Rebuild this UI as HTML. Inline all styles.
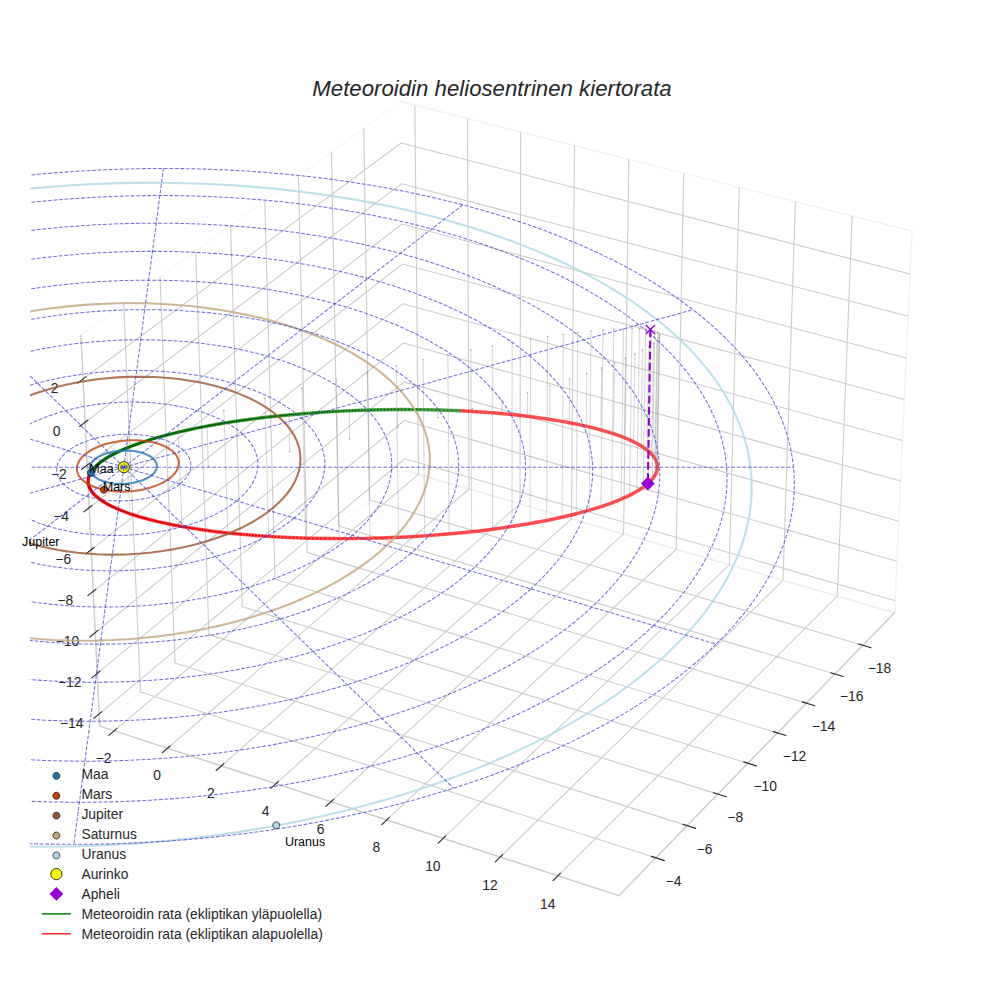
<!DOCTYPE html>
<html><head><meta charset="utf-8"><title>Meteoroidin heliosentrinen kiertorata</title>
<style>html,body{margin:0;padding:0;background:#fff;}body{width:984px;height:984px;overflow:hidden;font-family:"Liberation Sans",sans-serif;}svg{display:block;}</style>
</head><body>
<svg  width="984" height="984" viewBox="0 0 708.48 708.48"  version="1.1">
<defs>
<style type="text/css">*{stroke-linejoin: round; stroke-linecap: butt}</style>
</defs>
<g id="figure_1">
<g id="patch_1">
<path d="M 0 708.48
L 708.48 708.48
L 708.48 0
L 0 0
z
" style="fill: #ffffff"/>
</g>
<g id="patch_2">
<path d="M 21.6 686.88
L 686.88 686.88
L 686.88 21.6
L 21.6 21.6
z
" style="fill: #ffffff"/>
</g>
<g id="pane3d_1">
<g id="patch_3">
<path d="M 291.53 338.69
L 71.83 522.84
L 58.27 241.1
L 288.48 73.1
" style="fill: none; opacity: 0.5; stroke: #f2f2f2; stroke-linejoin: miter"/>
</g>
</g>
<g id="pane3d_2">
<g id="patch_4">
<path d="M 291.53 338.69
L 644.07 441.16
L 656.65 166.43
L 288.48 73.1
" style="fill: none; opacity: 0.5; stroke: #e6e6e6; stroke-linejoin: miter"/>
</g>
</g>
<g id="pane3d_3">
<g id="patch_5">
<path d="M 291.53 338.69
L 644.07 441.16
L 445.54 644.9
L 71.83 522.84
" style="fill: none; opacity: 0.5; stroke: #ececec; stroke-linejoin: miter"/>
</g>
</g>
<g id="grid3d_1">
<g id="Line3DCollection_1">
<path d="M 82.17 526.22
L 301.33 341.54
L 298.69 75.69
" style="fill: none; stroke: #cccccc; stroke-width: 0.8"/>
<path d="M 120.56 538.76
L 337.68 352.1
L 336.58 85.3
" style="fill: none; stroke: #cccccc; stroke-width: 0.8"/>
<path d="M 159.38 551.44
L 374.4 362.77
L 374.88 95.01
" style="fill: none; stroke: #cccccc; stroke-width: 0.8"/>
<path d="M 198.63 564.26
L 411.5 373.56
L 413.59 104.82
" style="fill: none; stroke: #cccccc; stroke-width: 0.8"/>
<path d="M 238.33 577.22
L 448.98 384.45
L 452.72 114.74
" style="fill: none; stroke: #cccccc; stroke-width: 0.8"/>
<path d="M 278.48 590.33
L 486.85 395.46
L 492.27 124.76
" style="fill: none; stroke: #cccccc; stroke-width: 0.8"/>
<path d="M 319.08 603.6
L 525.12 406.58
L 532.25 134.9
" style="fill: none; stroke: #cccccc; stroke-width: 0.8"/>
<path d="M 360.16 617.01
L 563.79 417.83
L 572.68 145.14
" style="fill: none; stroke: #cccccc; stroke-width: 0.8"/>
<path d="M 401.7 630.58
L 602.88 429.18
L 613.55 155.5
" style="fill: none; stroke: #cccccc; stroke-width: 0.8"/>
</g>
</g>
<g id="grid3d_2">
<g id="Line3DCollection_2">
<path d="M 261.95 92.46
L 266.13 359.98
L 621.2 464.62
" style="fill: none; stroke: #cccccc; stroke-width: 0.8"/>
<path d="M 238.64 109.48
L 243.83 378.68
L 601.11 485.24
" style="fill: none; stroke: #cccccc; stroke-width: 0.8"/>
<path d="M 214.88 126.81
L 221.12 397.71
L 580.63 506.26
" style="fill: none; stroke: #cccccc; stroke-width: 0.8"/>
<path d="M 190.68 144.47
L 197.99 417.09
L 559.76 527.68
" style="fill: none; stroke: #cccccc; stroke-width: 0.8"/>
<path d="M 166.01 162.48
L 174.45 436.83
L 538.48 549.51
" style="fill: none; stroke: #cccccc; stroke-width: 0.8"/>
<path d="M 140.86 180.83
L 150.46 456.93
L 516.79 571.77
" style="fill: none; stroke: #cccccc; stroke-width: 0.8"/>
<path d="M 115.22 199.54
L 126.03 477.41
L 494.68 594.47
" style="fill: none; stroke: #cccccc; stroke-width: 0.8"/>
<path d="M 89.07 218.62
L 101.13 498.28
L 472.12 617.62
" style="fill: none; stroke: #cccccc; stroke-width: 0.8"/>
</g>
</g>
<g id="grid3d_3">
<g id="Line3DCollection_3">
<path d="M 644.46 432.5
L 291.43 330.3
L 71.41 513.98
" style="fill: none; stroke: #cccccc; stroke-width: 0.8"/>
<path d="M 645.76 404.06
L 291.12 302.76
L 70 484.85
" style="fill: none; stroke: #cccccc; stroke-width: 0.8"/>
<path d="M 647.08 375.35
L 290.8 274.97
L 68.59 455.44
" style="fill: none; stroke: #cccccc; stroke-width: 0.8"/>
<path d="M 648.41 346.37
L 290.48 246.94
L 67.16 425.75
" style="fill: none; stroke: #cccccc; stroke-width: 0.8"/>
<path d="M 649.75 317.13
L 290.15 218.65
L 65.71 395.77
" style="fill: none; stroke: #cccccc; stroke-width: 0.8"/>
<path d="M 651.1 287.6
L 289.82 190.11
L 64.26 365.49
" style="fill: none; stroke: #cccccc; stroke-width: 0.8"/>
<path d="M 652.46 257.8
L 289.49 161.31
L 62.78 334.91
" style="fill: none; stroke: #cccccc; stroke-width: 0.8"/>
<path d="M 653.84 227.71
L 289.16 132.25
L 61.3 304.03
" style="fill: none; stroke: #cccccc; stroke-width: 0.8"/>
<path d="M 655.23 197.33
L 288.82 102.93
L 59.79 272.85
" style="fill: none; stroke: #cccccc; stroke-width: 0.8"/>
</g>
</g>
<g id="axis3d_1">
<g id="line2d_1">
<path d="M 71.83 522.84
L 445.54 644.9
" style="fill: none; stroke: #cccccc; stroke-linecap: round"/>
</g>
<g id="xtick_1">
<g id="line2d_2">
<path d="M 363.23 345.25
" clip-path="url(#p7f481affdd)" style="fill: none; stroke: #cccccc; stroke-width: 0.8; stroke-linecap: round"/>
</g>
<g id="line2d_3">
<path d="M 84.08 524.61
L 78.35 529.44
" style="fill: none; stroke: #262626; stroke-width: 0.8; stroke-linecap: round"/>
</g>
<g id="text_1">
<text style="font-size: 10px; font-family: 'Liberation Sans', sans-serif; text-anchor: middle; fill: #262626" x="74.66" y="549.11" transform="rotate(-0 74.65708 549.10945)">−2</text>
</g>
</g>
<g id="xtick_2">
<g id="line2d_4">
<path d="M 363.23 345.25
" clip-path="url(#p7f481affdd)" style="fill: none; stroke: #cccccc; stroke-width: 0.8; stroke-linecap: round"/>
</g>
<g id="line2d_5">
<path d="M 122.45 537.13
L 116.77 542.02
" style="fill: none; stroke: #262626; stroke-width: 0.8; stroke-linecap: round"/>
</g>
<g id="text_2">
<text style="font-size: 10px; font-family: 'Liberation Sans', sans-serif; text-anchor: middle; fill: #262626" x="113.06" y="561.75" transform="rotate(-0 113.0607 561.75274)">0</text>
</g>
</g>
<g id="xtick_3">
<g id="line2d_6">
<path d="M 363.23 345.25
" clip-path="url(#p7f481affdd)" style="fill: none; stroke: #cccccc; stroke-width: 0.8; stroke-linecap: round"/>
</g>
<g id="line2d_7">
<path d="M 161.25 549.79
L 155.62 554.73
" style="fill: none; stroke: #262626; stroke-width: 0.8; stroke-linecap: round"/>
</g>
<g id="text_3">
<text style="font-size: 10px; font-family: 'Liberation Sans', sans-serif; text-anchor: middle; fill: #262626" x="151.89" y="574.54" transform="rotate(-0 151.89398 574.53748)">2</text>
</g>
</g>
<g id="xtick_4">
<g id="line2d_8">
<path d="M 363.23 345.25
" clip-path="url(#p7f481affdd)" style="fill: none; stroke: #cccccc; stroke-width: 0.8; stroke-linecap: round"/>
</g>
<g id="line2d_9">
<path d="M 200.49 562.59
L 194.91 567.59
" style="fill: none; stroke: #262626; stroke-width: 0.8; stroke-linecap: round"/>
</g>
<g id="text_4">
<text style="font-size: 10px; font-family: 'Liberation Sans', sans-serif; text-anchor: middle; fill: #262626" x="191.16" y="587.47" transform="rotate(-0 191.16416 587.46607)">4</text>
</g>
</g>
<g id="xtick_5">
<g id="line2d_10">
<path d="M 363.23 345.25
" clip-path="url(#p7f481affdd)" style="fill: none; stroke: #cccccc; stroke-width: 0.8; stroke-linecap: round"/>
</g>
<g id="line2d_11">
<path d="M 240.17 575.54
L 234.65 580.59
" style="fill: none; stroke: #262626; stroke-width: 0.8; stroke-linecap: round"/>
</g>
<g id="text_5">
<text style="font-size: 10px; font-family: 'Liberation Sans', sans-serif; text-anchor: middle; fill: #262626" x="230.88" y="600.54" transform="rotate(-0 230.87866 600.54093)">6</text>
</g>
</g>
<g id="xtick_6">
<g id="line2d_12">
<path d="M 363.23 345.25
" clip-path="url(#p7f481affdd)" style="fill: none; stroke: #cccccc; stroke-width: 0.8; stroke-linecap: round"/>
</g>
<g id="line2d_13">
<path d="M 280.3 588.63
L 274.83 593.74
" style="fill: none; stroke: #262626; stroke-width: 0.8; stroke-linecap: round"/>
</g>
<g id="text_6">
<text style="font-size: 10px; font-family: 'Liberation Sans', sans-serif; text-anchor: middle; fill: #262626" x="271.05" y="613.76" transform="rotate(-0 271.04507 613.76457)">8</text>
</g>
</g>
<g id="xtick_7">
<g id="line2d_14">
<path d="M 363.23 345.25
" clip-path="url(#p7f481affdd)" style="fill: none; stroke: #cccccc; stroke-width: 0.8; stroke-linecap: round"/>
</g>
<g id="line2d_15">
<path d="M 320.88 601.88
L 315.48 607.04
" style="fill: none; stroke: #262626; stroke-width: 0.8; stroke-linecap: round"/>
</g>
<g id="text_7">
<text style="font-size: 10px; font-family: 'Liberation Sans', sans-serif; text-anchor: middle; fill: #262626" x="311.67" y="627.14" transform="rotate(-0 311.67113 627.13954)">10</text>
</g>
</g>
<g id="xtick_8">
<g id="line2d_16">
<path d="M 363.23 345.25
" clip-path="url(#p7f481affdd)" style="fill: none; stroke: #cccccc; stroke-width: 0.8; stroke-linecap: round"/>
</g>
<g id="line2d_17">
<path d="M 361.94 615.27
L 356.59 620.5
" style="fill: none; stroke: #262626; stroke-width: 0.8; stroke-linecap: round"/>
</g>
<g id="text_8">
<text style="font-size: 10px; font-family: 'Liberation Sans', sans-serif; text-anchor: middle; fill: #262626" x="352.76" y="640.67" transform="rotate(-0 352.76479 640.66845)">12</text>
</g>
</g>
<g id="xtick_9">
<g id="line2d_18">
<path d="M 363.23 345.25
" clip-path="url(#p7f481affdd)" style="fill: none; stroke: #cccccc; stroke-width: 0.8; stroke-linecap: round"/>
</g>
<g id="line2d_19">
<path d="M 403.46 628.82
L 398.18 634.11
" style="fill: none; stroke: #262626; stroke-width: 0.8; stroke-linecap: round"/>
</g>
<g id="text_9">
<text style="font-size: 10px; font-family: 'Liberation Sans', sans-serif; text-anchor: middle; fill: #262626" x="394.33" y="654.35" transform="rotate(-0 394.33417 654.35398)">14</text>
</g>
</g>
</g>
<g id="axis3d_2">
<g id="line2d_20">
<path d="M 644.07 441.16
L 445.54 644.9
" style="fill: none; stroke: #cccccc; stroke-linecap: round"/>
</g>
<g id="xtick_10">
<g id="line2d_21">
<path d="M 363.23 345.25
" clip-path="url(#p7f481affdd)" style="fill: none; stroke: #cccccc; stroke-width: 0.8; stroke-linecap: round"/>
</g>
<g id="line2d_22">
<path d="M 618.22 463.74
L 627.17 466.38
" style="fill: none; stroke: #262626; stroke-width: 0.8; stroke-linecap: round"/>
</g>
<g id="text_10">
<text style="font-size: 10px; font-family: 'Liberation Sans', sans-serif; text-anchor: middle; fill: #262626" x="633.21" y="484.3" transform="rotate(-0 633.20981 484.303)">−18</text>
</g>
</g>
<g id="xtick_11">
<g id="line2d_23">
<path d="M 363.23 345.25
" clip-path="url(#p7f481affdd)" style="fill: none; stroke: #cccccc; stroke-width: 0.8; stroke-linecap: round"/>
</g>
<g id="line2d_24">
<path d="M 598.1 484.35
L 607.12 487.04
" style="fill: none; stroke: #262626; stroke-width: 0.8; stroke-linecap: round"/>
</g>
<g id="text_11">
<text style="font-size: 10px; font-family: 'Liberation Sans', sans-serif; text-anchor: middle; fill: #262626" x="613.22" y="505.05" transform="rotate(-0 613.22049 505.04958)">−16</text>
</g>
</g>
<g id="xtick_12">
<g id="line2d_25">
<path d="M 363.23 345.25
" clip-path="url(#p7f481affdd)" style="fill: none; stroke: #cccccc; stroke-width: 0.8; stroke-linecap: round"/>
</g>
<g id="line2d_26">
<path d="M 577.61 505.35
L 586.68 508.09
" style="fill: none; stroke: #262626; stroke-width: 0.8; stroke-linecap: round"/>
</g>
<g id="text_12">
<text style="font-size: 10px; font-family: 'Liberation Sans', sans-serif; text-anchor: middle; fill: #262626" x="592.85" y="526.19" transform="rotate(-0 592.85197 526.18974)">−14</text>
</g>
</g>
<g id="xtick_13">
<g id="line2d_27">
<path d="M 363.23 345.25
" clip-path="url(#p7f481affdd)" style="fill: none; stroke: #cccccc; stroke-width: 0.8; stroke-linecap: round"/>
</g>
<g id="line2d_28">
<path d="M 556.71 526.75
L 565.85 529.54
" style="fill: none; stroke: #262626; stroke-width: 0.8; stroke-linecap: round"/>
</g>
<g id="text_13">
<text style="font-size: 10px; font-family: 'Liberation Sans', sans-serif; text-anchor: middle; fill: #262626" x="572.09" y="547.73" transform="rotate(-0 572.09335 547.73477)">−12</text>
</g>
</g>
<g id="xtick_14">
<g id="line2d_29">
<path d="M 363.23 345.25
" clip-path="url(#p7f481affdd)" style="fill: none; stroke: #cccccc; stroke-width: 0.8; stroke-linecap: round"/>
</g>
<g id="line2d_30">
<path d="M 535.42 548.56
L 544.61 551.41
" style="fill: none; stroke: #262626; stroke-width: 0.8; stroke-linecap: round"/>
</g>
<g id="text_14">
<text style="font-size: 10px; font-family: 'Liberation Sans', sans-serif; text-anchor: middle; fill: #262626" x="550.93" y="569.7" transform="rotate(-0 550.93331 569.69642)">−10</text>
</g>
</g>
<g id="xtick_15">
<g id="line2d_31">
<path d="M 363.23 345.25
" clip-path="url(#p7f481affdd)" style="fill: none; stroke: #cccccc; stroke-width: 0.8; stroke-linecap: round"/>
</g>
<g id="line2d_32">
<path d="M 513.71 570.8
L 522.97 573.71
" style="fill: none; stroke: #262626; stroke-width: 0.8; stroke-linecap: round"/>
</g>
<g id="text_15">
<text style="font-size: 10px; font-family: 'Liberation Sans', sans-serif; text-anchor: middle; fill: #262626" x="529.36" y="592.09" transform="rotate(-0 529.36011 592.0869)">−8</text>
</g>
</g>
<g id="xtick_16">
<g id="line2d_33">
<path d="M 363.23 345.25
" clip-path="url(#p7f481affdd)" style="fill: none; stroke: #cccccc; stroke-width: 0.8; stroke-linecap: round"/>
</g>
<g id="line2d_34">
<path d="M 491.57 593.48
L 500.89 596.44
" style="fill: none; stroke: #262626; stroke-width: 0.8; stroke-linecap: round"/>
</g>
<g id="text_16">
<text style="font-size: 10px; font-family: 'Liberation Sans', sans-serif; text-anchor: middle; fill: #262626" x="507.36" y="614.92" transform="rotate(-0 507.36152 614.91887)">−6</text>
</g>
</g>
<g id="xtick_17">
<g id="line2d_35">
<path d="M 363.23 345.25
" clip-path="url(#p7f481affdd)" style="fill: none; stroke: #cccccc; stroke-width: 0.8; stroke-linecap: round"/>
</g>
<g id="line2d_36">
<path d="M 468.99 616.61
L 478.38 619.63
" style="fill: none; stroke: #262626; stroke-width: 0.8; stroke-linecap: round"/>
</g>
<g id="text_17">
<text style="font-size: 10px; font-family: 'Liberation Sans', sans-serif; text-anchor: middle; fill: #262626" x="484.92" y="638.21" transform="rotate(-0 484.92484 638.20554)">−4</text>
</g>
</g>
</g>
<g id="axis3d_3">
<g id="line2d_37">
<path d="M 71.83 522.84
L 58.27 241.1
" style="fill: none; stroke: #cccccc; stroke-linecap: round"/>
</g>
<g id="xtick_18">
<g id="line2d_38">
<path d="M 363.23 345.25
" style="fill: none; stroke: #cccccc; stroke-width: 0.8; stroke-linecap: round"/>
</g>
<g id="line2d_39">
<path d="M 73.32 512.38
L 67.57 517.19
" style="fill: none; stroke: #262626; stroke-width: 0.8; stroke-linecap: round"/>
</g>
<g id="text_18">
<text style="font-size: 10px; font-family: 'Liberation Sans', sans-serif; text-anchor: middle; fill: #262626" x="51.65" y="524.04" transform="rotate(-0 51.6463 524.03781)">−14</text>
</g>
</g>
<g id="xtick_19">
<g id="line2d_40">
<path d="M 363.23 345.25
" style="fill: none; stroke: #cccccc; stroke-width: 0.8; stroke-linecap: round"/>
</g>
<g id="line2d_41">
<path d="M 71.93 483.27
L 66.14 488.03
" style="fill: none; stroke: #262626; stroke-width: 0.8; stroke-linecap: round"/>
</g>
<g id="text_19">
<text style="font-size: 10px; font-family: 'Liberation Sans', sans-serif; text-anchor: middle; fill: #262626" x="50.15" y="494.89" transform="rotate(-0 50.14675 494.88698)">−12</text>
</g>
</g>
<g id="xtick_20">
<g id="line2d_42">
<path d="M 363.23 345.25
" style="fill: none; stroke: #cccccc; stroke-width: 0.8; stroke-linecap: round"/>
</g>
<g id="line2d_43">
<path d="M 70.52 453.87
L 64.71 458.6
" style="fill: none; stroke: #262626; stroke-width: 0.8; stroke-linecap: round"/>
</g>
<g id="text_20">
<text style="font-size: 10px; font-family: 'Liberation Sans', sans-serif; text-anchor: middle; fill: #262626" x="48.63" y="465.45" transform="rotate(-0 48.6327 465.4542)">−10</text>
</g>
</g>
<g id="xtick_21">
<g id="line2d_44">
<path d="M 363.23 345.25
" style="fill: none; stroke: #cccccc; stroke-width: 0.8; stroke-linecap: round"/>
</g>
<g id="line2d_45">
<path d="M 69.1 424.19
L 63.26 428.87
" style="fill: none; stroke: #262626; stroke-width: 0.8; stroke-linecap: round"/>
</g>
<g id="text_21">
<text style="font-size: 10px; font-family: 'Liberation Sans', sans-serif; text-anchor: middle; fill: #262626" x="47.1" y="435.74" transform="rotate(-0 47.10393 435.73537)">−8</text>
</g>
</g>
<g id="xtick_22">
<g id="line2d_46">
<path d="M 363.23 345.25
" style="fill: none; stroke: #cccccc; stroke-width: 0.8; stroke-linecap: round"/>
</g>
<g id="line2d_47">
<path d="M 67.67 394.22
L 61.79 398.86
" style="fill: none; stroke: #262626; stroke-width: 0.8; stroke-linecap: round"/>
</g>
<g id="text_22">
<text style="font-size: 10px; font-family: 'Liberation Sans', sans-serif; text-anchor: middle; fill: #262626" x="45.56" y="405.73" transform="rotate(-0 45.56023 405.7263)">−6</text>
</g>
</g>
<g id="xtick_23">
<g id="line2d_48">
<path d="M 363.23 345.25
" style="fill: none; stroke: #cccccc; stroke-width: 0.8; stroke-linecap: round"/>
</g>
<g id="line2d_49">
<path d="M 66.22 363.96
L 60.31 368.55
" style="fill: none; stroke: #262626; stroke-width: 0.8; stroke-linecap: round"/>
</g>
<g id="text_23">
<text style="font-size: 10px; font-family: 'Liberation Sans', sans-serif; text-anchor: middle; fill: #262626" x="44" y="375.42" transform="rotate(-0 44.00138 375.42271)">−4</text>
</g>
</g>
<g id="xtick_24">
<g id="line2d_50">
<path d="M 363.23 345.25
" style="fill: none; stroke: #cccccc; stroke-width: 0.8; stroke-linecap: round"/>
</g>
<g id="line2d_51">
<path d="M 64.76 333.4
L 58.82 337.95
" style="fill: none; stroke: #262626; stroke-width: 0.8; stroke-linecap: round"/>
</g>
<g id="text_24">
<text style="font-size: 10px; font-family: 'Liberation Sans', sans-serif; text-anchor: middle; fill: #262626" x="42.43" y="344.82" transform="rotate(-0 42.42715 344.82024)">−2</text>
</g>
</g>
<g id="xtick_25">
<g id="line2d_52">
<path d="M 363.23 345.25
" style="fill: none; stroke: #cccccc; stroke-width: 0.8; stroke-linecap: round"/>
</g>
<g id="line2d_53">
<path d="M 63.29 302.53
L 57.31 307.04
" style="fill: none; stroke: #262626; stroke-width: 0.8; stroke-linecap: round"/>
</g>
<g id="text_25">
<text style="font-size: 10px; font-family: 'Liberation Sans', sans-serif; text-anchor: middle; fill: #262626" x="40.84" y="313.91" transform="rotate(-0 40.83732 313.91445)">0</text>
</g>
</g>
<g id="xtick_26">
<g id="line2d_54">
<path d="M 363.23 345.25
" style="fill: none; stroke: #cccccc; stroke-width: 0.8; stroke-linecap: round"/>
</g>
<g id="line2d_55">
<path d="M 61.79 271.36
L 55.78 275.82
" style="fill: none; stroke: #262626; stroke-width: 0.8; stroke-linecap: round"/>
</g>
<g id="text_26">
<text style="font-size: 10px; font-family: 'Liberation Sans', sans-serif; text-anchor: middle; fill: #262626" x="39.23" y="282.7" transform="rotate(-0 39.23166 282.70082)">2</text>
</g>
</g>
</g>
<g id="axes_1">
<g id="line2d_56">
<defs>
<path id="m7e0662d85e" d="M 0 4
C 1.06 4 2.08 3.58 2.83 2.83
C 3.58 2.08 4 1.06 4 0
C 4 -1.06 3.58 -2.08 2.83 -2.83
C 2.08 -3.58 1.06 -4 0 -4
C -1.06 -4 -2.08 -3.58 -2.83 -2.83
C -3.58 -2.08 -4 -1.06 -4 0
C -4 1.06 -3.58 2.08 -2.83 2.83
C -2.08 3.58 -1.06 4 0 4
z
" style="stroke: #000000; stroke-width: 0.6"/>
</defs>
<g clip-path="url(#p7f481affdd)">
<use href="#m7e0662d85e" x="89.17" y="336.38" style="fill: #ffff00; stroke: #000000; stroke-width: 0.6"/>
</g>
</g>
<g id="line2d_57">
<path d="M 466.45 348.2
L 467.81 346.95
L 469.02 345.7
L 470.08 344.44
L 470.99 343.18
L 471.76 341.92
L 472.37 340.66
L 472.84 339.41
L 473.15 338.16
L 473.32 336.91
L 473.33 335.67
L 473.2 334.44
L 472.93 333.22
L 472.51 332.01
L 471.95 330.8
L 471.25 329.62
L 470.42 328.44
L 469.45 327.28
L 468.35 326.14
L 467.12 325.01
L 465.78 323.9
L 464.3 322.81
L 462.72 321.73
L 461.02 320.68
L 459.21 319.65
L 457.3 318.63
L 455.29 317.64
L 453.18 316.67
L 450.98 315.73
L 448.69 314.8
L 446.32 313.9
L 443.87 313.02
L 441.34 312.17
L 438.75 311.34
L 436.09 310.53
L 433.36 309.75
L 430.58 308.99
L 427.75 308.25
L 424.87 307.54
L 421.94 306.85
L 418.97 306.18
L 415.96 305.54
L 412.92 304.92
L 409.85 304.33
L 406.75 303.75
L 403.62 303.2
L 400.48 302.67
L 397.32 302.16
L 394.14 301.67
L 390.95 301.21
L 387.76 300.76
L 384.56 300.34
L 381.35 299.93
L 378.15 299.54
L 374.94 299.18
L 371.74 298.83
L 368.54 298.5
L 365.36 298.18
L 362.18 297.89
L 359.01 297.61
L 355.85 297.34
L 352.71 297.1
L 349.59 296.87
L 346.48 296.65
L 343.39 296.45
L 340.32 296.26
L 337.27 296.08
L 334.24 295.92
L 331.24 295.78
" clip-path="url(#p7f481affdd)" style="fill: none; stroke: #ff0000; stroke-opacity: 0.7; stroke-width: 2.5"/>
</g>
<g id="line2d_58">
<path d="M 331.24 295.78
L 316.58 295.22
L 302.59 294.92
L 289.32 294.85
L 274.37 295.01
L 260.47 295.38
L 245.55 296.01
L 231.95 296.8
L 217.89 297.84
L 203.79 299.13
L 191.3 300.48
L 179.06 302.02
L 167.31 303.71
L 156.22 305.51
L 145.16 307.54
L 135.14 309.61
L 125.6 311.81
L 117.17 313.98
L 109.37 316.21
L 102.26 318.48
L 95.86 320.76
L 90.33 322.96
L 85.37 325.17
L 81.08 327.31
L 77.36 329.42
L 74.22 331.45
L 71.56 333.42
L 69.38 335.31
L 67.6 337.13
L 66.17 338.9
L 65.22 340.37
L 65.22 340.37
" clip-path="url(#p7f481affdd)" style="fill: none; stroke: #008000; stroke-opacity: 0.7; stroke-width: 2.5"/>
</g>
<g id="line2d_59">
<path d="M 65.22 340.37
L 64.38 342.02
L 63.83 343.58
L 63.51 345.13
L 63.41 346.68
L 63.55 348.22
L 63.92 349.76
L 64.52 351.29
L 65.35 352.81
L 66.49 354.43
L 67.91 356.03
L 69.73 357.75
L 71.87 359.44
L 74.54 361.26
L 77.58 363.04
L 80.96 364.78
L 85.03 366.63
L 89.46 368.4
L 94.73 370.27
L 100.32 372.04
L 106.89 373.87
L 113.69 375.56
L 121.57 377.29
L 130.69 379.04
L 139.86 380.58
L 150.31 382.09
L 160.42 383.34
L 171.71 384.52
L 184.32 385.6
L 195.91 386.38
L 208.56 387.03
L 222.33 387.52
L 237.25 387.78
L 250.04 387.81
L 263.56 387.64
L 277.81 387.24
L 292.73 386.59
L 308.24 385.64
L 320.21 384.72
L 332.39 383.6
L 344.72 382.27
L 357.12 380.73
L 369.49 378.96
L 381.72 376.95
L 393.71 374.72
L 405.31 372.24
L 412.77 370.47
L 419.96 368.59
L 426.85 366.62
L 433.38 364.56
L 439.54 362.42
L 445.27 360.19
L 450.54 357.9
L 455.32 355.55
L 459.58 353.14
L 463.3 350.69
L 466.45 348.2
L 466.45 348.2
" clip-path="url(#p7f481affdd)" style="fill: none; stroke: #ff0000; stroke-opacity: 0.7; stroke-width: 2.5"/>
</g>
<g id="Path3DCollection_1">
<defs>
<path id="C0_0_9b8c488678" d="M 0 0.71
C 0.19 0.71 0.37 0.63 0.5 0.5
C 0.63 0.37 0.71 0.19 0.71 -0
C 0.71 -0.19 0.63 -0.37 0.5 -0.5
C 0.37 -0.63 0.19 -0.71 0 -0.71
C -0.19 -0.71 -0.37 -0.63 -0.5 -0.5
C -0.63 -0.37 -0.71 -0.19 -0.71 0
C -0.71 0.19 -0.63 0.37 -0.5 0.5
C -0.37 0.63 -0.19 0.71 0 0.71
z
"/>
</defs>
<g clip-path="url(#p7f481affdd)">
<use href="#C0_0_9b8c488678" x="352.99" y="381.27" style="fill: #e00000; fill-opacity: 0.034034"/>
</g>
<g clip-path="url(#p7f481affdd)">
<use href="#C0_0_9b8c488678" x="348.85" y="381.78" style="fill: #e00000; fill-opacity: 0.054054"/>
</g>
<g clip-path="url(#p7f481affdd)">
<use href="#C0_0_9b8c488678" x="344.72" y="382.27" style="fill: #e00000; fill-opacity: 0.074074"/>
</g>
<g clip-path="url(#p7f481affdd)">
<use href="#C0_0_9b8c488678" x="340.6" y="382.74" style="fill: #e00000; fill-opacity: 0.094094"/>
</g>
<g clip-path="url(#p7f481affdd)">
<use href="#C0_0_9b8c488678" x="336.49" y="383.18" style="fill: #e00000; fill-opacity: 0.114114"/>
</g>
<g clip-path="url(#p7f481affdd)">
<use href="#C0_0_9b8c488678" x="332.39" y="383.6" style="fill: #e00000; fill-opacity: 0.134134"/>
</g>
<g clip-path="url(#p7f481affdd)">
<use href="#C0_0_9b8c488678" x="328.31" y="383.99" style="fill: #e00000; fill-opacity: 0.154154"/>
</g>
<g clip-path="url(#p7f481affdd)">
<use href="#C0_0_9b8c488678" x="324.25" y="384.37" style="fill: #e00000; fill-opacity: 0.174174"/>
</g>
<g clip-path="url(#p7f481affdd)">
<use href="#C0_0_9b8c488678" x="320.21" y="384.72" style="fill: #e00000; fill-opacity: 0.194194"/>
</g>
<g clip-path="url(#p7f481affdd)">
<use href="#C0_0_9b8c488678" x="316.19" y="385.05" style="fill: #e00000; fill-opacity: 0.214214"/>
</g>
<g clip-path="url(#p7f481affdd)">
<use href="#C0_0_9b8c488678" x="312.21" y="385.35" style="fill: #e00000; fill-opacity: 0.234234"/>
</g>
<g clip-path="url(#p7f481affdd)">
<use href="#C0_0_9b8c488678" x="308.24" y="385.64" style="fill: #e00000; fill-opacity: 0.254254"/>
</g>
<g clip-path="url(#p7f481affdd)">
<use href="#C0_0_9b8c488678" x="304.32" y="385.9" style="fill: #e00000; fill-opacity: 0.274274"/>
</g>
<g clip-path="url(#p7f481affdd)">
<use href="#C0_0_9b8c488678" x="300.42" y="386.15" style="fill: #e00000; fill-opacity: 0.294294"/>
</g>
<g clip-path="url(#p7f481affdd)">
<use href="#C0_0_9b8c488678" x="296.56" y="386.38" style="fill: #e00000; fill-opacity: 0.314314"/>
</g>
<g clip-path="url(#p7f481affdd)">
<use href="#C0_0_9b8c488678" x="292.73" y="386.59" style="fill: #e00000; fill-opacity: 0.334334"/>
</g>
<g clip-path="url(#p7f481affdd)">
<use href="#C0_0_9b8c488678" x="288.94" y="386.78" style="fill: #e00000; fill-opacity: 0.354354"/>
</g>
<g clip-path="url(#p7f481affdd)">
<use href="#C0_0_9b8c488678" x="285.19" y="386.95" style="fill: #e00000; fill-opacity: 0.374374"/>
</g>
<g clip-path="url(#p7f481affdd)">
<use href="#C0_0_9b8c488678" x="281.48" y="387.1" style="fill: #e00000; fill-opacity: 0.394394"/>
</g>
<g clip-path="url(#p7f481affdd)">
<use href="#C0_0_9b8c488678" x="277.81" y="387.24" style="fill: #e00000; fill-opacity: 0.414414"/>
</g>
<g clip-path="url(#p7f481affdd)">
<use href="#C0_0_9b8c488678" x="274.18" y="387.36" style="fill: #e00000; fill-opacity: 0.434434"/>
</g>
<g clip-path="url(#p7f481affdd)">
<use href="#C0_0_9b8c488678" x="270.6" y="387.47" style="fill: #e00000; fill-opacity: 0.454454"/>
</g>
<g clip-path="url(#p7f481affdd)">
<use href="#C0_0_9b8c488678" x="267.06" y="387.56" style="fill: #e00000; fill-opacity: 0.474474"/>
</g>
<g clip-path="url(#p7f481affdd)">
<use href="#C0_0_9b8c488678" x="263.56" y="387.64" style="fill: #e00000; fill-opacity: 0.494494"/>
</g>
<g clip-path="url(#p7f481affdd)">
<use href="#C0_0_9b8c488678" x="260.11" y="387.7" style="fill: #e00000; fill-opacity: 0.514515"/>
</g>
<g clip-path="url(#p7f481affdd)">
<use href="#C0_0_9b8c488678" x="256.71" y="387.75" style="fill: #e00000; fill-opacity: 0.534535"/>
</g>
<g clip-path="url(#p7f481affdd)">
<use href="#C0_0_9b8c488678" x="253.35" y="387.79" style="fill: #e00000; fill-opacity: 0.554555"/>
</g>
<g clip-path="url(#p7f481affdd)">
<use href="#C0_0_9b8c488678" x="250.04" y="387.81" style="fill: #e00000; fill-opacity: 0.574575"/>
</g>
<g clip-path="url(#p7f481affdd)">
<use href="#C0_0_9b8c488678" x="246.77" y="387.82" style="fill: #e00000; fill-opacity: 0.594595"/>
</g>
<g clip-path="url(#p7f481affdd)">
<use href="#C0_0_9b8c488678" x="243.55" y="387.82" style="fill: #e00000; fill-opacity: 0.614615"/>
</g>
<g clip-path="url(#p7f481affdd)">
<use href="#C0_0_9b8c488678" x="240.38" y="387.81" style="fill: #e00000; fill-opacity: 0.634635"/>
</g>
<g clip-path="url(#p7f481affdd)">
<use href="#C0_0_9b8c488678" x="237.25" y="387.78" style="fill: #e00000; fill-opacity: 0.654655"/>
</g>
<g clip-path="url(#p7f481affdd)">
<use href="#C0_0_9b8c488678" x="234.17" y="387.75" style="fill: #e00000; fill-opacity: 0.674675"/>
</g>
<g clip-path="url(#p7f481affdd)">
<use href="#C0_0_9b8c488678" x="231.14" y="387.7" style="fill: #e00000; fill-opacity: 0.694695"/>
</g>
<g clip-path="url(#p7f481affdd)">
<use href="#C0_0_9b8c488678" x="228.16" y="387.65" style="fill: #e00000; fill-opacity: 0.714715"/>
</g>
<g clip-path="url(#p7f481affdd)">
<use href="#C0_0_9b8c488678" x="225.22" y="387.59" style="fill: #e00000; fill-opacity: 0.734735"/>
</g>
<g clip-path="url(#p7f481affdd)">
<use href="#C0_0_9b8c488678" x="222.33" y="387.52" style="fill: #e00000; fill-opacity: 0.754755"/>
</g>
<g clip-path="url(#p7f481affdd)">
<use href="#C0_0_9b8c488678" x="219.48" y="387.43" style="fill: #e00000; fill-opacity: 0.774775"/>
</g>
<g clip-path="url(#p7f481affdd)">
<use href="#C0_0_9b8c488678" x="216.68" y="387.35" style="fill: #e00000; fill-opacity: 0.794795"/>
</g>
<g clip-path="url(#p7f481affdd)">
<use href="#C0_0_9b8c488678" x="213.93" y="387.25" style="fill: #e00000; fill-opacity: 0.814815"/>
</g>
<g clip-path="url(#p7f481affdd)">
<use href="#C0_0_9b8c488678" x="211.22" y="387.15" style="fill: #e00000; fill-opacity: 0.834835"/>
</g>
<g clip-path="url(#p7f481affdd)">
<use href="#C0_0_9b8c488678" x="208.56" y="387.03" style="fill: #e00000; fill-opacity: 0.854855"/>
</g>
<g clip-path="url(#p7f481affdd)">
<use href="#C0_0_9b8c488678" x="205.94" y="386.92" style="fill: #e00000; fill-opacity: 0.874875"/>
</g>
<g clip-path="url(#p7f481affdd)">
<use href="#C0_0_9b8c488678" x="203.37" y="386.79" style="fill: #e00000; fill-opacity: 0.894895"/>
</g>
<g clip-path="url(#p7f481affdd)">
<use href="#C0_0_9b8c488678" x="200.84" y="386.66" style="fill: #e00000; fill-opacity: 0.914915"/>
</g>
<g clip-path="url(#p7f481affdd)">
<use href="#C0_0_9b8c488678" x="198.35" y="386.52" style="fill: #e00000; fill-opacity: 0.934935"/>
</g>
<g clip-path="url(#p7f481affdd)">
<use href="#C0_0_9b8c488678" x="195.91" y="386.38" style="fill: #e00000; fill-opacity: 0.954955"/>
</g>
<g clip-path="url(#p7f481affdd)">
<use href="#C0_0_9b8c488678" x="193.51" y="386.23" style="fill: #e00000; fill-opacity: 0.974975"/>
</g>
<g clip-path="url(#p7f481affdd)">
<use href="#C0_0_9b8c488678" x="191.15" y="386.08" style="fill: #e00000; fill-opacity: 0.994995"/>
</g>
<g clip-path="url(#p7f481affdd)">
<use href="#C0_0_9b8c488678" x="188.83" y="385.92" style="fill: #e00000"/>
</g>
<g clip-path="url(#p7f481affdd)">
<use href="#C0_0_9b8c488678" x="186.55" y="385.76" style="fill: #e00000"/>
</g>
<g clip-path="url(#p7f481affdd)">
<use href="#C0_0_9b8c488678" x="184.32" y="385.6" style="fill: #e00000"/>
</g>
<g clip-path="url(#p7f481affdd)">
<use href="#C0_0_9b8c488678" x="182.12" y="385.42" style="fill: #e00000"/>
</g>
<g clip-path="url(#p7f481affdd)">
<use href="#C0_0_9b8c488678" x="179.96" y="385.25" style="fill: #e00000"/>
</g>
<g clip-path="url(#p7f481affdd)">
<use href="#C0_0_9b8c488678" x="177.84" y="385.07" style="fill: #e00000"/>
</g>
<g clip-path="url(#p7f481affdd)">
<use href="#C0_0_9b8c488678" x="175.76" y="384.89" style="fill: #e00000"/>
</g>
<g clip-path="url(#p7f481affdd)">
<use href="#C0_0_9b8c488678" x="173.72" y="384.71" style="fill: #e00000"/>
</g>
<g clip-path="url(#p7f481affdd)">
<use href="#C0_0_9b8c488678" x="171.71" y="384.52" style="fill: #e00000"/>
</g>
<g clip-path="url(#p7f481affdd)">
<use href="#C0_0_9b8c488678" x="169.74" y="384.33" style="fill: #e00000"/>
</g>
<g clip-path="url(#p7f481affdd)">
<use href="#C0_0_9b8c488678" x="167.81" y="384.13" style="fill: #e00000"/>
</g>
<g clip-path="url(#p7f481affdd)">
<use href="#C0_0_9b8c488678" x="165.91" y="383.94" style="fill: #e00000"/>
</g>
<g clip-path="url(#p7f481affdd)">
<use href="#C0_0_9b8c488678" x="164.05" y="383.74" style="fill: #e00000"/>
</g>
<g clip-path="url(#p7f481affdd)">
<use href="#C0_0_9b8c488678" x="162.22" y="383.54" style="fill: #e00000"/>
</g>
<g clip-path="url(#p7f481affdd)">
<use href="#C0_0_9b8c488678" x="160.42" y="383.34" style="fill: #e00000"/>
</g>
<g clip-path="url(#p7f481affdd)">
<use href="#C0_0_9b8c488678" x="158.66" y="383.13" style="fill: #e00000"/>
</g>
<g clip-path="url(#p7f481affdd)">
<use href="#C0_0_9b8c488678" x="156.93" y="382.93" style="fill: #e00000"/>
</g>
<g clip-path="url(#p7f481affdd)">
<use href="#C0_0_9b8c488678" x="155.23" y="382.72" style="fill: #e00000"/>
</g>
<g clip-path="url(#p7f481affdd)">
<use href="#C0_0_9b8c488678" x="153.56" y="382.51" style="fill: #e00000"/>
</g>
<g clip-path="url(#p7f481affdd)">
<use href="#C0_0_9b8c488678" x="151.92" y="382.3" style="fill: #e00000"/>
</g>
<g clip-path="url(#p7f481affdd)">
<use href="#C0_0_9b8c488678" x="150.31" y="382.09" style="fill: #e00000"/>
</g>
<g clip-path="url(#p7f481affdd)">
<use href="#C0_0_9b8c488678" x="148.74" y="381.87" style="fill: #e00000"/>
</g>
<g clip-path="url(#p7f481affdd)">
<use href="#C0_0_9b8c488678" x="147.19" y="381.66" style="fill: #e00000"/>
</g>
<g clip-path="url(#p7f481affdd)">
<use href="#C0_0_9b8c488678" x="145.67" y="381.44" style="fill: #e00000"/>
</g>
<g clip-path="url(#p7f481affdd)">
<use href="#C0_0_9b8c488678" x="144.18" y="381.23" style="fill: #e00000"/>
</g>
<g clip-path="url(#p7f481affdd)">
<use href="#C0_0_9b8c488678" x="142.71" y="381.01" style="fill: #e00000"/>
</g>
<g clip-path="url(#p7f481affdd)">
<use href="#C0_0_9b8c488678" x="141.27" y="380.79" style="fill: #e00000"/>
</g>
<g clip-path="url(#p7f481affdd)">
<use href="#C0_0_9b8c488678" x="139.86" y="380.58" style="fill: #e00000"/>
</g>
<g clip-path="url(#p7f481affdd)">
<use href="#C0_0_9b8c488678" x="138.48" y="380.36" style="fill: #e00000"/>
</g>
<g clip-path="url(#p7f481affdd)">
<use href="#C0_0_9b8c488678" x="137.12" y="380.14" style="fill: #e00000"/>
</g>
<g clip-path="url(#p7f481affdd)">
<use href="#C0_0_9b8c488678" x="135.79" y="379.92" style="fill: #e00000"/>
</g>
<g clip-path="url(#p7f481affdd)">
<use href="#C0_0_9b8c488678" x="134.48" y="379.7" style="fill: #e00000"/>
</g>
<g clip-path="url(#p7f481affdd)">
<use href="#C0_0_9b8c488678" x="133.19" y="379.48" style="fill: #e00000"/>
</g>
<g clip-path="url(#p7f481affdd)">
<use href="#C0_0_9b8c488678" x="131.93" y="379.26" style="fill: #e00000"/>
</g>
<g clip-path="url(#p7f481affdd)">
<use href="#C0_0_9b8c488678" x="130.69" y="379.04" style="fill: #e00000"/>
</g>
<g clip-path="url(#p7f481affdd)">
<use href="#C0_0_9b8c488678" x="129.47" y="378.82" style="fill: #e00000"/>
</g>
<g clip-path="url(#p7f481affdd)">
<use href="#C0_0_9b8c488678" x="365.36" y="298.18" style="fill: #e00000; fill-opacity: 0.054054"/>
</g>
<g clip-path="url(#p7f481affdd)">
<use href="#C0_0_9b8c488678" x="128.28" y="378.6" style="fill: #e00000"/>
</g>
<g clip-path="url(#p7f481affdd)">
<use href="#C0_0_9b8c488678" x="127.11" y="378.38" style="fill: #e00000"/>
</g>
<g clip-path="url(#p7f481affdd)">
<use href="#C0_0_9b8c488678" x="125.96" y="378.16" style="fill: #e00000"/>
</g>
<g clip-path="url(#p7f481affdd)">
<use href="#C0_0_9b8c488678" x="362.18" y="297.89" style="fill: #e00000; fill-opacity: 0.09009"/>
</g>
<g clip-path="url(#p7f481affdd)">
<use href="#C0_0_9b8c488678" x="124.83" y="377.94" style="fill: #e00000"/>
</g>
<g clip-path="url(#p7f481affdd)">
<use href="#C0_0_9b8c488678" x="123.72" y="377.73" style="fill: #e00000"/>
</g>
<g clip-path="url(#p7f481affdd)">
<use href="#C0_0_9b8c488678" x="359.01" y="297.61" style="fill: #e00000; fill-opacity: 0.126126"/>
</g>
<g clip-path="url(#p7f481affdd)">
<use href="#C0_0_9b8c488678" x="122.64" y="377.51" style="fill: #e00000"/>
</g>
<g clip-path="url(#p7f481affdd)">
<use href="#C0_0_9b8c488678" x="121.57" y="377.29" style="fill: #e00000"/>
</g>
<g clip-path="url(#p7f481affdd)">
<use href="#C0_0_9b8c488678" x="355.85" y="297.34" style="fill: #e00000; fill-opacity: 0.162162"/>
</g>
<g clip-path="url(#p7f481affdd)">
<use href="#C0_0_9b8c488678" x="120.52" y="377.07" style="fill: #e00000"/>
</g>
<g clip-path="url(#p7f481affdd)">
<use href="#C0_0_9b8c488678" x="119.49" y="376.85" style="fill: #e00000"/>
</g>
<g clip-path="url(#p7f481affdd)">
<use href="#C0_0_9b8c488678" x="118.48" y="376.64" style="fill: #e00000"/>
</g>
<g clip-path="url(#p7f481affdd)">
<use href="#C0_0_9b8c488678" x="352.71" y="297.1" style="fill: #e00000; fill-opacity: 0.198198"/>
</g>
<g clip-path="url(#p7f481affdd)">
<use href="#C0_0_9b8c488678" x="117.49" y="376.42" style="fill: #e00000"/>
</g>
<g clip-path="url(#p7f481affdd)">
<use href="#C0_0_9b8c488678" x="116.51" y="376.2" style="fill: #e00000"/>
</g>
<g clip-path="url(#p7f481affdd)">
<use href="#C0_0_9b8c488678" x="349.59" y="296.87" style="fill: #e00000; fill-opacity: 0.234234"/>
</g>
<g clip-path="url(#p7f481affdd)">
<use href="#C0_0_9b8c488678" x="115.56" y="375.99" style="fill: #e00000"/>
</g>
<g clip-path="url(#p7f481affdd)">
<use href="#C0_0_9b8c488678" x="114.62" y="375.77" style="fill: #e00000"/>
</g>
<g clip-path="url(#p7f481affdd)">
<use href="#C0_0_9b8c488678" x="346.48" y="296.65" style="fill: #e00000; fill-opacity: 0.27027"/>
</g>
<g clip-path="url(#p7f481affdd)">
<use href="#C0_0_9b8c488678" x="113.69" y="375.56" style="fill: #e00000"/>
</g>
<g clip-path="url(#p7f481affdd)">
<use href="#C0_0_9b8c488678" x="112.79" y="375.35" style="fill: #e00000"/>
</g>
<g clip-path="url(#p7f481affdd)">
<use href="#C0_0_9b8c488678" x="111.9" y="375.13" style="fill: #e00000"/>
</g>
<g clip-path="url(#p7f481affdd)">
<use href="#C0_0_9b8c488678" x="343.39" y="296.45" style="fill: #e00000; fill-opacity: 0.306306"/>
</g>
<g clip-path="url(#p7f481affdd)">
<use href="#C0_0_9b8c488678" x="111.03" y="374.92" style="fill: #e00000"/>
</g>
<g clip-path="url(#p7f481affdd)">
<use href="#C0_0_9b8c488678" x="110.17" y="374.71" style="fill: #e00000"/>
</g>
<g clip-path="url(#p7f481affdd)">
<use href="#C0_0_9b8c488678" x="340.32" y="296.26" style="fill: #e00000; fill-opacity: 0.342342"/>
</g>
<g clip-path="url(#p7f481affdd)">
<use href="#C0_0_9b8c488678" x="109.33" y="374.5" style="fill: #e00000"/>
</g>
<g clip-path="url(#p7f481affdd)">
<use href="#C0_0_9b8c488678" x="108.5" y="374.29" style="fill: #e00000"/>
</g>
<g clip-path="url(#p7f481affdd)">
<use href="#C0_0_9b8c488678" x="107.69" y="374.08" style="fill: #e00000"/>
</g>
<g clip-path="url(#p7f481affdd)">
<use href="#C0_0_9b8c488678" x="337.27" y="296.08" style="fill: #e00000; fill-opacity: 0.378378"/>
</g>
<g clip-path="url(#p7f481affdd)">
<use href="#C0_0_9b8c488678" x="106.89" y="373.87" style="fill: #e00000"/>
</g>
<g clip-path="url(#p7f481affdd)">
<use href="#C0_0_9b8c488678" x="106.11" y="373.67" style="fill: #e00000"/>
</g>
<g clip-path="url(#p7f481affdd)">
<use href="#C0_0_9b8c488678" x="334.24" y="295.92" style="fill: #e00000; fill-opacity: 0.414414"/>
</g>
<g clip-path="url(#p7f481affdd)">
<use href="#C0_0_9b8c488678" x="105.34" y="373.46" style="fill: #e00000"/>
</g>
<g clip-path="url(#p7f481affdd)">
<use href="#C0_0_9b8c488678" x="104.58" y="373.25" style="fill: #e00000"/>
</g>
<g clip-path="url(#p7f481affdd)">
<use href="#C0_0_9b8c488678" x="103.84" y="373.05" style="fill: #e00000"/>
</g>
<g clip-path="url(#p7f481affdd)">
<use href="#C0_0_9b8c488678" x="331.24" y="295.78" style="fill: #006400; fill-opacity: 0.45045"/>
</g>
<g clip-path="url(#p7f481affdd)">
<use href="#C0_0_9b8c488678" x="103.11" y="372.84" style="fill: #e00000"/>
</g>
<g clip-path="url(#p7f481affdd)">
<use href="#C0_0_9b8c488678" x="102.4" y="372.64" style="fill: #e00000"/>
</g>
<g clip-path="url(#p7f481affdd)">
<use href="#C0_0_9b8c488678" x="328.26" y="295.64" style="fill: #006400; fill-opacity: 0.486486"/>
</g>
<g clip-path="url(#p7f481affdd)">
<use href="#C0_0_9b8c488678" x="101.69" y="372.44" style="fill: #e00000"/>
</g>
<g clip-path="url(#p7f481affdd)">
<use href="#C0_0_9b8c488678" x="101" y="372.24" style="fill: #e00000"/>
</g>
<g clip-path="url(#p7f481affdd)">
<use href="#C0_0_9b8c488678" x="100.32" y="372.04" style="fill: #e00000"/>
</g>
<g clip-path="url(#p7f481affdd)">
<use href="#C0_0_9b8c488678" x="325.3" y="295.52" style="fill: #006400; fill-opacity: 0.522523"/>
</g>
<g clip-path="url(#p7f481affdd)">
<use href="#C0_0_9b8c488678" x="99.66" y="371.84" style="fill: #e00000"/>
</g>
<g clip-path="url(#p7f481affdd)">
<use href="#C0_0_9b8c488678" x="99" y="371.64" style="fill: #e00000"/>
</g>
<g clip-path="url(#p7f481affdd)">
<use href="#C0_0_9b8c488678" x="98.36" y="371.44" style="fill: #e00000"/>
</g>
<g clip-path="url(#p7f481affdd)">
<use href="#C0_0_9b8c488678" x="322.37" y="295.41" style="fill: #006400; fill-opacity: 0.558559"/>
</g>
<g clip-path="url(#p7f481affdd)">
<use href="#C0_0_9b8c488678" x="97.73" y="371.24" style="fill: #e00000"/>
</g>
<g clip-path="url(#p7f481affdd)">
<use href="#C0_0_9b8c488678" x="97.1" y="371.05" style="fill: #e00000"/>
</g>
<g clip-path="url(#p7f481affdd)">
<use href="#C0_0_9b8c488678" x="319.46" y="295.31" style="fill: #006400; fill-opacity: 0.594595"/>
</g>
<g clip-path="url(#p7f481affdd)">
<use href="#C0_0_9b8c488678" x="96.49" y="370.85" style="fill: #e00000"/>
</g>
<g clip-path="url(#p7f481affdd)">
<use href="#C0_0_9b8c488678" x="95.89" y="370.66" style="fill: #e00000"/>
</g>
<g clip-path="url(#p7f481affdd)">
<use href="#C0_0_9b8c488678" x="95.31" y="370.46" style="fill: #e00000"/>
</g>
<g clip-path="url(#p7f481affdd)">
<use href="#C0_0_9b8c488678" x="316.58" y="295.22" style="fill: #006400; fill-opacity: 0.630631"/>
</g>
<g clip-path="url(#p7f481affdd)">
<use href="#C0_0_9b8c488678" x="94.73" y="370.27" style="fill: #e00000"/>
</g>
<g clip-path="url(#p7f481affdd)">
<use href="#C0_0_9b8c488678" x="94.16" y="370.08" style="fill: #e00000"/>
</g>
<g clip-path="url(#p7f481affdd)">
<use href="#C0_0_9b8c488678" x="93.6" y="369.89" style="fill: #e00000"/>
</g>
<g clip-path="url(#p7f481affdd)">
<use href="#C0_0_9b8c488678" x="313.73" y="295.14" style="fill: #006400; fill-opacity: 0.666667"/>
</g>
<g clip-path="url(#p7f481affdd)">
<use href="#C0_0_9b8c488678" x="93.05" y="369.7" style="fill: #e00000"/>
</g>
<g clip-path="url(#p7f481affdd)">
<use href="#C0_0_9b8c488678" x="92.51" y="369.51" style="fill: #e00000"/>
</g>
<g clip-path="url(#p7f481affdd)">
<use href="#C0_0_9b8c488678" x="310.9" y="295.07" style="fill: #006400; fill-opacity: 0.702703"/>
</g>
<g clip-path="url(#p7f481affdd)">
<use href="#C0_0_9b8c488678" x="91.98" y="369.33" style="fill: #e00000"/>
</g>
<g clip-path="url(#p7f481affdd)">
<use href="#C0_0_9b8c488678" x="91.46" y="369.14" style="fill: #e00000"/>
</g>
<g clip-path="url(#p7f481affdd)">
<use href="#C0_0_9b8c488678" x="90.95" y="368.95" style="fill: #e00000"/>
</g>
<g clip-path="url(#p7f481affdd)">
<use href="#C0_0_9b8c488678" x="308.1" y="295.01" style="fill: #006400; fill-opacity: 0.738739"/>
</g>
<g clip-path="url(#p7f481affdd)">
<use href="#C0_0_9b8c488678" x="90.44" y="368.77" style="fill: #e00000"/>
</g>
<g clip-path="url(#p7f481affdd)">
<use href="#C0_0_9b8c488678" x="89.95" y="368.59" style="fill: #e00000"/>
</g>
<g clip-path="url(#p7f481affdd)">
<use href="#C0_0_9b8c488678" x="89.46" y="368.4" style="fill: #e00000"/>
</g>
<g clip-path="url(#p7f481affdd)">
<use href="#C0_0_9b8c488678" x="305.33" y="294.96" style="fill: #006400; fill-opacity: 0.774775"/>
</g>
<g clip-path="url(#p7f481affdd)">
<use href="#C0_0_9b8c488678" x="88.98" y="368.22" style="fill: #e00000"/>
</g>
<g clip-path="url(#p7f481affdd)">
<use href="#C0_0_9b8c488678" x="88.51" y="368.04" style="fill: #e00000"/>
</g>
<g clip-path="url(#p7f481affdd)">
<use href="#C0_0_9b8c488678" x="88.05" y="367.86" style="fill: #e00000"/>
</g>
<g clip-path="url(#p7f481affdd)">
<use href="#C0_0_9b8c488678" x="302.59" y="294.92" style="fill: #006400; fill-opacity: 0.810811"/>
</g>
<g clip-path="url(#p7f481affdd)">
<use href="#C0_0_9b8c488678" x="87.6" y="367.68" style="fill: #e00000"/>
</g>
<g clip-path="url(#p7f481affdd)">
<use href="#C0_0_9b8c488678" x="87.15" y="367.5" style="fill: #e00000"/>
</g>
<g clip-path="url(#p7f481affdd)">
<use href="#C0_0_9b8c488678" x="86.71" y="367.33" style="fill: #e00000"/>
</g>
<g clip-path="url(#p7f481affdd)">
<use href="#C0_0_9b8c488678" x="299.88" y="294.89" style="fill: #006400; fill-opacity: 0.846847"/>
</g>
<g clip-path="url(#p7f481affdd)">
<use href="#C0_0_9b8c488678" x="86.28" y="367.15" style="fill: #e00000"/>
</g>
<g clip-path="url(#p7f481affdd)">
<use href="#C0_0_9b8c488678" x="85.86" y="366.98" style="fill: #e00000"/>
</g>
<g clip-path="url(#p7f481affdd)">
<use href="#C0_0_9b8c488678" x="85.44" y="366.8" style="fill: #e00000"/>
</g>
<g clip-path="url(#p7f481affdd)">
<use href="#C0_0_9b8c488678" x="297.19" y="294.87" style="fill: #006400; fill-opacity: 0.882883"/>
</g>
<g clip-path="url(#p7f481affdd)">
<use href="#C0_0_9b8c488678" x="85.03" y="366.63" style="fill: #e00000"/>
</g>
<g clip-path="url(#p7f481affdd)">
<use href="#C0_0_9b8c488678" x="84.63" y="366.46" style="fill: #e00000"/>
</g>
<g clip-path="url(#p7f481affdd)">
<use href="#C0_0_9b8c488678" x="84.23" y="366.28" style="fill: #e00000"/>
</g>
<g clip-path="url(#p7f481affdd)">
<use href="#C0_0_9b8c488678" x="294.54" y="294.86" style="fill: #006400; fill-opacity: 0.918919"/>
</g>
<g clip-path="url(#p7f481affdd)">
<use href="#C0_0_9b8c488678" x="83.84" y="366.11" style="fill: #e00000"/>
</g>
<g clip-path="url(#p7f481affdd)">
<use href="#C0_0_9b8c488678" x="83.46" y="365.94" style="fill: #e00000"/>
</g>
<g clip-path="url(#p7f481affdd)">
<use href="#C0_0_9b8c488678" x="83.09" y="365.78" style="fill: #e00000"/>
</g>
<g clip-path="url(#p7f481affdd)">
<use href="#C0_0_9b8c488678" x="291.91" y="294.85" style="fill: #006400; fill-opacity: 0.954955"/>
</g>
<g clip-path="url(#p7f481affdd)">
<use href="#C0_0_9b8c488678" x="82.72" y="365.61" style="fill: #e00000"/>
</g>
<g clip-path="url(#p7f481affdd)">
<use href="#C0_0_9b8c488678" x="82.35" y="365.44" style="fill: #e00000"/>
</g>
<g clip-path="url(#p7f481affdd)">
<use href="#C0_0_9b8c488678" x="82" y="365.27" style="fill: #e00000"/>
</g>
<g clip-path="url(#p7f481affdd)">
<use href="#C0_0_9b8c488678" x="289.32" y="294.85" style="fill: #006400; fill-opacity: 0.990991"/>
</g>
<g clip-path="url(#p7f481affdd)">
<use href="#C0_0_9b8c488678" x="81.64" y="365.11" style="fill: #e00000"/>
</g>
<g clip-path="url(#p7f481affdd)">
<use href="#C0_0_9b8c488678" x="81.3" y="364.95" style="fill: #e00000"/>
</g>
<g clip-path="url(#p7f481affdd)">
<use href="#C0_0_9b8c488678" x="80.96" y="364.78" style="fill: #e00000"/>
</g>
<g clip-path="url(#p7f481affdd)">
<use href="#C0_0_9b8c488678" x="286.75" y="294.86" style="fill: #006400"/>
</g>
<g clip-path="url(#p7f481affdd)">
<use href="#C0_0_9b8c488678" x="80.63" y="364.62" style="fill: #e00000"/>
</g>
<g clip-path="url(#p7f481affdd)">
<use href="#C0_0_9b8c488678" x="80.3" y="364.46" style="fill: #e00000"/>
</g>
<g clip-path="url(#p7f481affdd)">
<use href="#C0_0_9b8c488678" x="79.97" y="364.3" style="fill: #e00000"/>
</g>
<g clip-path="url(#p7f481affdd)">
<use href="#C0_0_9b8c488678" x="284.22" y="294.88" style="fill: #006400"/>
</g>
<g clip-path="url(#p7f481affdd)">
<use href="#C0_0_9b8c488678" x="79.66" y="364.14" style="fill: #e00000"/>
</g>
<g clip-path="url(#p7f481affdd)">
<use href="#C0_0_9b8c488678" x="79.34" y="363.98" style="fill: #e00000"/>
</g>
<g clip-path="url(#p7f481affdd)">
<use href="#C0_0_9b8c488678" x="79.04" y="363.82" style="fill: #e00000"/>
</g>
<g clip-path="url(#p7f481affdd)">
<use href="#C0_0_9b8c488678" x="281.71" y="294.9" style="fill: #006400"/>
</g>
<g clip-path="url(#p7f481affdd)">
<use href="#C0_0_9b8c488678" x="78.74" y="363.66" style="fill: #e00000"/>
</g>
<g clip-path="url(#p7f481affdd)">
<use href="#C0_0_9b8c488678" x="78.44" y="363.51" style="fill: #e00000"/>
</g>
<g clip-path="url(#p7f481affdd)">
<use href="#C0_0_9b8c488678" x="78.15" y="363.35" style="fill: #e00000"/>
</g>
<g clip-path="url(#p7f481affdd)">
<use href="#C0_0_9b8c488678" x="279.23" y="294.93" style="fill: #006400"/>
</g>
<g clip-path="url(#p7f481affdd)">
<use href="#C0_0_9b8c488678" x="77.86" y="363.2" style="fill: #e00000"/>
</g>
<g clip-path="url(#p7f481affdd)">
<use href="#C0_0_9b8c488678" x="77.58" y="363.04" style="fill: #e00000"/>
</g>
<g clip-path="url(#p7f481affdd)">
<use href="#C0_0_9b8c488678" x="77.3" y="362.89" style="fill: #e00000"/>
</g>
<g clip-path="url(#p7f481affdd)">
<use href="#C0_0_9b8c488678" x="77.03" y="362.74" style="fill: #e00000"/>
</g>
<g clip-path="url(#p7f481affdd)">
<use href="#C0_0_9b8c488678" x="276.78" y="294.97" style="fill: #006400"/>
</g>
<g clip-path="url(#p7f481affdd)">
<use href="#C0_0_9b8c488678" x="76.76" y="362.58" style="fill: #e00000"/>
</g>
<g clip-path="url(#p7f481affdd)">
<use href="#C0_0_9b8c488678" x="76.5" y="362.43" style="fill: #e00000"/>
</g>
<g clip-path="url(#p7f481affdd)">
<use href="#C0_0_9b8c488678" x="76.24" y="362.28" style="fill: #e00000"/>
</g>
<g clip-path="url(#p7f481affdd)">
<use href="#C0_0_9b8c488678" x="274.37" y="295.01" style="fill: #006400"/>
</g>
<g clip-path="url(#p7f481affdd)">
<use href="#C0_0_9b8c488678" x="75.98" y="362.13" style="fill: #e00000"/>
</g>
<g clip-path="url(#p7f481affdd)">
<use href="#C0_0_9b8c488678" x="75.73" y="361.99" style="fill: #e00000"/>
</g>
<g clip-path="url(#p7f481affdd)">
<use href="#C0_0_9b8c488678" x="75.48" y="361.84" style="fill: #e00000"/>
</g>
<g clip-path="url(#p7f481affdd)">
<use href="#C0_0_9b8c488678" x="271.98" y="295.06" style="fill: #006400"/>
</g>
<g clip-path="url(#p7f481affdd)">
<use href="#C0_0_9b8c488678" x="75.24" y="361.69" style="fill: #e00000"/>
</g>
<g clip-path="url(#p7f481affdd)">
<use href="#C0_0_9b8c488678" x="75" y="361.55" style="fill: #e00000"/>
</g>
<g clip-path="url(#p7f481affdd)">
<use href="#C0_0_9b8c488678" x="74.77" y="361.4" style="fill: #e00000"/>
</g>
<g clip-path="url(#p7f481affdd)">
<use href="#C0_0_9b8c488678" x="269.62" y="295.11" style="fill: #006400"/>
</g>
<g clip-path="url(#p7f481affdd)">
<use href="#C0_0_9b8c488678" x="74.54" y="361.26" style="fill: #e00000"/>
</g>
<g clip-path="url(#p7f481affdd)">
<use href="#C0_0_9b8c488678" x="74.31" y="361.11" style="fill: #e00000"/>
</g>
<g clip-path="url(#p7f481affdd)">
<use href="#C0_0_9b8c488678" x="74.09" y="360.97" style="fill: #e00000"/>
</g>
<g clip-path="url(#p7f481affdd)">
<use href="#C0_0_9b8c488678" x="73.87" y="360.83" style="fill: #e00000"/>
</g>
<g clip-path="url(#p7f481affdd)">
<use href="#C0_0_9b8c488678" x="267.29" y="295.17" style="fill: #006400"/>
</g>
<g clip-path="url(#p7f481affdd)">
<use href="#C0_0_9b8c488678" x="73.65" y="360.69" style="fill: #e00000"/>
</g>
<g clip-path="url(#p7f481affdd)">
<use href="#C0_0_9b8c488678" x="73.44" y="360.54" style="fill: #e00000"/>
</g>
<g clip-path="url(#p7f481affdd)">
<use href="#C0_0_9b8c488678" x="73.23" y="360.4" style="fill: #e00000"/>
</g>
<g clip-path="url(#p7f481affdd)">
<use href="#C0_0_9b8c488678" x="264.98" y="295.23" style="fill: #006400"/>
</g>
<g clip-path="url(#p7f481affdd)">
<use href="#C0_0_9b8c488678" x="73.03" y="360.27" style="fill: #e00000"/>
</g>
<g clip-path="url(#p7f481affdd)">
<use href="#C0_0_9b8c488678" x="72.83" y="360.13" style="fill: #e00000"/>
</g>
<g clip-path="url(#p7f481affdd)">
<use href="#C0_0_9b8c488678" x="72.63" y="359.99" style="fill: #e00000"/>
</g>
<g clip-path="url(#p7f481affdd)">
<use href="#C0_0_9b8c488678" x="72.43" y="359.85" style="fill: #e00000"/>
</g>
<g clip-path="url(#p7f481affdd)">
<use href="#C0_0_9b8c488678" x="262.71" y="295.3" style="fill: #006400"/>
</g>
<g clip-path="url(#p7f481affdd)">
<use href="#C0_0_9b8c488678" x="72.24" y="359.71" style="fill: #e00000"/>
</g>
<g clip-path="url(#p7f481affdd)">
<use href="#C0_0_9b8c488678" x="72.06" y="359.58" style="fill: #e00000"/>
</g>
<g clip-path="url(#p7f481affdd)">
<use href="#C0_0_9b8c488678" x="71.87" y="359.44" style="fill: #e00000"/>
</g>
<g clip-path="url(#p7f481affdd)">
<use href="#C0_0_9b8c488678" x="260.47" y="295.38" style="fill: #006400"/>
</g>
<g clip-path="url(#p7f481affdd)">
<use href="#C0_0_9b8c488678" x="71.69" y="359.31" style="fill: #e00000"/>
</g>
<g clip-path="url(#p7f481affdd)">
<use href="#C0_0_9b8c488678" x="71.51" y="359.18" style="fill: #e00000"/>
</g>
<g clip-path="url(#p7f481affdd)">
<use href="#C0_0_9b8c488678" x="71.33" y="359.04" style="fill: #e00000"/>
</g>
<g clip-path="url(#p7f481affdd)">
<use href="#C0_0_9b8c488678" x="258.25" y="295.45" style="fill: #006400"/>
</g>
<g clip-path="url(#p7f481affdd)">
<use href="#C0_0_9b8c488678" x="71.16" y="358.91" style="fill: #e00000"/>
</g>
<g clip-path="url(#p7f481affdd)">
<use href="#C0_0_9b8c488678" x="70.99" y="358.78" style="fill: #e00000"/>
</g>
<g clip-path="url(#p7f481affdd)">
<use href="#C0_0_9b8c488678" x="70.82" y="358.65" style="fill: #e00000"/>
</g>
<g clip-path="url(#p7f481affdd)">
<use href="#C0_0_9b8c488678" x="70.66" y="358.52" style="fill: #e00000"/>
</g>
<g clip-path="url(#p7f481affdd)">
<use href="#C0_0_9b8c488678" x="256.07" y="295.54" style="fill: #006400"/>
</g>
<g clip-path="url(#p7f481affdd)">
<use href="#C0_0_9b8c488678" x="70.5" y="358.39" style="fill: #e00000"/>
</g>
<g clip-path="url(#p7f481affdd)">
<use href="#C0_0_9b8c488678" x="70.34" y="358.26" style="fill: #e00000"/>
</g>
<g clip-path="url(#p7f481affdd)">
<use href="#C0_0_9b8c488678" x="70.18" y="358.13" style="fill: #e00000"/>
</g>
<g clip-path="url(#p7f481affdd)">
<use href="#C0_0_9b8c488678" x="70.03" y="358" style="fill: #e00000"/>
</g>
<g clip-path="url(#p7f481affdd)">
<use href="#C0_0_9b8c488678" x="253.91" y="295.62" style="fill: #006400"/>
</g>
<g clip-path="url(#p7f481affdd)">
<use href="#C0_0_9b8c488678" x="69.88" y="357.87" style="fill: #e00000"/>
</g>
<g clip-path="url(#p7f481affdd)">
<use href="#C0_0_9b8c488678" x="69.73" y="357.75" style="fill: #e00000"/>
</g>
<g clip-path="url(#p7f481affdd)">
<use href="#C0_0_9b8c488678" x="69.59" y="357.62" style="fill: #e00000"/>
</g>
<g clip-path="url(#p7f481affdd)">
<use href="#C0_0_9b8c488678" x="251.78" y="295.71" style="fill: #006400"/>
</g>
<g clip-path="url(#p7f481affdd)">
<use href="#C0_0_9b8c488678" x="69.44" y="357.49" style="fill: #e00000"/>
</g>
<g clip-path="url(#p7f481affdd)">
<use href="#C0_0_9b8c488678" x="69.3" y="357.37" style="fill: #e00000"/>
</g>
<g clip-path="url(#p7f481affdd)">
<use href="#C0_0_9b8c488678" x="69.16" y="357.25" style="fill: #e00000"/>
</g>
<g clip-path="url(#p7f481affdd)">
<use href="#C0_0_9b8c488678" x="69.03" y="357.12" style="fill: #e00000"/>
</g>
<g clip-path="url(#p7f481affdd)">
<use href="#C0_0_9b8c488678" x="249.67" y="295.81" style="fill: #006400"/>
</g>
<g clip-path="url(#p7f481affdd)">
<use href="#C0_0_9b8c488678" x="68.89" y="357" style="fill: #e00000"/>
</g>
<g clip-path="url(#p7f481affdd)">
<use href="#C0_0_9b8c488678" x="68.76" y="356.88" style="fill: #e00000"/>
</g>
<g clip-path="url(#p7f481affdd)">
<use href="#C0_0_9b8c488678" x="68.63" y="356.75" style="fill: #e00000"/>
</g>
<g clip-path="url(#p7f481affdd)">
<use href="#C0_0_9b8c488678" x="247.6" y="295.91" style="fill: #006400"/>
</g>
<g clip-path="url(#p7f481affdd)">
<use href="#C0_0_9b8c488678" x="68.51" y="356.63" style="fill: #e00000"/>
</g>
<g clip-path="url(#p7f481affdd)">
<use href="#C0_0_9b8c488678" x="68.38" y="356.51" style="fill: #e00000"/>
</g>
<g clip-path="url(#p7f481affdd)">
<use href="#C0_0_9b8c488678" x="68.26" y="356.39" style="fill: #e00000"/>
</g>
<g clip-path="url(#p7f481affdd)">
<use href="#C0_0_9b8c488678" x="68.14" y="356.27" style="fill: #e00000"/>
</g>
<g clip-path="url(#p7f481affdd)">
<use href="#C0_0_9b8c488678" x="245.55" y="296.01" style="fill: #006400"/>
</g>
<g clip-path="url(#p7f481affdd)">
<use href="#C0_0_9b8c488678" x="68.02" y="356.15" style="fill: #e00000"/>
</g>
<g clip-path="url(#p7f481affdd)">
<use href="#C0_0_9b8c488678" x="67.91" y="356.03" style="fill: #e00000"/>
</g>
<g clip-path="url(#p7f481affdd)">
<use href="#C0_0_9b8c488678" x="67.8" y="355.92" style="fill: #e00000"/>
</g>
<g clip-path="url(#p7f481affdd)">
<use href="#C0_0_9b8c488678" x="67.68" y="355.8" style="fill: #e00000"/>
</g>
<g clip-path="url(#p7f481affdd)">
<use href="#C0_0_9b8c488678" x="243.53" y="296.11" style="fill: #006400"/>
</g>
<g clip-path="url(#p7f481affdd)">
<use href="#C0_0_9b8c488678" x="67.57" y="355.68" style="fill: #e00000"/>
</g>
<g clip-path="url(#p7f481affdd)">
<use href="#C0_0_9b8c488678" x="67.47" y="355.56" style="fill: #e00000"/>
</g>
<g clip-path="url(#p7f481affdd)">
<use href="#C0_0_9b8c488678" x="67.36" y="355.45" style="fill: #e00000"/>
</g>
<g clip-path="url(#p7f481affdd)">
<use href="#C0_0_9b8c488678" x="241.53" y="296.22" style="fill: #006400"/>
</g>
<g clip-path="url(#p7f481affdd)">
<use href="#C0_0_9b8c488678" x="67.26" y="355.33" style="fill: #e00000"/>
</g>
<g clip-path="url(#p7f481affdd)">
<use href="#C0_0_9b8c488678" x="67.16" y="355.22" style="fill: #e00000"/>
</g>
<g clip-path="url(#p7f481affdd)">
<use href="#C0_0_9b8c488678" x="67.06" y="355.1" style="fill: #e00000"/>
</g>
<g clip-path="url(#p7f481affdd)">
<use href="#C0_0_9b8c488678" x="66.96" y="354.99" style="fill: #e00000"/>
</g>
<g clip-path="url(#p7f481affdd)">
<use href="#C0_0_9b8c488678" x="239.56" y="296.33" style="fill: #006400"/>
</g>
<g clip-path="url(#p7f481affdd)">
<use href="#C0_0_9b8c488678" x="66.86" y="354.88" style="fill: #e00000"/>
</g>
<g clip-path="url(#p7f481affdd)">
<use href="#C0_0_9b8c488678" x="66.77" y="354.76" style="fill: #e00000"/>
</g>
<g clip-path="url(#p7f481affdd)">
<use href="#C0_0_9b8c488678" x="66.67" y="354.65" style="fill: #e00000"/>
</g>
<g clip-path="url(#p7f481affdd)">
<use href="#C0_0_9b8c488678" x="66.58" y="354.54" style="fill: #e00000"/>
</g>
<g clip-path="url(#p7f481affdd)">
<use href="#C0_0_9b8c488678" x="237.62" y="296.44" style="fill: #006400"/>
</g>
<g clip-path="url(#p7f481affdd)">
<use href="#C0_0_9b8c488678" x="66.49" y="354.43" style="fill: #e00000"/>
</g>
<g clip-path="url(#p7f481affdd)">
<use href="#C0_0_9b8c488678" x="66.41" y="354.32" style="fill: #e00000"/>
</g>
<g clip-path="url(#p7f481affdd)">
<use href="#C0_0_9b8c488678" x="66.32" y="354.21" style="fill: #e00000"/>
</g>
<g clip-path="url(#p7f481affdd)">
<use href="#C0_0_9b8c488678" x="66.24" y="354.1" style="fill: #e00000"/>
</g>
<g clip-path="url(#p7f481affdd)">
<use href="#C0_0_9b8c488678" x="235.7" y="296.56" style="fill: #006400"/>
</g>
<g clip-path="url(#p7f481affdd)">
<use href="#C0_0_9b8c488678" x="66.15" y="353.99" style="fill: #e00000"/>
</g>
<g clip-path="url(#p7f481affdd)">
<use href="#C0_0_9b8c488678" x="66.07" y="353.88" style="fill: #e00000"/>
</g>
<g clip-path="url(#p7f481affdd)">
<use href="#C0_0_9b8c488678" x="65.99" y="353.77" style="fill: #e00000"/>
</g>
<g clip-path="url(#p7f481affdd)">
<use href="#C0_0_9b8c488678" x="65.92" y="353.66" style="fill: #e00000"/>
</g>
<g clip-path="url(#p7f481affdd)">
<use href="#C0_0_9b8c488678" x="233.81" y="296.68" style="fill: #006400"/>
</g>
<g clip-path="url(#p7f481affdd)">
<use href="#C0_0_9b8c488678" x="65.84" y="353.55" style="fill: #e00000"/>
</g>
<g clip-path="url(#p7f481affdd)">
<use href="#C0_0_9b8c488678" x="65.77" y="353.45" style="fill: #e00000"/>
</g>
<g clip-path="url(#p7f481affdd)">
<use href="#C0_0_9b8c488678" x="65.69" y="353.34" style="fill: #e00000"/>
</g>
<g clip-path="url(#p7f481affdd)">
<use href="#C0_0_9b8c488678" x="65.62" y="353.23" style="fill: #e00000"/>
</g>
<g clip-path="url(#p7f481affdd)">
<use href="#C0_0_9b8c488678" x="231.95" y="296.8" style="fill: #006400"/>
</g>
<g clip-path="url(#p7f481affdd)">
<use href="#C0_0_9b8c488678" x="65.55" y="353.13" style="fill: #e00000"/>
</g>
<g clip-path="url(#p7f481affdd)">
<use href="#C0_0_9b8c488678" x="65.48" y="353.02" style="fill: #e00000"/>
</g>
<g clip-path="url(#p7f481affdd)">
<use href="#C0_0_9b8c488678" x="65.42" y="352.92" style="fill: #e00000"/>
</g>
<g clip-path="url(#p7f481affdd)">
<use href="#C0_0_9b8c488678" x="230.11" y="296.92" style="fill: #006400"/>
</g>
<g clip-path="url(#p7f481affdd)">
<use href="#C0_0_9b8c488678" x="65.35" y="352.81" style="fill: #e00000"/>
</g>
<g clip-path="url(#p7f481affdd)">
<use href="#C0_0_9b8c488678" x="65.28" y="352.71" style="fill: #e00000"/>
</g>
<g clip-path="url(#p7f481affdd)">
<use href="#C0_0_9b8c488678" x="65.22" y="352.6" style="fill: #e00000"/>
</g>
<g clip-path="url(#p7f481affdd)">
<use href="#C0_0_9b8c488678" x="65.16" y="352.5" style="fill: #e00000"/>
</g>
<g clip-path="url(#p7f481affdd)">
<use href="#C0_0_9b8c488678" x="228.29" y="297.05" style="fill: #006400"/>
</g>
<g clip-path="url(#p7f481affdd)">
<use href="#C0_0_9b8c488678" x="65.1" y="352.4" style="fill: #e00000"/>
</g>
<g clip-path="url(#p7f481affdd)">
<use href="#C0_0_9b8c488678" x="65.04" y="352.29" style="fill: #e00000"/>
</g>
<g clip-path="url(#p7f481affdd)">
<use href="#C0_0_9b8c488678" x="64.98" y="352.19" style="fill: #e00000"/>
</g>
<g clip-path="url(#p7f481affdd)">
<use href="#C0_0_9b8c488678" x="64.93" y="352.09" style="fill: #e00000"/>
</g>
<g clip-path="url(#p7f481affdd)">
<use href="#C0_0_9b8c488678" x="226.5" y="297.18" style="fill: #006400"/>
</g>
<g clip-path="url(#p7f481affdd)">
<use href="#C0_0_9b8c488678" x="64.87" y="351.99" style="fill: #e00000"/>
</g>
<g clip-path="url(#p7f481affdd)">
<use href="#C0_0_9b8c488678" x="64.82" y="351.89" style="fill: #e00000"/>
</g>
<g clip-path="url(#p7f481affdd)">
<use href="#C0_0_9b8c488678" x="64.76" y="351.79" style="fill: #e00000"/>
</g>
<g clip-path="url(#p7f481affdd)">
<use href="#C0_0_9b8c488678" x="64.71" y="351.69" style="fill: #e00000"/>
</g>
<g clip-path="url(#p7f481affdd)">
<use href="#C0_0_9b8c488678" x="224.73" y="297.31" style="fill: #006400"/>
</g>
<g clip-path="url(#p7f481affdd)">
<use href="#C0_0_9b8c488678" x="64.66" y="351.59" style="fill: #e00000"/>
</g>
<g clip-path="url(#p7f481affdd)">
<use href="#C0_0_9b8c488678" x="64.61" y="351.49" style="fill: #e00000"/>
</g>
<g clip-path="url(#p7f481affdd)">
<use href="#C0_0_9b8c488678" x="64.57" y="351.39" style="fill: #e00000"/>
</g>
<g clip-path="url(#p7f481affdd)">
<use href="#C0_0_9b8c488678" x="64.52" y="351.29" style="fill: #e00000"/>
</g>
<g clip-path="url(#p7f481affdd)">
<use href="#C0_0_9b8c488678" x="222.99" y="297.44" style="fill: #006400"/>
</g>
<g clip-path="url(#p7f481affdd)">
<use href="#C0_0_9b8c488678" x="64.47" y="351.19" style="fill: #e00000"/>
</g>
<g clip-path="url(#p7f481affdd)">
<use href="#C0_0_9b8c488678" x="64.43" y="351.09" style="fill: #e00000"/>
</g>
<g clip-path="url(#p7f481affdd)">
<use href="#C0_0_9b8c488678" x="64.39" y="351" style="fill: #e00000"/>
</g>
<g clip-path="url(#p7f481affdd)">
<use href="#C0_0_9b8c488678" x="64.34" y="350.9" style="fill: #e00000"/>
</g>
<g clip-path="url(#p7f481affdd)">
<use href="#C0_0_9b8c488678" x="221.26" y="297.57" style="fill: #006400"/>
</g>
<g clip-path="url(#p7f481affdd)">
<use href="#C0_0_9b8c488678" x="64.3" y="350.8" style="fill: #e00000"/>
</g>
<g clip-path="url(#p7f481affdd)">
<use href="#C0_0_9b8c488678" x="64.26" y="350.7" style="fill: #e00000"/>
</g>
<g clip-path="url(#p7f481affdd)">
<use href="#C0_0_9b8c488678" x="64.22" y="350.61" style="fill: #e00000"/>
</g>
<g clip-path="url(#p7f481affdd)">
<use href="#C0_0_9b8c488678" x="64.19" y="350.51" style="fill: #e00000"/>
</g>
<g clip-path="url(#p7f481affdd)">
<use href="#C0_0_9b8c488678" x="219.57" y="297.71" style="fill: #006400"/>
</g>
<g clip-path="url(#p7f481affdd)">
<use href="#C0_0_9b8c488678" x="64.15" y="350.42" style="fill: #e00000"/>
</g>
<g clip-path="url(#p7f481affdd)">
<use href="#C0_0_9b8c488678" x="64.11" y="350.32" style="fill: #e00000"/>
</g>
<g clip-path="url(#p7f481affdd)">
<use href="#C0_0_9b8c488678" x="64.08" y="350.23" style="fill: #e00000"/>
</g>
<g clip-path="url(#p7f481affdd)">
<use href="#C0_0_9b8c488678" x="64.04" y="350.13" style="fill: #e00000"/>
</g>
<g clip-path="url(#p7f481affdd)">
<use href="#C0_0_9b8c488678" x="217.89" y="297.84" style="fill: #006400"/>
</g>
<g clip-path="url(#p7f481affdd)">
<use href="#C0_0_9b8c488678" x="64.01" y="350.04" style="fill: #e00000"/>
</g>
<g clip-path="url(#p7f481affdd)">
<use href="#C0_0_9b8c488678" x="63.98" y="349.94" style="fill: #e00000"/>
</g>
<g clip-path="url(#p7f481affdd)">
<use href="#C0_0_9b8c488678" x="63.95" y="349.85" style="fill: #e00000"/>
</g>
<g clip-path="url(#p7f481affdd)">
<use href="#C0_0_9b8c488678" x="63.92" y="349.76" style="fill: #e00000"/>
</g>
<g clip-path="url(#p7f481affdd)">
<use href="#C0_0_9b8c488678" x="63.89" y="349.67" style="fill: #e00000"/>
</g>
<g clip-path="url(#p7f481affdd)">
<use href="#C0_0_9b8c488678" x="216.24" y="297.98" style="fill: #006400"/>
</g>
<g clip-path="url(#p7f481affdd)">
<use href="#C0_0_9b8c488678" x="63.86" y="349.57" style="fill: #e00000"/>
</g>
<g clip-path="url(#p7f481affdd)">
<use href="#C0_0_9b8c488678" x="63.84" y="349.48" style="fill: #e00000"/>
</g>
<g clip-path="url(#p7f481affdd)">
<use href="#C0_0_9b8c488678" x="63.81" y="349.39" style="fill: #e00000"/>
</g>
<g clip-path="url(#p7f481affdd)">
<use href="#C0_0_9b8c488678" x="63.78" y="349.3" style="fill: #e00000"/>
</g>
<g clip-path="url(#p7f481affdd)">
<use href="#C0_0_9b8c488678" x="214.61" y="298.12" style="fill: #006400"/>
</g>
<g clip-path="url(#p7f481affdd)">
<use href="#C0_0_9b8c488678" x="63.76" y="349.21" style="fill: #e00000"/>
</g>
<g clip-path="url(#p7f481affdd)">
<use href="#C0_0_9b8c488678" x="63.74" y="349.11" style="fill: #e00000"/>
</g>
<g clip-path="url(#p7f481affdd)">
<use href="#C0_0_9b8c488678" x="63.71" y="349.02" style="fill: #e00000"/>
</g>
<g clip-path="url(#p7f481affdd)">
<use href="#C0_0_9b8c488678" x="63.69" y="348.93" style="fill: #e00000"/>
</g>
<g clip-path="url(#p7f481affdd)">
<use href="#C0_0_9b8c488678" x="213" y="298.26" style="fill: #006400"/>
</g>
<g clip-path="url(#p7f481affdd)">
<use href="#C0_0_9b8c488678" x="63.67" y="348.84" style="fill: #e00000"/>
</g>
<g clip-path="url(#p7f481affdd)">
<use href="#C0_0_9b8c488678" x="63.65" y="348.75" style="fill: #e00000"/>
</g>
<g clip-path="url(#p7f481affdd)">
<use href="#C0_0_9b8c488678" x="63.63" y="348.66" style="fill: #e00000"/>
</g>
<g clip-path="url(#p7f481affdd)">
<use href="#C0_0_9b8c488678" x="63.62" y="348.57" style="fill: #e00000"/>
</g>
<g clip-path="url(#p7f481affdd)">
<use href="#C0_0_9b8c488678" x="211.41" y="298.4" style="fill: #006400"/>
</g>
<g clip-path="url(#p7f481affdd)">
<use href="#C0_0_9b8c488678" x="63.6" y="348.49" style="fill: #e00000"/>
</g>
<g clip-path="url(#p7f481affdd)">
<use href="#C0_0_9b8c488678" x="63.58" y="348.4" style="fill: #e00000"/>
</g>
<g clip-path="url(#p7f481affdd)">
<use href="#C0_0_9b8c488678" x="63.57" y="348.31" style="fill: #e00000"/>
</g>
<g clip-path="url(#p7f481affdd)">
<use href="#C0_0_9b8c488678" x="63.55" y="348.22" style="fill: #e00000"/>
</g>
<g clip-path="url(#p7f481affdd)">
<use href="#C0_0_9b8c488678" x="209.85" y="298.55" style="fill: #006400"/>
</g>
<g clip-path="url(#p7f481affdd)">
<use href="#C0_0_9b8c488678" x="63.54" y="348.13" style="fill: #e00000"/>
</g>
<g clip-path="url(#p7f481affdd)">
<use href="#C0_0_9b8c488678" x="63.52" y="348.04" style="fill: #e00000"/>
</g>
<g clip-path="url(#p7f481affdd)">
<use href="#C0_0_9b8c488678" x="63.51" y="347.96" style="fill: #e00000"/>
</g>
<g clip-path="url(#p7f481affdd)">
<use href="#C0_0_9b8c488678" x="63.5" y="347.87" style="fill: #e00000"/>
</g>
<g clip-path="url(#p7f481affdd)">
<use href="#C0_0_9b8c488678" x="208.3" y="298.69" style="fill: #006400"/>
</g>
<g clip-path="url(#p7f481affdd)">
<use href="#C0_0_9b8c488678" x="63.49" y="347.78" style="fill: #e00000"/>
</g>
<g clip-path="url(#p7f481affdd)">
<use href="#C0_0_9b8c488678" x="63.48" y="347.7" style="fill: #e00000"/>
</g>
<g clip-path="url(#p7f481affdd)">
<use href="#C0_0_9b8c488678" x="63.47" y="347.61" style="fill: #e00000"/>
</g>
<g clip-path="url(#p7f481affdd)">
<use href="#C0_0_9b8c488678" x="63.46" y="347.52" style="fill: #e00000"/>
</g>
<g clip-path="url(#p7f481affdd)">
<use href="#C0_0_9b8c488678" x="206.78" y="298.84" style="fill: #006400"/>
</g>
<g clip-path="url(#p7f481affdd)">
<use href="#C0_0_9b8c488678" x="63.45" y="347.44" style="fill: #e00000"/>
</g>
<g clip-path="url(#p7f481affdd)">
<use href="#C0_0_9b8c488678" x="63.45" y="347.35" style="fill: #e00000"/>
</g>
<g clip-path="url(#p7f481affdd)">
<use href="#C0_0_9b8c488678" x="63.44" y="347.27" style="fill: #e00000"/>
</g>
<g clip-path="url(#p7f481affdd)">
<use href="#C0_0_9b8c488678" x="63.43" y="347.18" style="fill: #e00000"/>
</g>
<g clip-path="url(#p7f481affdd)">
<use href="#C0_0_9b8c488678" x="205.28" y="298.98" style="fill: #006400"/>
</g>
<g clip-path="url(#p7f481affdd)">
<use href="#C0_0_9b8c488678" x="63.43" y="347.1" style="fill: #e00000"/>
</g>
<g clip-path="url(#p7f481affdd)">
<use href="#C0_0_9b8c488678" x="63.42" y="347.01" style="fill: #e00000"/>
</g>
<g clip-path="url(#p7f481affdd)">
<use href="#C0_0_9b8c488678" x="63.42" y="346.93" style="fill: #e00000"/>
</g>
<g clip-path="url(#p7f481affdd)">
<use href="#C0_0_9b8c488678" x="63.42" y="346.85" style="fill: #e00000"/>
</g>
<g clip-path="url(#p7f481affdd)">
<use href="#C0_0_9b8c488678" x="63.42" y="346.76" style="fill: #e00000"/>
</g>
<g clip-path="url(#p7f481affdd)">
<use href="#C0_0_9b8c488678" x="203.79" y="299.13" style="fill: #006400"/>
</g>
<g clip-path="url(#p7f481affdd)">
<use href="#C0_0_9b8c488678" x="63.41" y="346.68" style="fill: #e00000"/>
</g>
<g clip-path="url(#p7f481affdd)">
<use href="#C0_0_9b8c488678" x="63.41" y="346.59" style="fill: #e00000"/>
</g>
<g clip-path="url(#p7f481affdd)">
<use href="#C0_0_9b8c488678" x="63.41" y="346.51" style="fill: #e00000"/>
</g>
<g clip-path="url(#p7f481affdd)">
<use href="#C0_0_9b8c488678" x="63.41" y="346.43" style="fill: #e00000"/>
</g>
<g clip-path="url(#p7f481affdd)">
<use href="#C0_0_9b8c488678" x="202.33" y="299.28" style="fill: #006400"/>
</g>
<g clip-path="url(#p7f481affdd)">
<use href="#C0_0_9b8c488678" x="63.41" y="346.35" style="fill: #e00000"/>
</g>
<g clip-path="url(#p7f481affdd)">
<use href="#C0_0_9b8c488678" x="63.42" y="346.26" style="fill: #e00000"/>
</g>
<g clip-path="url(#p7f481affdd)">
<use href="#C0_0_9b8c488678" x="63.42" y="346.18" style="fill: #e00000"/>
</g>
<g clip-path="url(#p7f481affdd)">
<use href="#C0_0_9b8c488678" x="63.42" y="346.1" style="fill: #e00000"/>
</g>
<g clip-path="url(#p7f481affdd)">
<use href="#C0_0_9b8c488678" x="200.89" y="299.43" style="fill: #006400"/>
</g>
<g clip-path="url(#p7f481affdd)">
<use href="#C0_0_9b8c488678" x="63.43" y="346.02" style="fill: #e00000"/>
</g>
<g clip-path="url(#p7f481affdd)">
<use href="#C0_0_9b8c488678" x="63.43" y="345.94" style="fill: #e00000"/>
</g>
<g clip-path="url(#p7f481affdd)">
<use href="#C0_0_9b8c488678" x="63.43" y="345.85" style="fill: #e00000"/>
</g>
<g clip-path="url(#p7f481affdd)">
<use href="#C0_0_9b8c488678" x="63.44" y="345.77" style="fill: #e00000"/>
</g>
<g clip-path="url(#p7f481affdd)">
<use href="#C0_0_9b8c488678" x="199.46" y="299.58" style="fill: #006400"/>
</g>
<g clip-path="url(#p7f481affdd)">
<use href="#C0_0_9b8c488678" x="63.45" y="345.69" style="fill: #e00000"/>
</g>
<g clip-path="url(#p7f481affdd)">
<use href="#C0_0_9b8c488678" x="63.45" y="345.61" style="fill: #e00000"/>
</g>
<g clip-path="url(#p7f481affdd)">
<use href="#C0_0_9b8c488678" x="63.46" y="345.53" style="fill: #e00000"/>
</g>
<g clip-path="url(#p7f481affdd)">
<use href="#C0_0_9b8c488678" x="63.47" y="345.45" style="fill: #e00000"/>
</g>
<g clip-path="url(#p7f481affdd)">
<use href="#C0_0_9b8c488678" x="198.05" y="299.73" style="fill: #006400"/>
</g>
<g clip-path="url(#p7f481affdd)">
<use href="#C0_0_9b8c488678" x="63.48" y="345.37" style="fill: #e00000"/>
</g>
<g clip-path="url(#p7f481affdd)">
<use href="#C0_0_9b8c488678" x="63.49" y="345.29" style="fill: #e00000"/>
</g>
<g clip-path="url(#p7f481affdd)">
<use href="#C0_0_9b8c488678" x="63.5" y="345.21" style="fill: #e00000"/>
</g>
<g clip-path="url(#p7f481affdd)">
<use href="#C0_0_9b8c488678" x="63.51" y="345.13" style="fill: #e00000"/>
</g>
<g clip-path="url(#p7f481affdd)">
<use href="#C0_0_9b8c488678" x="63.52" y="345.05" style="fill: #e00000"/>
</g>
<g clip-path="url(#p7f481affdd)">
<use href="#C0_0_9b8c488678" x="196.67" y="299.88" style="fill: #006400"/>
</g>
<g clip-path="url(#p7f481affdd)">
<use href="#C0_0_9b8c488678" x="63.53" y="344.97" style="fill: #e00000"/>
</g>
<g clip-path="url(#p7f481affdd)">
<use href="#C0_0_9b8c488678" x="63.54" y="344.89" style="fill: #e00000"/>
</g>
<g clip-path="url(#p7f481affdd)">
<use href="#C0_0_9b8c488678" x="63.55" y="344.82" style="fill: #e00000"/>
</g>
<g clip-path="url(#p7f481affdd)">
<use href="#C0_0_9b8c488678" x="63.57" y="344.74" style="fill: #e00000"/>
</g>
<g clip-path="url(#p7f481affdd)">
<use href="#C0_0_9b8c488678" x="195.3" y="300.03" style="fill: #006400"/>
</g>
<g clip-path="url(#p7f481affdd)">
<use href="#C0_0_9b8c488678" x="63.58" y="344.66" style="fill: #e00000"/>
</g>
<g clip-path="url(#p7f481affdd)">
<use href="#C0_0_9b8c488678" x="63.59" y="344.58" style="fill: #e00000"/>
</g>
<g clip-path="url(#p7f481affdd)">
<use href="#C0_0_9b8c488678" x="63.61" y="344.5" style="fill: #e00000"/>
</g>
<g clip-path="url(#p7f481affdd)">
<use href="#C0_0_9b8c488678" x="63.62" y="344.42" style="fill: #e00000"/>
</g>
<g clip-path="url(#p7f481affdd)">
<use href="#C0_0_9b8c488678" x="193.95" y="300.18" style="fill: #006400"/>
</g>
<g clip-path="url(#p7f481affdd)">
<use href="#C0_0_9b8c488678" x="63.64" y="344.35" style="fill: #e00000"/>
</g>
<g clip-path="url(#p7f481affdd)">
<use href="#C0_0_9b8c488678" x="63.66" y="344.27" style="fill: #e00000"/>
</g>
<g clip-path="url(#p7f481affdd)">
<use href="#C0_0_9b8c488678" x="63.67" y="344.19" style="fill: #e00000"/>
</g>
<g clip-path="url(#p7f481affdd)">
<use href="#C0_0_9b8c488678" x="63.69" y="344.11" style="fill: #e00000"/>
</g>
<g clip-path="url(#p7f481affdd)">
<use href="#C0_0_9b8c488678" x="192.62" y="300.33" style="fill: #006400"/>
</g>
<g clip-path="url(#p7f481affdd)">
<use href="#C0_0_9b8c488678" x="63.71" y="344.04" style="fill: #e00000"/>
</g>
<g clip-path="url(#p7f481affdd)">
<use href="#C0_0_9b8c488678" x="63.73" y="343.96" style="fill: #e00000"/>
</g>
<g clip-path="url(#p7f481affdd)">
<use href="#C0_0_9b8c488678" x="63.75" y="343.88" style="fill: #e00000"/>
</g>
<g clip-path="url(#p7f481affdd)">
<use href="#C0_0_9b8c488678" x="63.77" y="343.81" style="fill: #e00000"/>
</g>
<g clip-path="url(#p7f481affdd)">
<use href="#C0_0_9b8c488678" x="191.3" y="300.48" style="fill: #006400"/>
</g>
<g clip-path="url(#p7f481affdd)">
<use href="#C0_0_9b8c488678" x="63.79" y="343.73" style="fill: #e00000"/>
</g>
<g clip-path="url(#p7f481affdd)">
<use href="#C0_0_9b8c488678" x="63.81" y="343.66" style="fill: #e00000"/>
</g>
<g clip-path="url(#p7f481affdd)">
<use href="#C0_0_9b8c488678" x="63.83" y="343.58" style="fill: #e00000"/>
</g>
<g clip-path="url(#p7f481affdd)">
<use href="#C0_0_9b8c488678" x="63.85" y="343.5" style="fill: #e00000"/>
</g>
<g clip-path="url(#p7f481affdd)">
<use href="#C0_0_9b8c488678" x="63.87" y="343.43" style="fill: #e00000"/>
</g>
<g clip-path="url(#p7f481affdd)">
<use href="#C0_0_9b8c488678" x="190" y="300.64" style="fill: #006400"/>
</g>
<g clip-path="url(#p7f481affdd)">
<use href="#C0_0_9b8c488678" x="63.89" y="343.35" style="fill: #e00000"/>
</g>
<g clip-path="url(#p7f481affdd)">
<use href="#C0_0_9b8c488678" x="63.92" y="343.28" style="fill: #e00000"/>
</g>
<g clip-path="url(#p7f481affdd)">
<use href="#C0_0_9b8c488678" x="63.94" y="343.2" style="fill: #e00000"/>
</g>
<g clip-path="url(#p7f481affdd)">
<use href="#C0_0_9b8c488678" x="63.96" y="343.13" style="fill: #e00000"/>
</g>
<g clip-path="url(#p7f481affdd)">
<use href="#C0_0_9b8c488678" x="188.72" y="300.79" style="fill: #006400"/>
</g>
<g clip-path="url(#p7f481affdd)">
<use href="#C0_0_9b8c488678" x="63.99" y="343.05" style="fill: #e00000"/>
</g>
<g clip-path="url(#p7f481affdd)">
<use href="#C0_0_9b8c488678" x="64.01" y="342.98" style="fill: #e00000"/>
</g>
<g clip-path="url(#p7f481affdd)">
<use href="#C0_0_9b8c488678" x="64.04" y="342.9" style="fill: #e00000"/>
</g>
<g clip-path="url(#p7f481affdd)">
<use href="#C0_0_9b8c488678" x="64.07" y="342.83" style="fill: #e00000"/>
</g>
<g clip-path="url(#p7f481affdd)">
<use href="#C0_0_9b8c488678" x="187.46" y="300.94" style="fill: #006400"/>
</g>
<g clip-path="url(#p7f481affdd)">
<use href="#C0_0_9b8c488678" x="64.09" y="342.75" style="fill: #e00000"/>
</g>
<g clip-path="url(#p7f481affdd)">
<use href="#C0_0_9b8c488678" x="64.12" y="342.68" style="fill: #e00000"/>
</g>
<g clip-path="url(#p7f481affdd)">
<use href="#C0_0_9b8c488678" x="64.15" y="342.6" style="fill: #e00000"/>
</g>
<g clip-path="url(#p7f481affdd)">
<use href="#C0_0_9b8c488678" x="64.17" y="342.53" style="fill: #e00000"/>
</g>
<g clip-path="url(#p7f481affdd)">
<use href="#C0_0_9b8c488678" x="186.21" y="301.1" style="fill: #006400"/>
</g>
<g clip-path="url(#p7f481affdd)">
<use href="#C0_0_9b8c488678" x="64.2" y="342.46" style="fill: #e00000"/>
</g>
<g clip-path="url(#p7f481affdd)">
<use href="#C0_0_9b8c488678" x="64.23" y="342.38" style="fill: #e00000"/>
</g>
<g clip-path="url(#p7f481affdd)">
<use href="#C0_0_9b8c488678" x="64.26" y="342.31" style="fill: #e00000"/>
</g>
<g clip-path="url(#p7f481affdd)">
<use href="#C0_0_9b8c488678" x="64.29" y="342.24" style="fill: #e00000"/>
</g>
<g clip-path="url(#p7f481affdd)">
<use href="#C0_0_9b8c488678" x="184.98" y="301.25" style="fill: #006400"/>
</g>
<g clip-path="url(#p7f481affdd)">
<use href="#C0_0_9b8c488678" x="64.32" y="342.16" style="fill: #e00000"/>
</g>
<g clip-path="url(#p7f481affdd)">
<use href="#C0_0_9b8c488678" x="64.35" y="342.09" style="fill: #e00000"/>
</g>
<g clip-path="url(#p7f481affdd)">
<use href="#C0_0_9b8c488678" x="64.38" y="342.02" style="fill: #e00000"/>
</g>
<g clip-path="url(#p7f481affdd)">
<use href="#C0_0_9b8c488678" x="64.41" y="341.94" style="fill: #e00000"/>
</g>
<g clip-path="url(#p7f481affdd)">
<use href="#C0_0_9b8c488678" x="183.77" y="301.4" style="fill: #006400"/>
</g>
<g clip-path="url(#p7f481affdd)">
<use href="#C0_0_9b8c488678" x="64.45" y="341.87" style="fill: #e00000"/>
</g>
<g clip-path="url(#p7f481affdd)">
<use href="#C0_0_9b8c488678" x="64.48" y="341.8" style="fill: #e00000"/>
</g>
<g clip-path="url(#p7f481affdd)">
<use href="#C0_0_9b8c488678" x="64.51" y="341.72" style="fill: #e00000"/>
</g>
<g clip-path="url(#p7f481affdd)">
<use href="#C0_0_9b8c488678" x="64.54" y="341.65" style="fill: #e00000"/>
</g>
<g clip-path="url(#p7f481affdd)">
<use href="#C0_0_9b8c488678" x="182.57" y="301.56" style="fill: #006400"/>
</g>
<g clip-path="url(#p7f481affdd)">
<use href="#C0_0_9b8c488678" x="64.58" y="341.58" style="fill: #e00000"/>
</g>
<g clip-path="url(#p7f481affdd)">
<use href="#C0_0_9b8c488678" x="64.61" y="341.51" style="fill: #e00000"/>
</g>
<g clip-path="url(#p7f481affdd)">
<use href="#C0_0_9b8c488678" x="64.65" y="341.44" style="fill: #e00000"/>
</g>
<g clip-path="url(#p7f481affdd)">
<use href="#C0_0_9b8c488678" x="64.68" y="341.36" style="fill: #e00000"/>
</g>
<g clip-path="url(#p7f481affdd)">
<use href="#C0_0_9b8c488678" x="64.72" y="341.29" style="fill: #e00000"/>
</g>
<g clip-path="url(#p7f481affdd)">
<use href="#C0_0_9b8c488678" x="181.38" y="301.71" style="fill: #006400"/>
</g>
<g clip-path="url(#p7f481affdd)">
<use href="#C0_0_9b8c488678" x="64.75" y="341.22" style="fill: #e00000"/>
</g>
<g clip-path="url(#p7f481affdd)">
<use href="#C0_0_9b8c488678" x="64.79" y="341.15" style="fill: #e00000"/>
</g>
<g clip-path="url(#p7f481affdd)">
<use href="#C0_0_9b8c488678" x="64.83" y="341.08" style="fill: #e00000"/>
</g>
<g clip-path="url(#p7f481affdd)">
<use href="#C0_0_9b8c488678" x="64.86" y="341" style="fill: #e00000"/>
</g>
<g clip-path="url(#p7f481affdd)">
<use href="#C0_0_9b8c488678" x="180.22" y="301.86" style="fill: #006400"/>
</g>
<g clip-path="url(#p7f481affdd)">
<use href="#C0_0_9b8c488678" x="64.9" y="340.93" style="fill: #e00000"/>
</g>
<g clip-path="url(#p7f481affdd)">
<use href="#C0_0_9b8c488678" x="64.94" y="340.86" style="fill: #e00000"/>
</g>
<g clip-path="url(#p7f481affdd)">
<use href="#C0_0_9b8c488678" x="64.98" y="340.79" style="fill: #e00000"/>
</g>
<g clip-path="url(#p7f481affdd)">
<use href="#C0_0_9b8c488678" x="65.02" y="340.72" style="fill: #e00000"/>
</g>
<g clip-path="url(#p7f481affdd)">
<use href="#C0_0_9b8c488678" x="179.06" y="302.02" style="fill: #006400"/>
</g>
<g clip-path="url(#p7f481affdd)">
<use href="#C0_0_9b8c488678" x="65.06" y="340.65" style="fill: #e00000"/>
</g>
<g clip-path="url(#p7f481affdd)">
<use href="#C0_0_9b8c488678" x="65.09" y="340.58" style="fill: #e00000"/>
</g>
<g clip-path="url(#p7f481affdd)">
<use href="#C0_0_9b8c488678" x="65.13" y="340.51" style="fill: #e00000"/>
</g>
<g clip-path="url(#p7f481affdd)">
<use href="#C0_0_9b8c488678" x="65.18" y="340.44" style="fill: #e00000"/>
</g>
<g clip-path="url(#p7f481affdd)">
<use href="#C0_0_9b8c488678" x="177.93" y="302.17" style="fill: #006400"/>
</g>
<g clip-path="url(#p7f481affdd)">
<use href="#C0_0_9b8c488678" x="65.22" y="340.37" style="fill: #e00000"/>
</g>
<g clip-path="url(#p7f481affdd)">
<use href="#C0_0_9b8c488678" x="65.26" y="340.3" style="fill: #006400"/>
</g>
<g clip-path="url(#p7f481affdd)">
<use href="#C0_0_9b8c488678" x="65.3" y="340.22" style="fill: #006400"/>
</g>
<g clip-path="url(#p7f481affdd)">
<use href="#C0_0_9b8c488678" x="65.34" y="340.15" style="fill: #006400"/>
</g>
<g clip-path="url(#p7f481affdd)">
<use href="#C0_0_9b8c488678" x="176.8" y="302.33" style="fill: #006400"/>
</g>
<g clip-path="url(#p7f481affdd)">
<use href="#C0_0_9b8c488678" x="65.38" y="340.08" style="fill: #006400"/>
</g>
<g clip-path="url(#p7f481affdd)">
<use href="#C0_0_9b8c488678" x="65.43" y="340.01" style="fill: #006400"/>
</g>
<g clip-path="url(#p7f481affdd)">
<use href="#C0_0_9b8c488678" x="65.47" y="339.94" style="fill: #006400"/>
</g>
<g clip-path="url(#p7f481affdd)">
<use href="#C0_0_9b8c488678" x="65.52" y="339.87" style="fill: #006400"/>
</g>
<g clip-path="url(#p7f481affdd)">
<use href="#C0_0_9b8c488678" x="175.69" y="302.48" style="fill: #006400"/>
</g>
<g clip-path="url(#p7f481affdd)">
<use href="#C0_0_9b8c488678" x="65.56" y="339.8" style="fill: #006400"/>
</g>
<g clip-path="url(#p7f481affdd)">
<use href="#C0_0_9b8c488678" x="65.6" y="339.73" style="fill: #006400"/>
</g>
<g clip-path="url(#p7f481affdd)">
<use href="#C0_0_9b8c488678" x="65.65" y="339.66" style="fill: #006400"/>
</g>
<g clip-path="url(#p7f481affdd)">
<use href="#C0_0_9b8c488678" x="65.69" y="339.59" style="fill: #006400"/>
</g>
<g clip-path="url(#p7f481affdd)">
<use href="#C0_0_9b8c488678" x="174.6" y="302.63" style="fill: #006400"/>
</g>
<g clip-path="url(#p7f481affdd)">
<use href="#C0_0_9b8c488678" x="65.74" y="339.52" style="fill: #006400"/>
</g>
<g clip-path="url(#p7f481affdd)">
<use href="#C0_0_9b8c488678" x="65.79" y="339.46" style="fill: #006400"/>
</g>
<g clip-path="url(#p7f481affdd)">
<use href="#C0_0_9b8c488678" x="65.83" y="339.39" style="fill: #006400"/>
</g>
<g clip-path="url(#p7f481affdd)">
<use href="#C0_0_9b8c488678" x="65.88" y="339.32" style="fill: #006400"/>
</g>
<g clip-path="url(#p7f481affdd)">
<use href="#C0_0_9b8c488678" x="173.52" y="302.79" style="fill: #006400"/>
</g>
<g clip-path="url(#p7f481affdd)">
<use href="#C0_0_9b8c488678" x="65.93" y="339.25" style="fill: #006400"/>
</g>
<g clip-path="url(#p7f481affdd)">
<use href="#C0_0_9b8c488678" x="65.98" y="339.18" style="fill: #006400"/>
</g>
<g clip-path="url(#p7f481affdd)">
<use href="#C0_0_9b8c488678" x="66.02" y="339.11" style="fill: #006400"/>
</g>
<g clip-path="url(#p7f481affdd)">
<use href="#C0_0_9b8c488678" x="66.07" y="339.04" style="fill: #006400"/>
</g>
<g clip-path="url(#p7f481affdd)">
<use href="#C0_0_9b8c488678" x="172.45" y="302.94" style="fill: #006400"/>
</g>
<g clip-path="url(#p7f481affdd)">
<use href="#C0_0_9b8c488678" x="66.12" y="338.97" style="fill: #006400"/>
</g>
<g clip-path="url(#p7f481affdd)">
<use href="#C0_0_9b8c488678" x="66.17" y="338.9" style="fill: #006400"/>
</g>
<g clip-path="url(#p7f481affdd)">
<use href="#C0_0_9b8c488678" x="66.22" y="338.83" style="fill: #006400"/>
</g>
<g clip-path="url(#p7f481affdd)">
<use href="#C0_0_9b8c488678" x="66.27" y="338.76" style="fill: #006400"/>
</g>
<g clip-path="url(#p7f481affdd)">
<use href="#C0_0_9b8c488678" x="171.4" y="303.09" style="fill: #006400"/>
</g>
<g clip-path="url(#p7f481affdd)">
<use href="#C0_0_9b8c488678" x="66.32" y="338.7" style="fill: #006400"/>
</g>
<g clip-path="url(#p7f481affdd)">
<use href="#C0_0_9b8c488678" x="66.37" y="338.63" style="fill: #006400"/>
</g>
<g clip-path="url(#p7f481affdd)">
<use href="#C0_0_9b8c488678" x="66.43" y="338.56" style="fill: #006400"/>
</g>
<g clip-path="url(#p7f481affdd)">
<use href="#C0_0_9b8c488678" x="66.48" y="338.49" style="fill: #006400"/>
</g>
<g clip-path="url(#p7f481affdd)">
<use href="#C0_0_9b8c488678" x="170.36" y="303.25" style="fill: #006400"/>
</g>
<g clip-path="url(#p7f481affdd)">
<use href="#C0_0_9b8c488678" x="66.53" y="338.42" style="fill: #006400"/>
</g>
<g clip-path="url(#p7f481affdd)">
<use href="#C0_0_9b8c488678" x="66.58" y="338.35" style="fill: #006400"/>
</g>
<g clip-path="url(#p7f481affdd)">
<use href="#C0_0_9b8c488678" x="66.64" y="338.28" style="fill: #006400"/>
</g>
<g clip-path="url(#p7f481affdd)">
<use href="#C0_0_9b8c488678" x="169.33" y="303.4" style="fill: #006400"/>
</g>
<g clip-path="url(#p7f481affdd)">
<use href="#C0_0_9b8c488678" x="66.69" y="338.22" style="fill: #006400"/>
</g>
<g clip-path="url(#p7f481affdd)">
<use href="#C0_0_9b8c488678" x="66.74" y="338.15" style="fill: #006400"/>
</g>
<g clip-path="url(#p7f481affdd)">
<use href="#C0_0_9b8c488678" x="66.8" y="338.08" style="fill: #006400"/>
</g>
<g clip-path="url(#p7f481affdd)">
<use href="#C0_0_9b8c488678" x="66.85" y="338.01" style="fill: #006400"/>
</g>
<g clip-path="url(#p7f481affdd)">
<use href="#C0_0_9b8c488678" x="168.32" y="303.55" style="fill: #006400"/>
</g>
<g clip-path="url(#p7f481affdd)">
<use href="#C0_0_9b8c488678" x="66.91" y="337.94" style="fill: #006400"/>
</g>
<g clip-path="url(#p7f481affdd)">
<use href="#C0_0_9b8c488678" x="66.96" y="337.87" style="fill: #006400"/>
</g>
<g clip-path="url(#p7f481affdd)">
<use href="#C0_0_9b8c488678" x="67.02" y="337.81" style="fill: #006400"/>
</g>
<g clip-path="url(#p7f481affdd)">
<use href="#C0_0_9b8c488678" x="67.08" y="337.74" style="fill: #006400"/>
</g>
<g clip-path="url(#p7f481affdd)">
<use href="#C0_0_9b8c488678" x="167.31" y="303.71" style="fill: #006400"/>
</g>
<g clip-path="url(#p7f481affdd)">
<use href="#C0_0_9b8c488678" x="67.13" y="337.67" style="fill: #006400"/>
</g>
<g clip-path="url(#p7f481affdd)">
<use href="#C0_0_9b8c488678" x="67.19" y="337.6" style="fill: #006400"/>
</g>
<g clip-path="url(#p7f481affdd)">
<use href="#C0_0_9b8c488678" x="67.25" y="337.53" style="fill: #006400"/>
</g>
<g clip-path="url(#p7f481affdd)">
<use href="#C0_0_9b8c488678" x="67.31" y="337.47" style="fill: #006400"/>
</g>
<g clip-path="url(#p7f481affdd)">
<use href="#C0_0_9b8c488678" x="166.33" y="303.86" style="fill: #006400"/>
</g>
<g clip-path="url(#p7f481affdd)">
<use href="#C0_0_9b8c488678" x="67.36" y="337.4" style="fill: #006400"/>
</g>
<g clip-path="url(#p7f481affdd)">
<use href="#C0_0_9b8c488678" x="67.42" y="337.33" style="fill: #006400"/>
</g>
<g clip-path="url(#p7f481affdd)">
<use href="#C0_0_9b8c488678" x="67.48" y="337.26" style="fill: #006400"/>
</g>
<g clip-path="url(#p7f481affdd)">
<use href="#C0_0_9b8c488678" x="67.54" y="337.19" style="fill: #006400"/>
</g>
<g clip-path="url(#p7f481affdd)">
<use href="#C0_0_9b8c488678" x="165.35" y="304.01" style="fill: #006400"/>
</g>
<g clip-path="url(#p7f481affdd)">
<use href="#C0_0_9b8c488678" x="67.6" y="337.13" style="fill: #006400"/>
</g>
<g clip-path="url(#p7f481affdd)">
<use href="#C0_0_9b8c488678" x="67.66" y="337.06" style="fill: #006400"/>
</g>
<g clip-path="url(#p7f481affdd)">
<use href="#C0_0_9b8c488678" x="67.72" y="336.99" style="fill: #006400"/>
</g>
<g clip-path="url(#p7f481affdd)">
<use href="#C0_0_9b8c488678" x="164.38" y="304.16" style="fill: #006400"/>
</g>
<g clip-path="url(#p7f481affdd)">
<use href="#C0_0_9b8c488678" x="67.79" y="336.92" style="fill: #006400"/>
</g>
<g clip-path="url(#p7f481affdd)">
<use href="#C0_0_9b8c488678" x="67.85" y="336.86" style="fill: #006400"/>
</g>
<g clip-path="url(#p7f481affdd)">
<use href="#C0_0_9b8c488678" x="67.91" y="336.79" style="fill: #006400"/>
</g>
<g clip-path="url(#p7f481affdd)">
<use href="#C0_0_9b8c488678" x="67.97" y="336.72" style="fill: #006400"/>
</g>
<g clip-path="url(#p7f481affdd)">
<use href="#C0_0_9b8c488678" x="163.43" y="304.31" style="fill: #006400"/>
</g>
<g clip-path="url(#p7f481affdd)">
<use href="#C0_0_9b8c488678" x="68.03" y="336.65" style="fill: #006400"/>
</g>
<g clip-path="url(#p7f481affdd)">
<use href="#C0_0_9b8c488678" x="68.1" y="336.59" style="fill: #006400"/>
</g>
<g clip-path="url(#p7f481affdd)">
<use href="#C0_0_9b8c488678" x="68.16" y="336.52" style="fill: #006400"/>
</g>
<g clip-path="url(#p7f481affdd)">
<use href="#C0_0_9b8c488678" x="68.23" y="336.45" style="fill: #006400"/>
</g>
<g clip-path="url(#p7f481affdd)">
<use href="#C0_0_9b8c488678" x="162.49" y="304.46" style="fill: #006400"/>
</g>
<g clip-path="url(#p7f481affdd)">
<use href="#C0_0_9b8c488678" x="68.29" y="336.38" style="fill: #006400"/>
</g>
<g clip-path="url(#p7f481affdd)">
<use href="#C0_0_9b8c488678" x="68.36" y="336.32" style="fill: #006400"/>
</g>
<g clip-path="url(#p7f481affdd)">
<use href="#C0_0_9b8c488678" x="68.42" y="336.25" style="fill: #006400"/>
</g>
<g clip-path="url(#p7f481affdd)">
<use href="#C0_0_9b8c488678" x="161.56" y="304.61" style="fill: #006400"/>
</g>
<g clip-path="url(#p7f481affdd)">
<use href="#C0_0_9b8c488678" x="68.49" y="336.18" style="fill: #006400"/>
</g>
<g clip-path="url(#p7f481affdd)">
<use href="#C0_0_9b8c488678" x="68.55" y="336.12" style="fill: #006400"/>
</g>
<g clip-path="url(#p7f481affdd)">
<use href="#C0_0_9b8c488678" x="68.62" y="336.05" style="fill: #006400"/>
</g>
<g clip-path="url(#p7f481affdd)">
<use href="#C0_0_9b8c488678" x="68.69" y="335.98" style="fill: #006400"/>
</g>
<g clip-path="url(#p7f481affdd)">
<use href="#C0_0_9b8c488678" x="160.64" y="304.76" style="fill: #006400"/>
</g>
<g clip-path="url(#p7f481affdd)">
<use href="#C0_0_9b8c488678" x="68.75" y="335.91" style="fill: #006400"/>
</g>
<g clip-path="url(#p7f481affdd)">
<use href="#C0_0_9b8c488678" x="68.82" y="335.85" style="fill: #006400"/>
</g>
<g clip-path="url(#p7f481affdd)">
<use href="#C0_0_9b8c488678" x="68.89" y="335.78" style="fill: #006400"/>
</g>
<g clip-path="url(#p7f481affdd)">
<use href="#C0_0_9b8c488678" x="68.96" y="335.71" style="fill: #006400"/>
</g>
<g clip-path="url(#p7f481affdd)">
<use href="#C0_0_9b8c488678" x="159.74" y="304.91" style="fill: #006400"/>
</g>
<g clip-path="url(#p7f481affdd)">
<use href="#C0_0_9b8c488678" x="69.03" y="335.64" style="fill: #006400"/>
</g>
<g clip-path="url(#p7f481affdd)">
<use href="#C0_0_9b8c488678" x="69.1" y="335.58" style="fill: #006400"/>
</g>
<g clip-path="url(#p7f481affdd)">
<use href="#C0_0_9b8c488678" x="69.17" y="335.51" style="fill: #006400"/>
</g>
<g clip-path="url(#p7f481affdd)">
<use href="#C0_0_9b8c488678" x="158.84" y="305.06" style="fill: #006400"/>
</g>
<g clip-path="url(#p7f481affdd)">
<use href="#C0_0_9b8c488678" x="69.24" y="335.44" style="fill: #006400"/>
</g>
<g clip-path="url(#p7f481affdd)">
<use href="#C0_0_9b8c488678" x="69.31" y="335.38" style="fill: #006400"/>
</g>
<g clip-path="url(#p7f481affdd)">
<use href="#C0_0_9b8c488678" x="69.38" y="335.31" style="fill: #006400"/>
</g>
<g clip-path="url(#p7f481affdd)">
<use href="#C0_0_9b8c488678" x="69.45" y="335.24" style="fill: #006400"/>
</g>
<g clip-path="url(#p7f481affdd)">
<use href="#C0_0_9b8c488678" x="157.96" y="305.21" style="fill: #006400"/>
</g>
<g clip-path="url(#p7f481affdd)">
<use href="#C0_0_9b8c488678" x="69.52" y="335.17" style="fill: #006400"/>
</g>
<g clip-path="url(#p7f481affdd)">
<use href="#C0_0_9b8c488678" x="69.6" y="335.11" style="fill: #006400"/>
</g>
<g clip-path="url(#p7f481affdd)">
<use href="#C0_0_9b8c488678" x="69.67" y="335.04" style="fill: #006400"/>
</g>
<g clip-path="url(#p7f481affdd)">
<use href="#C0_0_9b8c488678" x="157.08" y="305.36" style="fill: #006400"/>
</g>
<g clip-path="url(#p7f481affdd)">
<use href="#C0_0_9b8c488678" x="69.74" y="334.97" style="fill: #006400"/>
</g>
<g clip-path="url(#p7f481affdd)">
<use href="#C0_0_9b8c488678" x="69.82" y="334.91" style="fill: #006400"/>
</g>
<g clip-path="url(#p7f481affdd)">
<use href="#C0_0_9b8c488678" x="69.89" y="334.84" style="fill: #006400"/>
</g>
<g clip-path="url(#p7f481affdd)">
<use href="#C0_0_9b8c488678" x="69.97" y="334.77" style="fill: #006400"/>
</g>
<g clip-path="url(#p7f481affdd)">
<use href="#C0_0_9b8c488678" x="156.22" y="305.51" style="fill: #006400"/>
</g>
<g clip-path="url(#p7f481affdd)">
<use href="#C0_0_9b8c488678" x="70.04" y="334.7" style="fill: #006400"/>
</g>
<g clip-path="url(#p7f481affdd)">
<use href="#C0_0_9b8c488678" x="70.12" y="334.64" style="fill: #006400"/>
</g>
<g clip-path="url(#p7f481affdd)">
<use href="#C0_0_9b8c488678" x="70.19" y="334.57" style="fill: #006400"/>
</g>
<g clip-path="url(#p7f481affdd)">
<use href="#C0_0_9b8c488678" x="155.37" y="305.66" style="fill: #006400"/>
</g>
<g clip-path="url(#p7f481affdd)">
<use href="#C0_0_9b8c488678" x="70.27" y="334.5" style="fill: #006400"/>
</g>
<g clip-path="url(#p7f481affdd)">
<use href="#C0_0_9b8c488678" x="70.35" y="334.44" style="fill: #006400"/>
</g>
<g clip-path="url(#p7f481affdd)">
<use href="#C0_0_9b8c488678" x="70.43" y="334.37" style="fill: #006400"/>
</g>
<g clip-path="url(#p7f481affdd)">
<use href="#C0_0_9b8c488678" x="154.53" y="305.81" style="fill: #006400"/>
</g>
<g clip-path="url(#p7f481affdd)">
<use href="#C0_0_9b8c488678" x="70.5" y="334.3" style="fill: #006400"/>
</g>
<g clip-path="url(#p7f481affdd)">
<use href="#C0_0_9b8c488678" x="70.58" y="334.23" style="fill: #006400"/>
</g>
<g clip-path="url(#p7f481affdd)">
<use href="#C0_0_9b8c488678" x="70.66" y="334.17" style="fill: #006400"/>
</g>
<g clip-path="url(#p7f481affdd)">
<use href="#C0_0_9b8c488678" x="70.74" y="334.1" style="fill: #006400"/>
</g>
<g clip-path="url(#p7f481affdd)">
<use href="#C0_0_9b8c488678" x="153.69" y="305.95" style="fill: #006400"/>
</g>
<g clip-path="url(#p7f481affdd)">
<use href="#C0_0_9b8c488678" x="70.82" y="334.03" style="fill: #006400"/>
</g>
<g clip-path="url(#p7f481affdd)">
<use href="#C0_0_9b8c488678" x="70.9" y="333.96" style="fill: #006400"/>
</g>
<g clip-path="url(#p7f481affdd)">
<use href="#C0_0_9b8c488678" x="70.98" y="333.9" style="fill: #006400"/>
</g>
<g clip-path="url(#p7f481affdd)">
<use href="#C0_0_9b8c488678" x="152.87" y="306.1" style="fill: #006400"/>
</g>
<g clip-path="url(#p7f481affdd)">
<use href="#C0_0_9b8c488678" x="71.06" y="333.83" style="fill: #006400"/>
</g>
<g clip-path="url(#p7f481affdd)">
<use href="#C0_0_9b8c488678" x="71.14" y="333.76" style="fill: #006400"/>
</g>
<g clip-path="url(#p7f481affdd)">
<use href="#C0_0_9b8c488678" x="71.23" y="333.69" style="fill: #006400"/>
</g>
<g clip-path="url(#p7f481affdd)">
<use href="#C0_0_9b8c488678" x="152.06" y="306.25" style="fill: #006400"/>
</g>
<g clip-path="url(#p7f481affdd)">
<use href="#C0_0_9b8c488678" x="71.31" y="333.63" style="fill: #006400"/>
</g>
<g clip-path="url(#p7f481affdd)">
<use href="#C0_0_9b8c488678" x="71.39" y="333.56" style="fill: #006400"/>
</g>
<g clip-path="url(#p7f481affdd)">
<use href="#C0_0_9b8c488678" x="71.48" y="333.49" style="fill: #006400"/>
</g>
<g clip-path="url(#p7f481affdd)">
<use href="#C0_0_9b8c488678" x="151.26" y="306.39" style="fill: #006400"/>
</g>
<g clip-path="url(#p7f481affdd)">
<use href="#C0_0_9b8c488678" x="71.56" y="333.42" style="fill: #006400"/>
</g>
<g clip-path="url(#p7f481affdd)">
<use href="#C0_0_9b8c488678" x="71.64" y="333.36" style="fill: #006400"/>
</g>
<g clip-path="url(#p7f481affdd)">
<use href="#C0_0_9b8c488678" x="71.73" y="333.29" style="fill: #006400"/>
</g>
<g clip-path="url(#p7f481affdd)">
<use href="#C0_0_9b8c488678" x="71.82" y="333.22" style="fill: #006400"/>
</g>
<g clip-path="url(#p7f481affdd)">
<use href="#C0_0_9b8c488678" x="150.46" y="306.54" style="fill: #006400"/>
</g>
<g clip-path="url(#p7f481affdd)">
<use href="#C0_0_9b8c488678" x="71.9" y="333.15" style="fill: #006400"/>
</g>
<g clip-path="url(#p7f481affdd)">
<use href="#C0_0_9b8c488678" x="71.99" y="333.09" style="fill: #006400"/>
</g>
<g clip-path="url(#p7f481affdd)">
<use href="#C0_0_9b8c488678" x="72.08" y="333.02" style="fill: #006400"/>
</g>
<g clip-path="url(#p7f481affdd)">
<use href="#C0_0_9b8c488678" x="149.68" y="306.68" style="fill: #006400"/>
</g>
<g clip-path="url(#p7f481affdd)">
<use href="#C0_0_9b8c488678" x="72.16" y="332.95" style="fill: #006400"/>
</g>
<g clip-path="url(#p7f481affdd)">
<use href="#C0_0_9b8c488678" x="72.25" y="332.88" style="fill: #006400"/>
</g>
<g clip-path="url(#p7f481affdd)">
<use href="#C0_0_9b8c488678" x="72.34" y="332.82" style="fill: #006400"/>
</g>
<g clip-path="url(#p7f481affdd)">
<use href="#C0_0_9b8c488678" x="148.9" y="306.83" style="fill: #006400"/>
</g>
<g clip-path="url(#p7f481affdd)">
<use href="#C0_0_9b8c488678" x="72.43" y="332.75" style="fill: #006400"/>
</g>
<g clip-path="url(#p7f481affdd)">
<use href="#C0_0_9b8c488678" x="72.52" y="332.68" style="fill: #006400"/>
</g>
<g clip-path="url(#p7f481affdd)">
<use href="#C0_0_9b8c488678" x="72.61" y="332.61" style="fill: #006400"/>
</g>
<g clip-path="url(#p7f481affdd)">
<use href="#C0_0_9b8c488678" x="148.14" y="306.97" style="fill: #006400"/>
</g>
<g clip-path="url(#p7f481affdd)">
<use href="#C0_0_9b8c488678" x="72.7" y="332.54" style="fill: #006400"/>
</g>
<g clip-path="url(#p7f481affdd)">
<use href="#C0_0_9b8c488678" x="72.79" y="332.48" style="fill: #006400"/>
</g>
<g clip-path="url(#p7f481affdd)">
<use href="#C0_0_9b8c488678" x="72.88" y="332.41" style="fill: #006400"/>
</g>
<g clip-path="url(#p7f481affdd)">
<use href="#C0_0_9b8c488678" x="147.38" y="307.11" style="fill: #006400"/>
</g>
<g clip-path="url(#p7f481affdd)">
<use href="#C0_0_9b8c488678" x="72.97" y="332.34" style="fill: #006400"/>
</g>
<g clip-path="url(#p7f481affdd)">
<use href="#C0_0_9b8c488678" x="73.07" y="332.27" style="fill: #006400"/>
</g>
<g clip-path="url(#p7f481affdd)">
<use href="#C0_0_9b8c488678" x="73.16" y="332.2" style="fill: #006400"/>
</g>
<g clip-path="url(#p7f481affdd)">
<use href="#C0_0_9b8c488678" x="146.63" y="307.26" style="fill: #006400"/>
</g>
<g clip-path="url(#p7f481affdd)">
<use href="#C0_0_9b8c488678" x="73.25" y="332.14" style="fill: #006400"/>
</g>
<g clip-path="url(#p7f481affdd)">
<use href="#C0_0_9b8c488678" x="73.35" y="332.07" style="fill: #006400"/>
</g>
<g clip-path="url(#p7f481affdd)">
<use href="#C0_0_9b8c488678" x="73.44" y="332" style="fill: #006400"/>
</g>
<g clip-path="url(#p7f481affdd)">
<use href="#C0_0_9b8c488678" x="145.89" y="307.4" style="fill: #006400"/>
</g>
<g clip-path="url(#p7f481affdd)">
<use href="#C0_0_9b8c488678" x="73.54" y="331.93" style="fill: #006400"/>
</g>
<g clip-path="url(#p7f481affdd)">
<use href="#C0_0_9b8c488678" x="73.63" y="331.86" style="fill: #006400"/>
</g>
<g clip-path="url(#p7f481affdd)">
<use href="#C0_0_9b8c488678" x="73.73" y="331.79" style="fill: #006400"/>
</g>
<g clip-path="url(#p7f481affdd)">
<use href="#C0_0_9b8c488678" x="145.16" y="307.54" style="fill: #006400"/>
</g>
<g clip-path="url(#p7f481affdd)">
<use href="#C0_0_9b8c488678" x="73.83" y="331.72" style="fill: #006400"/>
</g>
<g clip-path="url(#p7f481affdd)">
<use href="#C0_0_9b8c488678" x="73.92" y="331.66" style="fill: #006400"/>
</g>
<g clip-path="url(#p7f481affdd)">
<use href="#C0_0_9b8c488678" x="74.02" y="331.59" style="fill: #006400"/>
</g>
<g clip-path="url(#p7f481affdd)">
<use href="#C0_0_9b8c488678" x="144.44" y="307.68" style="fill: #006400"/>
</g>
<g clip-path="url(#p7f481affdd)">
<use href="#C0_0_9b8c488678" x="74.12" y="331.52" style="fill: #006400"/>
</g>
<g clip-path="url(#p7f481affdd)">
<use href="#C0_0_9b8c488678" x="74.22" y="331.45" style="fill: #006400"/>
</g>
<g clip-path="url(#p7f481affdd)">
<use href="#C0_0_9b8c488678" x="74.32" y="331.38" style="fill: #006400"/>
</g>
<g clip-path="url(#p7f481affdd)">
<use href="#C0_0_9b8c488678" x="143.73" y="307.82" style="fill: #006400"/>
</g>
<g clip-path="url(#p7f481affdd)">
<use href="#C0_0_9b8c488678" x="74.42" y="331.31" style="fill: #006400"/>
</g>
<g clip-path="url(#p7f481affdd)">
<use href="#C0_0_9b8c488678" x="74.52" y="331.24" style="fill: #006400"/>
</g>
<g clip-path="url(#p7f481affdd)">
<use href="#C0_0_9b8c488678" x="74.62" y="331.17" style="fill: #006400"/>
</g>
<g clip-path="url(#p7f481affdd)">
<use href="#C0_0_9b8c488678" x="143.02" y="307.96" style="fill: #006400"/>
</g>
<g clip-path="url(#p7f481affdd)">
<use href="#C0_0_9b8c488678" x="74.72" y="331.11" style="fill: #006400"/>
</g>
<g clip-path="url(#p7f481affdd)">
<use href="#C0_0_9b8c488678" x="74.83" y="331.04" style="fill: #006400"/>
</g>
<g clip-path="url(#p7f481affdd)">
<use href="#C0_0_9b8c488678" x="74.93" y="330.97" style="fill: #006400"/>
</g>
<g clip-path="url(#p7f481affdd)">
<use href="#C0_0_9b8c488678" x="142.32" y="308.1" style="fill: #006400"/>
</g>
<g clip-path="url(#p7f481affdd)">
<use href="#C0_0_9b8c488678" x="75.03" y="330.9" style="fill: #006400"/>
</g>
<g clip-path="url(#p7f481affdd)">
<use href="#C0_0_9b8c488678" x="75.14" y="330.83" style="fill: #006400"/>
</g>
<g clip-path="url(#p7f481affdd)">
<use href="#C0_0_9b8c488678" x="141.63" y="308.24" style="fill: #006400"/>
</g>
<g clip-path="url(#p7f481affdd)">
<use href="#C0_0_9b8c488678" x="75.24" y="330.76" style="fill: #006400"/>
</g>
<g clip-path="url(#p7f481affdd)">
<use href="#C0_0_9b8c488678" x="75.35" y="330.69" style="fill: #006400"/>
</g>
<g clip-path="url(#p7f481affdd)">
<use href="#C0_0_9b8c488678" x="75.46" y="330.62" style="fill: #006400"/>
</g>
<g clip-path="url(#p7f481affdd)">
<use href="#C0_0_9b8c488678" x="140.95" y="308.38" style="fill: #006400"/>
</g>
<g clip-path="url(#p7f481affdd)">
<use href="#C0_0_9b8c488678" x="75.56" y="330.55" style="fill: #006400"/>
</g>
<g clip-path="url(#p7f481affdd)">
<use href="#C0_0_9b8c488678" x="75.67" y="330.48" style="fill: #006400"/>
</g>
<g clip-path="url(#p7f481affdd)">
<use href="#C0_0_9b8c488678" x="75.78" y="330.41" style="fill: #006400"/>
</g>
<g clip-path="url(#p7f481affdd)">
<use href="#C0_0_9b8c488678" x="140.27" y="308.52" style="fill: #006400"/>
</g>
<g clip-path="url(#p7f481affdd)">
<use href="#C0_0_9b8c488678" x="75.89" y="330.34" style="fill: #006400"/>
</g>
<g clip-path="url(#p7f481affdd)">
<use href="#C0_0_9b8c488678" x="76" y="330.27" style="fill: #006400"/>
</g>
<g clip-path="url(#p7f481affdd)">
<use href="#C0_0_9b8c488678" x="76.11" y="330.2" style="fill: #006400"/>
</g>
<g clip-path="url(#p7f481affdd)">
<use href="#C0_0_9b8c488678" x="139.61" y="308.66" style="fill: #006400"/>
</g>
<g clip-path="url(#p7f481affdd)">
<use href="#C0_0_9b8c488678" x="76.22" y="330.13" style="fill: #006400"/>
</g>
<g clip-path="url(#p7f481affdd)">
<use href="#C0_0_9b8c488678" x="76.33" y="330.06" style="fill: #006400"/>
</g>
<g clip-path="url(#p7f481affdd)">
<use href="#C0_0_9b8c488678" x="138.95" y="308.79" style="fill: #006400"/>
</g>
<g clip-path="url(#p7f481affdd)">
<use href="#C0_0_9b8c488678" x="76.44" y="329.99" style="fill: #006400"/>
</g>
<g clip-path="url(#p7f481affdd)">
<use href="#C0_0_9b8c488678" x="76.55" y="329.92" style="fill: #006400"/>
</g>
<g clip-path="url(#p7f481affdd)">
<use href="#C0_0_9b8c488678" x="76.67" y="329.85" style="fill: #006400"/>
</g>
<g clip-path="url(#p7f481affdd)">
<use href="#C0_0_9b8c488678" x="138.29" y="308.93" style="fill: #006400"/>
</g>
<g clip-path="url(#p7f481affdd)">
<use href="#C0_0_9b8c488678" x="76.78" y="329.78" style="fill: #006400"/>
</g>
<g clip-path="url(#p7f481affdd)">
<use href="#C0_0_9b8c488678" x="76.89" y="329.71" style="fill: #006400"/>
</g>
<g clip-path="url(#p7f481affdd)">
<use href="#C0_0_9b8c488678" x="137.65" y="309.07" style="fill: #006400"/>
</g>
<g clip-path="url(#p7f481affdd)">
<use href="#C0_0_9b8c488678" x="77.01" y="329.64" style="fill: #006400"/>
</g>
<g clip-path="url(#p7f481affdd)">
<use href="#C0_0_9b8c488678" x="77.13" y="329.57" style="fill: #006400"/>
</g>
<g clip-path="url(#p7f481affdd)">
<use href="#C0_0_9b8c488678" x="77.24" y="329.49" style="fill: #006400"/>
</g>
<g clip-path="url(#p7f481affdd)">
<use href="#C0_0_9b8c488678" x="137.01" y="309.2" style="fill: #006400"/>
</g>
<g clip-path="url(#p7f481affdd)">
<use href="#C0_0_9b8c488678" x="77.36" y="329.42" style="fill: #006400"/>
</g>
<g clip-path="url(#p7f481affdd)">
<use href="#C0_0_9b8c488678" x="77.48" y="329.35" style="fill: #006400"/>
</g>
<g clip-path="url(#p7f481affdd)">
<use href="#C0_0_9b8c488678" x="77.6" y="329.28" style="fill: #006400"/>
</g>
<g clip-path="url(#p7f481affdd)">
<use href="#C0_0_9b8c488678" x="136.38" y="309.34" style="fill: #006400"/>
</g>
<g clip-path="url(#p7f481affdd)">
<use href="#C0_0_9b8c488678" x="77.72" y="329.21" style="fill: #006400"/>
</g>
<g clip-path="url(#p7f481affdd)">
<use href="#C0_0_9b8c488678" x="77.84" y="329.14" style="fill: #006400"/>
</g>
<g clip-path="url(#p7f481affdd)">
<use href="#C0_0_9b8c488678" x="135.76" y="309.47" style="fill: #006400"/>
</g>
<g clip-path="url(#p7f481affdd)">
<use href="#C0_0_9b8c488678" x="77.96" y="329.07" style="fill: #006400"/>
</g>
<g clip-path="url(#p7f481affdd)">
<use href="#C0_0_9b8c488678" x="78.08" y="328.99" style="fill: #006400"/>
</g>
<g clip-path="url(#p7f481affdd)">
<use href="#C0_0_9b8c488678" x="78.2" y="328.92" style="fill: #006400"/>
</g>
<g clip-path="url(#p7f481affdd)">
<use href="#C0_0_9b8c488678" x="135.14" y="309.61" style="fill: #006400"/>
</g>
<g clip-path="url(#p7f481affdd)">
<use href="#C0_0_9b8c488678" x="78.32" y="328.85" style="fill: #006400"/>
</g>
<g clip-path="url(#p7f481affdd)">
<use href="#C0_0_9b8c488678" x="78.45" y="328.78" style="fill: #006400"/>
</g>
<g clip-path="url(#p7f481affdd)">
<use href="#C0_0_9b8c488678" x="134.53" y="309.74" style="fill: #006400"/>
</g>
<g clip-path="url(#p7f481affdd)">
<use href="#C0_0_9b8c488678" x="78.57" y="328.71" style="fill: #006400"/>
</g>
<g clip-path="url(#p7f481affdd)">
<use href="#C0_0_9b8c488678" x="78.7" y="328.63" style="fill: #006400"/>
</g>
<g clip-path="url(#p7f481affdd)">
<use href="#C0_0_9b8c488678" x="133.93" y="309.87" style="fill: #006400"/>
</g>
<g clip-path="url(#p7f481affdd)">
<use href="#C0_0_9b8c488678" x="78.82" y="328.56" style="fill: #006400"/>
</g>
<g clip-path="url(#p7f481affdd)">
<use href="#C0_0_9b8c488678" x="78.95" y="328.49" style="fill: #006400"/>
</g>
<g clip-path="url(#p7f481affdd)">
<use href="#C0_0_9b8c488678" x="79.08" y="328.42" style="fill: #006400"/>
</g>
<g clip-path="url(#p7f481affdd)">
<use href="#C0_0_9b8c488678" x="133.33" y="310.01" style="fill: #006400"/>
</g>
<g clip-path="url(#p7f481affdd)">
<use href="#C0_0_9b8c488678" x="79.2" y="328.34" style="fill: #006400"/>
</g>
<g clip-path="url(#p7f481affdd)">
<use href="#C0_0_9b8c488678" x="79.33" y="328.27" style="fill: #006400"/>
</g>
<g clip-path="url(#p7f481affdd)">
<use href="#C0_0_9b8c488678" x="132.74" y="310.14" style="fill: #006400"/>
</g>
<g clip-path="url(#p7f481affdd)">
<use href="#C0_0_9b8c488678" x="79.46" y="328.2" style="fill: #006400"/>
</g>
<g clip-path="url(#p7f481affdd)">
<use href="#C0_0_9b8c488678" x="79.59" y="328.13" style="fill: #006400"/>
</g>
<g clip-path="url(#p7f481affdd)">
<use href="#C0_0_9b8c488678" x="132.15" y="310.27" style="fill: #006400"/>
</g>
<g clip-path="url(#p7f481affdd)">
<use href="#C0_0_9b8c488678" x="79.73" y="328.05" style="fill: #006400"/>
</g>
<g clip-path="url(#p7f481affdd)">
<use href="#C0_0_9b8c488678" x="79.86" y="327.98" style="fill: #006400"/>
</g>
<g clip-path="url(#p7f481affdd)">
<use href="#C0_0_9b8c488678" x="79.99" y="327.91" style="fill: #006400"/>
</g>
<g clip-path="url(#p7f481affdd)">
<use href="#C0_0_9b8c488678" x="131.57" y="310.4" style="fill: #006400"/>
</g>
<g clip-path="url(#p7f481affdd)">
<use href="#C0_0_9b8c488678" x="80.12" y="327.83" style="fill: #006400"/>
</g>
<g clip-path="url(#p7f481affdd)">
<use href="#C0_0_9b8c488678" x="80.26" y="327.76" style="fill: #006400"/>
</g>
<g clip-path="url(#p7f481affdd)">
<use href="#C0_0_9b8c488678" x="131" y="310.53" style="fill: #006400"/>
</g>
<g clip-path="url(#p7f481affdd)">
<use href="#C0_0_9b8c488678" x="80.39" y="327.69" style="fill: #006400"/>
</g>
<g clip-path="url(#p7f481affdd)">
<use href="#C0_0_9b8c488678" x="80.53" y="327.61" style="fill: #006400"/>
</g>
<g clip-path="url(#p7f481affdd)">
<use href="#C0_0_9b8c488678" x="130.44" y="310.66" style="fill: #006400"/>
</g>
<g clip-path="url(#p7f481affdd)">
<use href="#C0_0_9b8c488678" x="80.67" y="327.54" style="fill: #006400"/>
</g>
<g clip-path="url(#p7f481affdd)">
<use href="#C0_0_9b8c488678" x="80.81" y="327.46" style="fill: #006400"/>
</g>
<g clip-path="url(#p7f481affdd)">
<use href="#C0_0_9b8c488678" x="129.88" y="310.79" style="fill: #006400"/>
</g>
<g clip-path="url(#p7f481affdd)">
<use href="#C0_0_9b8c488678" x="80.94" y="327.39" style="fill: #006400"/>
</g>
<g clip-path="url(#p7f481affdd)">
<use href="#C0_0_9b8c488678" x="81.08" y="327.31" style="fill: #006400"/>
</g>
<g clip-path="url(#p7f481affdd)">
<use href="#C0_0_9b8c488678" x="81.22" y="327.24" style="fill: #006400"/>
</g>
<g clip-path="url(#p7f481affdd)">
<use href="#C0_0_9b8c488678" x="129.32" y="310.92" style="fill: #006400"/>
</g>
<g clip-path="url(#p7f481affdd)">
<use href="#C0_0_9b8c488678" x="81.37" y="327.17" style="fill: #006400"/>
</g>
<g clip-path="url(#p7f481affdd)">
<use href="#C0_0_9b8c488678" x="81.51" y="327.09" style="fill: #006400"/>
</g>
<g clip-path="url(#p7f481affdd)">
<use href="#C0_0_9b8c488678" x="128.77" y="311.05" style="fill: #006400"/>
</g>
<g clip-path="url(#p7f481affdd)">
<use href="#C0_0_9b8c488678" x="81.65" y="327.02" style="fill: #006400"/>
</g>
<g clip-path="url(#p7f481affdd)">
<use href="#C0_0_9b8c488678" x="81.79" y="326.94" style="fill: #006400"/>
</g>
<g clip-path="url(#p7f481affdd)">
<use href="#C0_0_9b8c488678" x="128.23" y="311.18" style="fill: #006400"/>
</g>
<g clip-path="url(#p7f481affdd)">
<use href="#C0_0_9b8c488678" x="81.94" y="326.86" style="fill: #006400"/>
</g>
<g clip-path="url(#p7f481affdd)">
<use href="#C0_0_9b8c488678" x="82.09" y="326.79" style="fill: #006400"/>
</g>
<g clip-path="url(#p7f481affdd)">
<use href="#C0_0_9b8c488678" x="127.7" y="311.3" style="fill: #006400"/>
</g>
<g clip-path="url(#p7f481affdd)">
<use href="#C0_0_9b8c488678" x="82.23" y="326.71" style="fill: #006400"/>
</g>
<g clip-path="url(#p7f481affdd)">
<use href="#C0_0_9b8c488678" x="82.38" y="326.64" style="fill: #006400"/>
</g>
<g clip-path="url(#p7f481affdd)">
<use href="#C0_0_9b8c488678" x="127.16" y="311.43" style="fill: #006400"/>
</g>
<g clip-path="url(#p7f481affdd)">
<use href="#C0_0_9b8c488678" x="82.53" y="326.56" style="fill: #006400"/>
</g>
<g clip-path="url(#p7f481affdd)">
<use href="#C0_0_9b8c488678" x="82.68" y="326.49" style="fill: #006400"/>
</g>
<g clip-path="url(#p7f481affdd)">
<use href="#C0_0_9b8c488678" x="126.64" y="311.56" style="fill: #006400"/>
</g>
<g clip-path="url(#p7f481affdd)">
<use href="#C0_0_9b8c488678" x="82.83" y="326.41" style="fill: #006400"/>
</g>
<g clip-path="url(#p7f481affdd)">
<use href="#C0_0_9b8c488678" x="82.98" y="326.33" style="fill: #006400"/>
</g>
<g clip-path="url(#p7f481affdd)">
<use href="#C0_0_9b8c488678" x="126.12" y="311.68" style="fill: #006400"/>
</g>
<g clip-path="url(#p7f481affdd)">
<use href="#C0_0_9b8c488678" x="83.13" y="326.26" style="fill: #006400"/>
</g>
<g clip-path="url(#p7f481affdd)">
<use href="#C0_0_9b8c488678" x="83.29" y="326.18" style="fill: #006400"/>
</g>
<g clip-path="url(#p7f481affdd)">
<use href="#C0_0_9b8c488678" x="125.6" y="311.81" style="fill: #006400"/>
</g>
<g clip-path="url(#p7f481affdd)">
<use href="#C0_0_9b8c488678" x="83.44" y="326.1" style="fill: #006400"/>
</g>
<g clip-path="url(#p7f481affdd)">
<use href="#C0_0_9b8c488678" x="83.59" y="326.03" style="fill: #006400"/>
</g>
<g clip-path="url(#p7f481affdd)">
<use href="#C0_0_9b8c488678" x="125.09" y="311.93" style="fill: #006400"/>
</g>
<g clip-path="url(#p7f481affdd)">
<use href="#C0_0_9b8c488678" x="83.75" y="325.95" style="fill: #006400"/>
</g>
<g clip-path="url(#p7f481affdd)">
<use href="#C0_0_9b8c488678" x="83.91" y="325.87" style="fill: #006400"/>
</g>
<g clip-path="url(#p7f481affdd)">
<use href="#C0_0_9b8c488678" x="124.59" y="312.06" style="fill: #006400"/>
</g>
<g clip-path="url(#p7f481affdd)">
<use href="#C0_0_9b8c488678" x="84.07" y="325.79" style="fill: #006400"/>
</g>
<g clip-path="url(#p7f481affdd)">
<use href="#C0_0_9b8c488678" x="84.23" y="325.72" style="fill: #006400"/>
</g>
<g clip-path="url(#p7f481affdd)">
<use href="#C0_0_9b8c488678" x="124.09" y="312.18" style="fill: #006400"/>
</g>
<g clip-path="url(#p7f481affdd)">
<use href="#C0_0_9b8c488678" x="84.39" y="325.64" style="fill: #006400"/>
</g>
<g clip-path="url(#p7f481affdd)">
<use href="#C0_0_9b8c488678" x="84.55" y="325.56" style="fill: #006400"/>
</g>
<g clip-path="url(#p7f481affdd)">
<use href="#C0_0_9b8c488678" x="123.6" y="312.3" style="fill: #006400"/>
</g>
<g clip-path="url(#p7f481affdd)">
<use href="#C0_0_9b8c488678" x="84.71" y="325.48" style="fill: #006400"/>
</g>
<g clip-path="url(#p7f481affdd)">
<use href="#C0_0_9b8c488678" x="84.87" y="325.4" style="fill: #006400"/>
</g>
<g clip-path="url(#p7f481affdd)">
<use href="#C0_0_9b8c488678" x="123.11" y="312.43" style="fill: #006400"/>
</g>
<g clip-path="url(#p7f481affdd)">
<use href="#C0_0_9b8c488678" x="85.04" y="325.32" style="fill: #006400"/>
</g>
<g clip-path="url(#p7f481affdd)">
<use href="#C0_0_9b8c488678" x="85.2" y="325.25" style="fill: #006400"/>
</g>
<g clip-path="url(#p7f481affdd)">
<use href="#C0_0_9b8c488678" x="122.62" y="312.55" style="fill: #006400"/>
</g>
<g clip-path="url(#p7f481affdd)">
<use href="#C0_0_9b8c488678" x="85.37" y="325.17" style="fill: #006400"/>
</g>
<g clip-path="url(#p7f481affdd)">
<use href="#C0_0_9b8c488678" x="85.54" y="325.09" style="fill: #006400"/>
</g>
<g clip-path="url(#p7f481affdd)">
<use href="#C0_0_9b8c488678" x="122.14" y="312.67" style="fill: #006400"/>
</g>
<g clip-path="url(#p7f481affdd)">
<use href="#C0_0_9b8c488678" x="85.71" y="325.01" style="fill: #006400"/>
</g>
<g clip-path="url(#p7f481affdd)">
<use href="#C0_0_9b8c488678" x="121.67" y="312.79" style="fill: #006400"/>
</g>
<g clip-path="url(#p7f481affdd)">
<use href="#C0_0_9b8c488678" x="85.88" y="324.93" style="fill: #006400"/>
</g>
<g clip-path="url(#p7f481affdd)">
<use href="#C0_0_9b8c488678" x="86.05" y="324.85" style="fill: #006400"/>
</g>
<g clip-path="url(#p7f481affdd)">
<use href="#C0_0_9b8c488678" x="121.2" y="312.91" style="fill: #006400"/>
</g>
<g clip-path="url(#p7f481affdd)">
<use href="#C0_0_9b8c488678" x="86.22" y="324.77" style="fill: #006400"/>
</g>
<g clip-path="url(#p7f481affdd)">
<use href="#C0_0_9b8c488678" x="86.4" y="324.69" style="fill: #006400"/>
</g>
<g clip-path="url(#p7f481affdd)">
<use href="#C0_0_9b8c488678" x="120.73" y="313.03" style="fill: #006400"/>
</g>
<g clip-path="url(#p7f481affdd)">
<use href="#C0_0_9b8c488678" x="86.57" y="324.61" style="fill: #006400"/>
</g>
<g clip-path="url(#p7f481affdd)">
<use href="#C0_0_9b8c488678" x="86.75" y="324.53" style="fill: #006400"/>
</g>
<g clip-path="url(#p7f481affdd)">
<use href="#C0_0_9b8c488678" x="120.27" y="313.15" style="fill: #006400"/>
</g>
<g clip-path="url(#p7f481affdd)">
<use href="#C0_0_9b8c488678" x="86.92" y="324.45" style="fill: #006400"/>
</g>
<g clip-path="url(#p7f481affdd)">
<use href="#C0_0_9b8c488678" x="119.82" y="313.27" style="fill: #006400"/>
</g>
<g clip-path="url(#p7f481affdd)">
<use href="#C0_0_9b8c488678" x="87.1" y="324.37" style="fill: #006400"/>
</g>
<g clip-path="url(#p7f481affdd)">
<use href="#C0_0_9b8c488678" x="87.28" y="324.29" style="fill: #006400"/>
</g>
<g clip-path="url(#p7f481affdd)">
<use href="#C0_0_9b8c488678" x="119.36" y="313.39" style="fill: #006400"/>
</g>
<g clip-path="url(#p7f481affdd)">
<use href="#C0_0_9b8c488678" x="87.46" y="324.2" style="fill: #006400"/>
</g>
<g clip-path="url(#p7f481affdd)">
<use href="#C0_0_9b8c488678" x="87.65" y="324.12" style="fill: #006400"/>
</g>
<g clip-path="url(#p7f481affdd)">
<use href="#C0_0_9b8c488678" x="118.92" y="313.51" style="fill: #006400"/>
</g>
<g clip-path="url(#p7f481affdd)">
<use href="#C0_0_9b8c488678" x="87.83" y="324.04" style="fill: #006400"/>
</g>
<g clip-path="url(#p7f481affdd)">
<use href="#C0_0_9b8c488678" x="118.47" y="313.63" style="fill: #006400"/>
</g>
<g clip-path="url(#p7f481affdd)">
<use href="#C0_0_9b8c488678" x="88.01" y="323.96" style="fill: #006400"/>
</g>
<g clip-path="url(#p7f481affdd)">
<use href="#C0_0_9b8c488678" x="88.2" y="323.88" style="fill: #006400"/>
</g>
<g clip-path="url(#p7f481affdd)">
<use href="#C0_0_9b8c488678" x="118.04" y="313.74" style="fill: #006400"/>
</g>
<g clip-path="url(#p7f481affdd)">
<use href="#C0_0_9b8c488678" x="88.39" y="323.8" style="fill: #006400"/>
</g>
<g clip-path="url(#p7f481affdd)">
<use href="#C0_0_9b8c488678" x="88.57" y="323.71" style="fill: #006400"/>
</g>
<g clip-path="url(#p7f481affdd)">
<use href="#C0_0_9b8c488678" x="117.6" y="313.86" style="fill: #006400"/>
</g>
<g clip-path="url(#p7f481affdd)">
<use href="#C0_0_9b8c488678" x="88.76" y="323.63" style="fill: #006400"/>
</g>
<g clip-path="url(#p7f481affdd)">
<use href="#C0_0_9b8c488678" x="117.17" y="313.98" style="fill: #006400"/>
</g>
<g clip-path="url(#p7f481affdd)">
<use href="#C0_0_9b8c488678" x="88.96" y="323.55" style="fill: #006400"/>
</g>
<g clip-path="url(#p7f481affdd)">
<use href="#C0_0_9b8c488678" x="89.15" y="323.46" style="fill: #006400"/>
</g>
<g clip-path="url(#p7f481affdd)">
<use href="#C0_0_9b8c488678" x="116.75" y="314.09" style="fill: #006400"/>
</g>
<g clip-path="url(#p7f481affdd)">
<use href="#C0_0_9b8c488678" x="89.34" y="323.38" style="fill: #006400"/>
</g>
<g clip-path="url(#p7f481affdd)">
<use href="#C0_0_9b8c488678" x="89.54" y="323.3" style="fill: #006400"/>
</g>
<g clip-path="url(#p7f481affdd)">
<use href="#C0_0_9b8c488678" x="116.32" y="314.21" style="fill: #006400"/>
</g>
<g clip-path="url(#p7f481affdd)">
<use href="#C0_0_9b8c488678" x="89.73" y="323.21" style="fill: #006400"/>
</g>
<g clip-path="url(#p7f481affdd)">
<use href="#C0_0_9b8c488678" x="115.91" y="314.32" style="fill: #006400"/>
</g>
<g clip-path="url(#p7f481affdd)">
<use href="#C0_0_9b8c488678" x="89.93" y="323.13" style="fill: #006400"/>
</g>
<g clip-path="url(#p7f481affdd)">
<use href="#C0_0_9b8c488678" x="90.13" y="323.04" style="fill: #006400"/>
</g>
<g clip-path="url(#p7f481affdd)">
<use href="#C0_0_9b8c488678" x="115.49" y="314.44" style="fill: #006400"/>
</g>
<g clip-path="url(#p7f481affdd)">
<use href="#C0_0_9b8c488678" x="90.33" y="322.96" style="fill: #006400"/>
</g>
<g clip-path="url(#p7f481affdd)">
<use href="#C0_0_9b8c488678" x="115.08" y="314.55" style="fill: #006400"/>
</g>
<g clip-path="url(#p7f481affdd)">
<use href="#C0_0_9b8c488678" x="90.53" y="322.87" style="fill: #006400"/>
</g>
<g clip-path="url(#p7f481affdd)">
<use href="#C0_0_9b8c488678" x="90.74" y="322.79" style="fill: #006400"/>
</g>
<g clip-path="url(#p7f481affdd)">
<use href="#C0_0_9b8c488678" x="114.68" y="314.67" style="fill: #006400"/>
</g>
<g clip-path="url(#p7f481affdd)">
<use href="#C0_0_9b8c488678" x="90.94" y="322.7" style="fill: #006400"/>
</g>
<g clip-path="url(#p7f481affdd)">
<use href="#C0_0_9b8c488678" x="114.27" y="314.78" style="fill: #006400"/>
</g>
<g clip-path="url(#p7f481affdd)">
<use href="#C0_0_9b8c488678" x="91.15" y="322.62" style="fill: #006400"/>
</g>
<g clip-path="url(#p7f481affdd)">
<use href="#C0_0_9b8c488678" x="91.36" y="322.53" style="fill: #006400"/>
</g>
<g clip-path="url(#p7f481affdd)">
<use href="#C0_0_9b8c488678" x="113.87" y="314.89" style="fill: #006400"/>
</g>
<g clip-path="url(#p7f481affdd)">
<use href="#C0_0_9b8c488678" x="91.57" y="322.45" style="fill: #006400"/>
</g>
<g clip-path="url(#p7f481affdd)">
<use href="#C0_0_9b8c488678" x="113.48" y="315.01" style="fill: #006400"/>
</g>
<g clip-path="url(#p7f481affdd)">
<use href="#C0_0_9b8c488678" x="91.78" y="322.36" style="fill: #006400"/>
</g>
<g clip-path="url(#p7f481affdd)">
<use href="#C0_0_9b8c488678" x="113.09" y="315.12" style="fill: #006400"/>
</g>
<g clip-path="url(#p7f481affdd)">
<use href="#C0_0_9b8c488678" x="91.99" y="322.27" style="fill: #006400"/>
</g>
<g clip-path="url(#p7f481affdd)">
<use href="#C0_0_9b8c488678" x="92.2" y="322.19" style="fill: #006400"/>
</g>
<g clip-path="url(#p7f481affdd)">
<use href="#C0_0_9b8c488678" x="112.7" y="315.23" style="fill: #006400"/>
</g>
<g clip-path="url(#p7f481affdd)">
<use href="#C0_0_9b8c488678" x="92.42" y="322.1" style="fill: #006400"/>
</g>
<g clip-path="url(#p7f481affdd)">
<use href="#C0_0_9b8c488678" x="112.32" y="315.34" style="fill: #006400"/>
</g>
<g clip-path="url(#p7f481affdd)">
<use href="#C0_0_9b8c488678" x="92.64" y="322.01" style="fill: #006400"/>
</g>
<g clip-path="url(#p7f481affdd)">
<use href="#C0_0_9b8c488678" x="92.86" y="321.93" style="fill: #006400"/>
</g>
<g clip-path="url(#p7f481affdd)">
<use href="#C0_0_9b8c488678" x="111.94" y="315.45" style="fill: #006400"/>
</g>
<g clip-path="url(#p7f481affdd)">
<use href="#C0_0_9b8c488678" x="93.08" y="321.84" style="fill: #006400"/>
</g>
<g clip-path="url(#p7f481affdd)">
<use href="#C0_0_9b8c488678" x="111.56" y="315.56" style="fill: #006400"/>
</g>
<g clip-path="url(#p7f481affdd)">
<use href="#C0_0_9b8c488678" x="93.3" y="321.75" style="fill: #006400"/>
</g>
<g clip-path="url(#p7f481affdd)">
<use href="#C0_0_9b8c488678" x="111.19" y="315.67" style="fill: #006400"/>
</g>
<g clip-path="url(#p7f481affdd)">
<use href="#C0_0_9b8c488678" x="93.52" y="321.66" style="fill: #006400"/>
</g>
<g clip-path="url(#p7f481affdd)">
<use href="#C0_0_9b8c488678" x="93.75" y="321.57" style="fill: #006400"/>
</g>
<g clip-path="url(#p7f481affdd)">
<use href="#C0_0_9b8c488678" x="110.82" y="315.78" style="fill: #006400"/>
</g>
<g clip-path="url(#p7f481affdd)">
<use href="#C0_0_9b8c488678" x="93.98" y="321.48" style="fill: #006400"/>
</g>
<g clip-path="url(#p7f481affdd)">
<use href="#C0_0_9b8c488678" x="110.45" y="315.89" style="fill: #006400"/>
</g>
<g clip-path="url(#p7f481affdd)">
<use href="#C0_0_9b8c488678" x="94.2" y="321.39" style="fill: #006400"/>
</g>
<g clip-path="url(#p7f481affdd)">
<use href="#C0_0_9b8c488678" x="110.09" y="316" style="fill: #006400"/>
</g>
<g clip-path="url(#p7f481affdd)">
<use href="#C0_0_9b8c488678" x="94.43" y="321.31" style="fill: #006400"/>
</g>
<g clip-path="url(#p7f481affdd)">
<use href="#C0_0_9b8c488678" x="94.67" y="321.22" style="fill: #006400"/>
</g>
<g clip-path="url(#p7f481affdd)">
<use href="#C0_0_9b8c488678" x="109.73" y="316.11" style="fill: #006400"/>
</g>
<g clip-path="url(#p7f481affdd)">
<use href="#C0_0_9b8c488678" x="94.9" y="321.13" style="fill: #006400"/>
</g>
<g clip-path="url(#p7f481affdd)">
<use href="#C0_0_9b8c488678" x="109.37" y="316.21" style="fill: #006400"/>
</g>
<g clip-path="url(#p7f481affdd)">
<use href="#C0_0_9b8c488678" x="95.14" y="321.04" style="fill: #006400"/>
</g>
<g clip-path="url(#p7f481affdd)">
<use href="#C0_0_9b8c488678" x="109.02" y="316.32" style="fill: #006400"/>
</g>
<g clip-path="url(#p7f481affdd)">
<use href="#C0_0_9b8c488678" x="95.38" y="320.94" style="fill: #006400"/>
</g>
<g clip-path="url(#p7f481affdd)">
<use href="#C0_0_9b8c488678" x="108.67" y="316.43" style="fill: #006400"/>
</g>
<g clip-path="url(#p7f481affdd)">
<use href="#C0_0_9b8c488678" x="95.61" y="320.85" style="fill: #006400"/>
</g>
<g clip-path="url(#p7f481affdd)">
<use href="#C0_0_9b8c488678" x="95.86" y="320.76" style="fill: #006400"/>
</g>
<g clip-path="url(#p7f481affdd)">
<use href="#C0_0_9b8c488678" x="108.32" y="316.53" style="fill: #006400"/>
</g>
<g clip-path="url(#p7f481affdd)">
<use href="#C0_0_9b8c488678" x="96.1" y="320.67" style="fill: #006400"/>
</g>
<g clip-path="url(#p7f481affdd)">
<use href="#C0_0_9b8c488678" x="107.97" y="316.64" style="fill: #006400"/>
</g>
<g clip-path="url(#p7f481affdd)">
<use href="#C0_0_9b8c488678" x="96.34" y="320.58" style="fill: #006400"/>
</g>
<g clip-path="url(#p7f481affdd)">
<use href="#C0_0_9b8c488678" x="107.63" y="316.75" style="fill: #006400"/>
</g>
<g clip-path="url(#p7f481affdd)">
<use href="#C0_0_9b8c488678" x="96.59" y="320.49" style="fill: #006400"/>
</g>
<g clip-path="url(#p7f481affdd)">
<use href="#C0_0_9b8c488678" x="107.29" y="316.85" style="fill: #006400"/>
</g>
<g clip-path="url(#p7f481affdd)">
<use href="#C0_0_9b8c488678" x="96.84" y="320.4" style="fill: #006400"/>
</g>
<g clip-path="url(#p7f481affdd)">
<use href="#C0_0_9b8c488678" x="106.96" y="316.96" style="fill: #006400"/>
</g>
<g clip-path="url(#p7f481affdd)">
<use href="#C0_0_9b8c488678" x="97.09" y="320.3" style="fill: #006400"/>
</g>
<g clip-path="url(#p7f481affdd)">
<use href="#C0_0_9b8c488678" x="97.34" y="320.21" style="fill: #006400"/>
</g>
<g clip-path="url(#p7f481affdd)">
<use href="#C0_0_9b8c488678" x="106.63" y="317.06" style="fill: #006400"/>
</g>
<g clip-path="url(#p7f481affdd)">
<use href="#C0_0_9b8c488678" x="97.6" y="320.12" style="fill: #006400"/>
</g>
<g clip-path="url(#p7f481affdd)">
<use href="#C0_0_9b8c488678" x="106.3" y="317.16" style="fill: #006400"/>
</g>
<g clip-path="url(#p7f481affdd)">
<use href="#C0_0_9b8c488678" x="97.86" y="320.02" style="fill: #006400"/>
</g>
<g clip-path="url(#p7f481affdd)">
<use href="#C0_0_9b8c488678" x="105.97" y="317.27" style="fill: #006400"/>
</g>
<g clip-path="url(#p7f481affdd)">
<use href="#C0_0_9b8c488678" x="98.12" y="319.93" style="fill: #006400"/>
</g>
<g clip-path="url(#p7f481affdd)">
<use href="#C0_0_9b8c488678" x="105.65" y="317.37" style="fill: #006400"/>
</g>
<g clip-path="url(#p7f481affdd)">
<use href="#C0_0_9b8c488678" x="98.38" y="319.83" style="fill: #006400"/>
</g>
<g clip-path="url(#p7f481affdd)">
<use href="#C0_0_9b8c488678" x="105.33" y="317.47" style="fill: #006400"/>
</g>
<g clip-path="url(#p7f481affdd)">
<use href="#C0_0_9b8c488678" x="98.64" y="319.74" style="fill: #006400"/>
</g>
<g clip-path="url(#p7f481affdd)">
<use href="#C0_0_9b8c488678" x="105.01" y="317.58" style="fill: #006400"/>
</g>
<g clip-path="url(#p7f481affdd)">
<use href="#C0_0_9b8c488678" x="98.9" y="319.65" style="fill: #006400"/>
</g>
<g clip-path="url(#p7f481affdd)">
<use href="#C0_0_9b8c488678" x="104.69" y="317.68" style="fill: #006400"/>
</g>
<g clip-path="url(#p7f481affdd)">
<use href="#C0_0_9b8c488678" x="99.17" y="319.55" style="fill: #006400"/>
</g>
<g clip-path="url(#p7f481affdd)">
<use href="#C0_0_9b8c488678" x="99.44" y="319.45" style="fill: #006400"/>
</g>
<g clip-path="url(#p7f481affdd)">
<use href="#C0_0_9b8c488678" x="104.38" y="317.78" style="fill: #006400"/>
</g>
<g clip-path="url(#p7f481affdd)">
<use href="#C0_0_9b8c488678" x="99.71" y="319.36" style="fill: #006400"/>
</g>
<g clip-path="url(#p7f481affdd)">
<use href="#C0_0_9b8c488678" x="104.07" y="317.88" style="fill: #006400"/>
</g>
<g clip-path="url(#p7f481affdd)">
<use href="#C0_0_9b8c488678" x="99.99" y="319.26" style="fill: #006400"/>
</g>
<g clip-path="url(#p7f481affdd)">
<use href="#C0_0_9b8c488678" x="103.76" y="317.98" style="fill: #006400"/>
</g>
<g clip-path="url(#p7f481affdd)">
<use href="#C0_0_9b8c488678" x="100.26" y="319.17" style="fill: #006400"/>
</g>
<g clip-path="url(#p7f481affdd)">
<use href="#C0_0_9b8c488678" x="103.46" y="318.08" style="fill: #006400"/>
</g>
<g clip-path="url(#p7f481affdd)">
<use href="#C0_0_9b8c488678" x="100.54" y="319.07" style="fill: #006400"/>
</g>
<g clip-path="url(#p7f481affdd)">
<use href="#C0_0_9b8c488678" x="103.15" y="318.18" style="fill: #006400"/>
</g>
<g clip-path="url(#p7f481affdd)">
<use href="#C0_0_9b8c488678" x="100.82" y="318.97" style="fill: #006400"/>
</g>
<g clip-path="url(#p7f481affdd)">
<use href="#C0_0_9b8c488678" x="102.85" y="318.28" style="fill: #006400"/>
</g>
<g clip-path="url(#p7f481affdd)">
<use href="#C0_0_9b8c488678" x="101.11" y="318.88" style="fill: #006400"/>
</g>
<g clip-path="url(#p7f481affdd)">
<use href="#C0_0_9b8c488678" x="102.56" y="318.38" style="fill: #006400"/>
</g>
<g clip-path="url(#p7f481affdd)">
<use href="#C0_0_9b8c488678" x="101.39" y="318.78" style="fill: #006400"/>
</g>
<g clip-path="url(#p7f481affdd)">
<use href="#C0_0_9b8c488678" x="102.26" y="318.48" style="fill: #006400"/>
</g>
<g clip-path="url(#p7f481affdd)">
<use href="#C0_0_9b8c488678" x="101.68" y="318.68" style="fill: #006400"/>
</g>
<g clip-path="url(#p7f481affdd)">
<use href="#C0_0_9b8c488678" x="101.97" y="318.58" style="fill: #006400"/>
</g>
</g>
<g id="line2d_60">
<path d="M 64.64 340.02
L 64.7 341.32
" clip-path="url(#p7f481affdd)" style="fill: none; stroke: #808080; stroke-opacity: 0.3; stroke-width: 0.8; stroke-linecap: round"/>
</g>
<g id="line2d_61">
<path d="M 91.31 319.51
L 93.5 369.86
" clip-path="url(#p7f481affdd)" style="fill: none; stroke: #808080; stroke-opacity: 0.3; stroke-width: 0.8; stroke-linecap: round"/>
</g>
<g id="line2d_62">
<path d="M 128.24 305.85
L 130.99 379.09
" clip-path="url(#p7f481affdd)" style="fill: none; stroke: #808080; stroke-opacity: 0.3; stroke-width: 0.8; stroke-linecap: round"/>
</g>
<g id="line2d_63">
<path d="M 161.2 295.41
L 164.04 383.74
" clip-path="url(#p7f481affdd)" style="fill: none; stroke: #808080; stroke-opacity: 0.3; stroke-width: 0.8; stroke-linecap: round"/>
</g>
<g id="line2d_64">
<path d="M 190.75 286.87
L 193.48 386.23
" clip-path="url(#p7f481affdd)" style="fill: none; stroke: #808080; stroke-opacity: 0.3; stroke-width: 0.8; stroke-linecap: round"/>
</g>
<g id="line2d_65">
<path d="M 217.54 279.65
L 220.04 387.45
" clip-path="url(#p7f481affdd)" style="fill: none; stroke: #808080; stroke-opacity: 0.3; stroke-width: 0.8; stroke-linecap: round"/>
</g>
<g id="line2d_66">
<path d="M 242.03 273.42
L 244.23 387.82
" clip-path="url(#p7f481affdd)" style="fill: none; stroke: #808080; stroke-opacity: 0.3; stroke-width: 0.8; stroke-linecap: round"/>
</g>
<g id="line2d_67">
<path d="M 264.55 267.98
L 266.42 387.58
" clip-path="url(#p7f481affdd)" style="fill: none; stroke: #808080; stroke-opacity: 0.3; stroke-width: 0.8; stroke-linecap: round"/>
</g>
<g id="line2d_68">
<path d="M 285.34 263.2
L 286.87 386.87
" clip-path="url(#p7f481affdd)" style="fill: none; stroke: #808080; stroke-opacity: 0.3; stroke-width: 0.8; stroke-linecap: round"/>
</g>
<g id="line2d_69">
<path d="M 304.6 258.98
L 305.78 385.81
" clip-path="url(#p7f481affdd)" style="fill: none; stroke: #808080; stroke-opacity: 0.3; stroke-width: 0.8; stroke-linecap: round"/>
</g>
<g id="line2d_70">
<path d="M 322.46 255.24
L 323.3 384.45
" clip-path="url(#p7f481affdd)" style="fill: none; stroke: #808080; stroke-opacity: 0.3; stroke-width: 0.8; stroke-linecap: round"/>
</g>
<g id="line2d_71">
<path d="M 339.05 251.95
L 339.55 382.85
" clip-path="url(#p7f481affdd)" style="fill: none; stroke: #808080; stroke-opacity: 0.3; stroke-width: 0.8; stroke-linecap: round"/>
</g>
<g id="line2d_72">
<path d="M 354.45 249.04
L 354.64 381.06
" clip-path="url(#p7f481affdd)" style="fill: none; stroke: #808080; stroke-opacity: 0.3; stroke-width: 0.8; stroke-linecap: round"/>
</g>
<g id="line2d_73">
<path d="M 368.75 246.5
L 368.64 379.09
" clip-path="url(#p7f481affdd)" style="fill: none; stroke: #808080; stroke-opacity: 0.3; stroke-width: 0.8; stroke-linecap: round"/>
</g>
<g id="line2d_74">
<path d="M 382.01 244.29
L 381.61 376.97
" clip-path="url(#p7f481affdd)" style="fill: none; stroke: #808080; stroke-opacity: 0.3; stroke-width: 0.8; stroke-linecap: round"/>
</g>
<g id="line2d_75">
<path d="M 394.27 242.38
L 393.62 374.73
" clip-path="url(#p7f481affdd)" style="fill: none; stroke: #808080; stroke-opacity: 0.3; stroke-width: 0.8; stroke-linecap: round"/>
</g>
<g id="line2d_76">
<path d="M 405.58 240.76
L 404.7 372.38
" clip-path="url(#p7f481affdd)" style="fill: none; stroke: #808080; stroke-opacity: 0.3; stroke-width: 0.8; stroke-linecap: round"/>
</g>
<g id="line2d_77">
<path d="M 415.98 239.42
L 414.89 369.93
" clip-path="url(#p7f481affdd)" style="fill: none; stroke: #808080; stroke-opacity: 0.3; stroke-width: 0.8; stroke-linecap: round"/>
</g>
<g id="line2d_78">
<path d="M 425.49 238.34
L 424.22 367.4
" clip-path="url(#p7f481affdd)" style="fill: none; stroke: #808080; stroke-opacity: 0.3; stroke-width: 0.8; stroke-linecap: round"/>
</g>
<g id="line2d_79">
<path d="M 434.13 237.51
L 432.71 364.78
" clip-path="url(#p7f481affdd)" style="fill: none; stroke: #808080; stroke-opacity: 0.3; stroke-width: 0.8; stroke-linecap: round"/>
</g>
<g id="line2d_80">
<path d="M 441.93 236.92
L 440.38 362.11
" clip-path="url(#p7f481affdd)" style="fill: none; stroke: #808080; stroke-opacity: 0.3; stroke-width: 0.8; stroke-linecap: round"/>
</g>
<g id="line2d_81">
<path d="M 448.9 236.56
L 447.24 359.37
" clip-path="url(#p7f481affdd)" style="fill: none; stroke: #808080; stroke-opacity: 0.3; stroke-width: 0.8; stroke-linecap: round"/>
</g>
<g id="line2d_82">
<path d="M 455.05 236.43
L 453.31 356.57
" clip-path="url(#p7f481affdd)" style="fill: none; stroke: #808080; stroke-opacity: 0.3; stroke-width: 0.8; stroke-linecap: round"/>
</g>
<g id="line2d_83">
<path d="M 460.38 236.52
L 458.58 353.74
" clip-path="url(#p7f481affdd)" style="fill: none; stroke: #808080; stroke-opacity: 0.3; stroke-width: 0.8; stroke-linecap: round"/>
</g>
<g id="line2d_84">
<path d="M 464.89 236.84
L 463.06 350.86
" clip-path="url(#p7f481affdd)" style="fill: none; stroke: #808080; stroke-opacity: 0.3; stroke-width: 0.8; stroke-linecap: round"/>
</g>
<g id="line2d_85">
<path d="M 468.58 237.37
L 466.75 347.94
" clip-path="url(#p7f481affdd)" style="fill: none; stroke: #808080; stroke-opacity: 0.3; stroke-width: 0.8; stroke-linecap: round"/>
</g>
<g id="line2d_86">
<path d="M 471.46 238.12
L 469.63 345
" clip-path="url(#p7f481affdd)" style="fill: none; stroke: #808080; stroke-opacity: 0.3; stroke-width: 0.8; stroke-linecap: round"/>
</g>
<g id="line2d_87">
<path d="M 473.49 239.08
L 471.7 342.03
" clip-path="url(#p7f481affdd)" style="fill: none; stroke: #808080; stroke-opacity: 0.3; stroke-width: 0.8; stroke-linecap: round"/>
</g>
<g id="line2d_88">
<path d="M 474.68 240.26
L 472.95 339.04
" clip-path="url(#p7f481affdd)" style="fill: none; stroke: #808080; stroke-opacity: 0.3; stroke-width: 0.8; stroke-linecap: round"/>
</g>
<g id="line2d_89">
<path d="M 475.01 241.66
L 473.34 336.03
" clip-path="url(#p7f481affdd)" style="fill: none; stroke: #808080; stroke-opacity: 0.3; stroke-width: 0.8; stroke-linecap: round"/>
</g>
<g id="line2d_90">
<path d="M 474.45 243.27
L 472.87 333.02
" clip-path="url(#p7f481affdd)" style="fill: none; stroke: #808080; stroke-opacity: 0.3; stroke-width: 0.8; stroke-linecap: round"/>
</g>
<g id="line2d_91">
<path d="M 472.97 245.11
L 471.5 330.01
" clip-path="url(#p7f481affdd)" style="fill: none; stroke: #808080; stroke-opacity: 0.3; stroke-width: 0.8; stroke-linecap: round"/>
</g>
<g id="line2d_92">
<path d="M 470.55 247.18
L 469.19 327
" clip-path="url(#p7f481affdd)" style="fill: none; stroke: #808080; stroke-opacity: 0.3; stroke-width: 0.8; stroke-linecap: round"/>
</g>
<g id="line2d_93">
<path d="M 467.13 249.49
L 465.91 324.01
" clip-path="url(#p7f481affdd)" style="fill: none; stroke: #808080; stroke-opacity: 0.3; stroke-width: 0.8; stroke-linecap: round"/>
</g>
<g id="line2d_94">
<path d="M 462.68 252.03
L 461.6 321.03
" clip-path="url(#p7f481affdd)" style="fill: none; stroke: #808080; stroke-opacity: 0.3; stroke-width: 0.8; stroke-linecap: round"/>
</g>
<g id="line2d_95">
<path d="M 457.14 254.83
L 456.2 318.09
" clip-path="url(#p7f481affdd)" style="fill: none; stroke: #808080; stroke-opacity: 0.3; stroke-width: 0.8; stroke-linecap: round"/>
</g>
<g id="line2d_96">
<path d="M 450.44 257.89
L 449.65 315.18
" clip-path="url(#p7f481affdd)" style="fill: none; stroke: #808080; stroke-opacity: 0.3; stroke-width: 0.8; stroke-linecap: round"/>
</g>
<g id="line2d_97">
<path d="M 442.49 261.22
L 441.85 312.34
" clip-path="url(#p7f481affdd)" style="fill: none; stroke: #808080; stroke-opacity: 0.3; stroke-width: 0.8; stroke-linecap: round"/>
</g>
<g id="line2d_98">
<path d="M 433.2 264.84
L 432.71 309.57
" clip-path="url(#p7f481affdd)" style="fill: none; stroke: #808080; stroke-opacity: 0.3; stroke-width: 0.8; stroke-linecap: round"/>
</g>
<g id="line2d_99">
<path d="M 422.46 268.78
L 422.1 306.89
" clip-path="url(#p7f481affdd)" style="fill: none; stroke: #808080; stroke-opacity: 0.3; stroke-width: 0.8; stroke-linecap: round"/>
</g>
<g id="line2d_100">
<path d="M 410.1 273.04
L 409.87 304.33
" clip-path="url(#p7f481affdd)" style="fill: none; stroke: #808080; stroke-opacity: 0.3; stroke-width: 0.8; stroke-linecap: round"/>
</g>
<g id="line2d_101">
<path d="M 395.95 277.67
L 395.83 301.93
" clip-path="url(#p7f481affdd)" style="fill: none; stroke: #808080; stroke-opacity: 0.3; stroke-width: 0.8; stroke-linecap: round"/>
</g>
<g id="line2d_102">
<path d="M 379.78 282.7
L 379.73 299.73
" clip-path="url(#p7f481affdd)" style="fill: none; stroke: #808080; stroke-opacity: 0.3; stroke-width: 0.8; stroke-linecap: round"/>
</g>
<g id="line2d_103">
<path d="M 361.26 288.17
L 361.26 297.8
" clip-path="url(#p7f481affdd)" style="fill: none; stroke: #808080; stroke-opacity: 0.3; stroke-width: 0.8; stroke-linecap: round"/>
</g>
<g id="line2d_104">
<path d="M 339.98 294.14
L 339.99 296.24
" clip-path="url(#p7f481affdd)" style="fill: none; stroke: #808080; stroke-opacity: 0.3; stroke-width: 0.8; stroke-linecap: round"/>
</g>
<g id="line2d_105">
<path d="M 315.35 300.68
L 315.3 295.18
" clip-path="url(#p7f481affdd)" style="fill: none; stroke: #808080; stroke-opacity: 0.3; stroke-width: 0.8; stroke-linecap: round"/>
</g>
<g id="line2d_106">
<path d="M 286.45 307.92
L 286.29 294.86
" clip-path="url(#p7f481affdd)" style="fill: none; stroke: #808080; stroke-opacity: 0.3; stroke-width: 0.8; stroke-linecap: round"/>
</g>
<g id="line2d_107">
<path d="M 251.81 316
L 251.45 295.73
" clip-path="url(#p7f481affdd)" style="fill: none; stroke: #808080; stroke-opacity: 0.3; stroke-width: 0.8; stroke-linecap: round"/>
</g>
<g id="line2d_108">
<path d="M 208.62 325.16
L 207.97 298.72
" clip-path="url(#p7f481affdd)" style="fill: none; stroke: #808080; stroke-opacity: 0.3; stroke-width: 0.8; stroke-linecap: round"/>
</g>
<g id="line2d_109">
<path d="M 150.02 335.67
L 149.04 306.8
" clip-path="url(#p7f481affdd)" style="fill: none; stroke: #808080; stroke-opacity: 0.3; stroke-width: 0.8; stroke-linecap: round"/>
</g>
<g id="Path3DCollection_2">
<defs>
<path id="m0f2822a84a" d="M 0 0.61
C 0.16 0.61 0.32 0.55 0.43 0.43
C 0.55 0.32 0.61 0.16 0.61 0
C 0.61 -0.16 0.55 -0.32 0.43 -0.43
C 0.32 -0.55 0.16 -0.61 0 -0.61
C -0.16 -0.61 -0.32 -0.55 -0.43 -0.43
C -0.55 -0.32 -0.61 -0.16 -0.61 0
C -0.61 0.16 -0.55 0.32 -0.43 0.43
C -0.32 0.55 -0.16 0.61 0 0.61
z
"/>
</defs>
<g clip-path="url(#p7f481affdd)">
<use href="#m0f2822a84a" x="455.05" y="236.43" style="fill: #808080; fill-opacity: 0.5"/>
<use href="#m0f2822a84a" x="460.38" y="236.52" style="fill: #808080; fill-opacity: 0.5"/>
<use href="#m0f2822a84a" x="448.9" y="236.56" style="fill: #808080; fill-opacity: 0.5"/>
<use href="#m0f2822a84a" x="464.89" y="236.84" style="fill: #808080; fill-opacity: 0.5"/>
<use href="#m0f2822a84a" x="441.93" y="236.92" style="fill: #808080; fill-opacity: 0.5"/>
<use href="#m0f2822a84a" x="468.58" y="237.37" style="fill: #808080; fill-opacity: 0.5"/>
<use href="#m0f2822a84a" x="434.13" y="237.51" style="fill: #808080; fill-opacity: 0.5"/>
<use href="#m0f2822a84a" x="471.46" y="238.12" style="fill: #808080; fill-opacity: 0.5"/>
<use href="#m0f2822a84a" x="425.49" y="238.34" style="fill: #808080; fill-opacity: 0.5"/>
<use href="#m0f2822a84a" x="473.49" y="239.08" style="fill: #808080; fill-opacity: 0.5"/>
<use href="#m0f2822a84a" x="415.98" y="239.42" style="fill: #808080; fill-opacity: 0.5"/>
<use href="#m0f2822a84a" x="474.68" y="240.26" style="fill: #808080; fill-opacity: 0.5"/>
<use href="#m0f2822a84a" x="405.58" y="240.76" style="fill: #808080; fill-opacity: 0.5"/>
<use href="#m0f2822a84a" x="475.01" y="241.66" style="fill: #808080; fill-opacity: 0.5"/>
<use href="#m0f2822a84a" x="394.27" y="242.38" style="fill: #808080; fill-opacity: 0.5"/>
<use href="#m0f2822a84a" x="474.45" y="243.27" style="fill: #808080; fill-opacity: 0.5"/>
<use href="#m0f2822a84a" x="382.01" y="244.29" style="fill: #808080; fill-opacity: 0.5"/>
<use href="#m0f2822a84a" x="472.97" y="245.11" style="fill: #808080; fill-opacity: 0.5"/>
<use href="#m0f2822a84a" x="368.75" y="246.5" style="fill: #808080; fill-opacity: 0.5"/>
<use href="#m0f2822a84a" x="470.55" y="247.18" style="fill: #808080; fill-opacity: 0.5"/>
<use href="#m0f2822a84a" x="354.45" y="249.04" style="fill: #808080; fill-opacity: 0.5"/>
<use href="#m0f2822a84a" x="467.13" y="249.49" style="fill: #808080; fill-opacity: 0.5"/>
<use href="#m0f2822a84a" x="339.05" y="251.95" style="fill: #808080; fill-opacity: 0.5"/>
<use href="#m0f2822a84a" x="462.68" y="252.03" style="fill: #808080; fill-opacity: 0.5"/>
<use href="#m0f2822a84a" x="457.14" y="254.83" style="fill: #808080; fill-opacity: 0.5"/>
<use href="#m0f2822a84a" x="322.46" y="255.24" style="fill: #808080; fill-opacity: 0.5"/>
<use href="#m0f2822a84a" x="450.44" y="257.89" style="fill: #808080; fill-opacity: 0.5"/>
<use href="#m0f2822a84a" x="304.6" y="258.98" style="fill: #808080; fill-opacity: 0.5"/>
<use href="#m0f2822a84a" x="442.49" y="261.22" style="fill: #808080; fill-opacity: 0.5"/>
<use href="#m0f2822a84a" x="285.34" y="263.2" style="fill: #808080; fill-opacity: 0.5"/>
<use href="#m0f2822a84a" x="433.2" y="264.84" style="fill: #808080; fill-opacity: 0.5"/>
<use href="#m0f2822a84a" x="264.55" y="267.98" style="fill: #808080; fill-opacity: 0.5"/>
<use href="#m0f2822a84a" x="422.46" y="268.78" style="fill: #808080; fill-opacity: 0.5"/>
<use href="#m0f2822a84a" x="410.1" y="273.04" style="fill: #808080; fill-opacity: 0.5"/>
<use href="#m0f2822a84a" x="242.03" y="273.42" style="fill: #808080; fill-opacity: 0.5"/>
<use href="#m0f2822a84a" x="395.95" y="277.67" style="fill: #808080; fill-opacity: 0.5"/>
<use href="#m0f2822a84a" x="217.54" y="279.65" style="fill: #808080; fill-opacity: 0.5"/>
<use href="#m0f2822a84a" x="379.78" y="282.7" style="fill: #808080; fill-opacity: 0.5"/>
<use href="#m0f2822a84a" x="190.75" y="286.87" style="fill: #808080; fill-opacity: 0.5"/>
<use href="#m0f2822a84a" x="361.26" y="288.17" style="fill: #808080; fill-opacity: 0.5"/>
<use href="#m0f2822a84a" x="339.98" y="294.14" style="fill: #808080; fill-opacity: 0.5"/>
<use href="#m0f2822a84a" x="161.2" y="295.41" style="fill: #808080; fill-opacity: 0.5"/>
<use href="#m0f2822a84a" x="315.35" y="300.68" style="fill: #808080; fill-opacity: 0.5"/>
<use href="#m0f2822a84a" x="128.24" y="305.85" style="fill: #808080; fill-opacity: 0.5"/>
<use href="#m0f2822a84a" x="286.45" y="307.92" style="fill: #808080; fill-opacity: 0.5"/>
<use href="#m0f2822a84a" x="251.81" y="316" style="fill: #808080; fill-opacity: 0.5"/>
<use href="#m0f2822a84a" x="91.31" y="319.51" style="fill: #808080; fill-opacity: 0.5"/>
<use href="#m0f2822a84a" x="208.62" y="325.16" style="fill: #808080; fill-opacity: 0.5"/>
<use href="#m0f2822a84a" x="150.02" y="335.67" style="fill: #808080; fill-opacity: 0.5"/>
<use href="#m0f2822a84a" x="64.64" y="340.02" style="fill: #808080; fill-opacity: 0.5"/>
</g>
</g>
<g id="line2d_110">
<path d="M 111.42 339.83
L 112.18 338.61
L 112.68 337.37
L 112.91 336.22
L 112.92 335.07
L 112.7 333.93
L 112.27 332.82
L 111.62 331.74
L 110.67 330.61
L 109.49 329.55
L 107.95 328.48
L 106.17 327.51
L 104.01 326.6
L 101.62 325.83
L 98.86 325.18
L 95.92 324.72
L 92.87 324.45
L 89.53 324.4
L 86.18 324.57
L 82.88 324.97
L 79.7 325.59
L 76.87 326.36
L 74.24 327.3
L 71.85 328.4
L 69.88 329.55
L 68.2 330.8
L 66.9 332.03
L 65.95 333.22
L 65.25 334.45
L 64.83 335.59
L 64.64 336.74
L 64.66 337.89
L 64.91 339.03
L 65.38 340.14
L 66.07 341.21
L 67.06 342.34
L 68.28 343.4
L 69.87 344.46
L 71.7 345.42
L 73.92 346.32
L 76.37 347.07
L 79.19 347.7
L 82.19 348.13
L 85.3 348.35
L 88.47 348.38
L 91.85 348.17
L 95.17 347.73
L 98.18 347.12
L 101.01 346.32
L 103.64 345.35
L 105.86 344.3
L 107.82 343.14
L 109.39 341.97
L 110.69 340.73
L 111.42 339.83
L 111.42 339.83
" clip-path="url(#p7f481affdd)" style="fill: none; stroke: #1f77b4; stroke-opacity: 0.8; stroke-width: 1.5; stroke-linecap: round"/>
</g>
<g id="line2d_111">
<path d="M 60.9 346.88
L 62.72 348.11
L 64.98 349.35
L 67.5 350.46
L 70.25 351.44
L 73.48 352.33
L 76.92 353.04
L 80.52 353.55
L 84.26 353.85
L 88.09 353.96
L 91.96 353.86
L 96.15 353.51
L 100.28 352.93
L 104.01 352.2
L 107.6 351.27
L 111.01 350.18
L 114.21 348.92
L 117.17 347.51
L 119.63 346.1
L 121.83 344.59
L 123.76 343
L 125.25 341.49
L 126.49 339.94
L 127.47 338.36
L 128.11 336.91
L 128.54 335.46
L 128.73 334.01
L 128.7 332.57
L 128.45 331.15
L 127.97 329.75
L 127.27 328.39
L 126.36 327.08
L 125.1 325.68
L 123.59 324.35
L 121.84 323.11
L 119.67 321.86
L 117.24 320.73
L 114.59 319.73
L 111.46 318.81
L 108.12 318.07
L 104.62 317.51
L 100.97 317.15
L 96.92 316.98
L 92.81 317.04
L 88.69 317.34
L 84.61 317.87
L 80.62 318.62
L 76.77 319.58
L 73.4 320.65
L 70.22 321.87
L 67.27 323.25
L 64.59 324.76
L 62.39 326.25
L 60.47 327.82
L 58.96 329.31
L 57.71 330.85
L 56.71 332.42
L 56.04 333.86
L 55.6 335.31
L 55.37 336.76
L 55.38 338.2
L 55.61 339.63
L 56.07 341.04
L 56.74 342.4
L 57.64 343.73
L 58.89 345.15
L 60.4 346.49
L 60.9 346.88
L 60.9 346.88
" clip-path="url(#p7f481affdd)" style="fill: none; stroke: #c1440e; stroke-opacity: 0.8; stroke-width: 1.5; stroke-linecap: round"/>
</g>
<g id="line2d_112">
<path d="M 49.22 397.14
L 55.65 397.95
L 62.19 398.58
L 69.92 399.08
L 77.74 399.33
L 85.61 399.32
L 93.5 399.06
L 101.38 398.55
L 109.22 397.79
L 116.98 396.78
L 124.63 395.53
L 132.15 394.05
L 138.46 392.59
L 144.63 390.96
L 150.64 389.18
L 156.47 387.24
L 162.11 385.16
L 167.53 382.93
L 172.74 380.57
L 177.7 378.09
L 182.41 375.48
L 186.85 372.76
L 191.02 369.94
L 194.89 367.03
L 198.47 364.03
L 201.74 360.95
L 204.22 358.33
L 206.48 355.68
L 208.52 352.98
L 210.32 350.26
L 211.89 347.5
L 213.22 344.73
L 214.32 341.95
L 215.18 339.15
L 215.8 336.35
L 216.18 333.56
L 216.32 330.77
L 216.23 327.99
L 215.89 325.23
L 215.33 322.49
L 214.52 319.78
L 213.49 317.1
L 212.23 314.46
L 210.74 311.87
L 209.04 309.32
L 207.11 306.82
L 204.97 304.37
L 202.62 301.99
L 200.07 299.67
L 196.75 296.98
L 193.15 294.39
L 189.29 291.91
L 185.17 289.55
L 180.81 287.31
L 176.21 285.2
L 171.4 283.23
L 166.38 281.39
L 161.17 279.69
L 155.79 278.14
L 149.29 276.52
L 142.6 275.11
L 135.72 273.92
L 128.7 272.94
L 121.54 272.18
L 114.28 271.64
L 106.93 271.32
L 99.53 271.24
L 92.1 271.37
L 84.67 271.73
L 77.26 272.32
L 69.89 273.12
L 62.59 274.15
L 55.39 275.39
L 48.31 276.84
L 41.38 278.5
L 34.61 280.37
L 28.04 282.43
L 21.69 284.68
L 15.57 287.11
L 10.54 289.33
L 5.71 291.68
L 1.1 294.14
L -1 295.35
M -1 382.28
L 2.9 384.17
L 7.81 386.32
L 12.97 388.33
L 18.35 390.18
L 23.95 391.87
L 29.75 393.41
L 35.73 394.77
L 41.87 395.97
L 48.16 396.99
L 49.22 397.14
L 49.22 397.14
" clip-path="url(#p7f481affdd)" style="fill: none; stroke: #a0522d; stroke-opacity: 0.8; stroke-width: 1.5; stroke-linecap: round"/>
</g>
<g id="line2d_113">
<path d="M 281.32 389.97
L 285.15 385.99
L 288.7 381.95
L 291.98 377.87
L 294.98 373.74
L 297.7 369.58
L 300.14 365.39
L 302.3 361.18
L 304.17 356.95
L 305.76 352.7
L 307.07 348.45
L 308.08 344.19
L 308.82 339.94
L 309.27 335.69
L 309.44 331.46
L 309.32 327.24
L 308.93 323.05
L 308.25 318.89
L 307.31 314.76
L 306.08 310.66
L 304.59 306.61
L 302.84 302.61
L 300.82 298.66
L 298.54 294.76
L 296 290.92
L 293.22 287.15
L 290.19 283.44
L 286.91 279.81
L 283.4 276.25
L 279.66 272.77
L 275.69 269.37
L 271.5 266.06
L 267.1 262.84
L 262.48 259.71
L 257.66 256.68
L 252.65 253.74
L 247.44 250.91
L 240.67 247.51
L 233.63 244.28
L 226.33 241.23
L 218.77 238.34
L 210.98 235.64
L 202.97 233.13
L 194.75 230.8
L 186.34 228.66
L 177.75 226.71
L 168.99 224.96
L 160.08 223.41
L 151.04 222.06
L 141.87 220.92
L 132.61 219.97
L 123.25 219.24
L 113.81 218.7
L 104.32 218.38
L 94.78 218.26
L 85.21 218.35
L 75.63 218.65
L 66.05 219.15
L 56.49 219.86
L 46.95 220.78
L 37.47 221.9
L 28.05 223.22
L 18.71 224.74
L 9.46 226.47
L 0.32 228.38
L -1 228.68
M -1 456.81
L 7.6 458
L 17.85 459.18
L 28.23 460.1
L 38.72 460.76
L 49.29 461.17
L 59.93 461.32
L 70.6 461.22
L 81.29 460.85
L 91.96 460.23
L 102.6 459.35
L 113.19 458.22
L 123.69 456.84
L 134.09 455.22
L 144.36 453.35
L 154.48 451.24
L 164.44 448.9
L 174.19 446.34
L 183.74 443.55
L 193.05 440.55
L 202.11 437.34
L 209.16 434.64
L 216.03 431.81
L 222.7 428.86
L 229.18 425.79
L 235.44 422.62
L 241.5 419.34
L 247.32 415.97
L 252.92 412.5
L 258.28 408.94
L 263.4 405.29
L 268.26 401.57
L 272.88 397.77
L 277.23 393.9
L 281.32 389.97
L 281.32 389.97
" clip-path="url(#p7f481affdd)" style="fill: none; stroke: #c2a57a; stroke-opacity: 0.8; stroke-width: 1.5; stroke-linecap: round"/>
</g>
<g id="line2d_114">
<path d="M 367.31 173.2
L 355.52 169.01
L 343.46 165.02
L 331.15 161.26
L 318.61 157.71
L 305.84 154.38
L 292.86 151.27
L 279.67 148.38
L 266.3 145.72
L 252.76 143.29
L 239.05 141.08
L 225.19 139.1
L 211.2 137.35
L 197.08 135.83
L 182.85 134.54
L 168.52 133.48
L 154.1 132.66
L 139.61 132.06
L 125.05 131.7
L 110.44 131.57
L 95.8 131.68
L 81.13 132.01
L 66.45 132.58
L 51.77 133.38
L 37.1 134.42
L 22.45 135.68
L 7.84 137.17
L -1 138.19
M -1 609.07
L 10.45 609.42
L 24.15 609.63
L 37.88 609.64
L 51.65 609.44
L 65.43 609.04
L 79.21 608.44
L 92.98 607.63
L 106.72 606.62
L 120.43 605.4
L 134.09 603.99
L 147.69 602.38
L 161.21 600.57
L 174.65 598.57
L 187.99 596.37
L 201.21 593.99
L 214.31 591.41
L 227.27 588.66
L 240.09 585.72
L 252.75 582.61
L 265.24 579.32
L 277.55 575.86
L 289.67 572.24
L 301.58 568.45
L 313.29 564.51
L 324.78 560.41
L 336.03 556.16
L 347.05 551.77
L 357.82 547.24
L 368.34 542.57
L 378.59 537.78
L 388.58 532.85
L 398.28 527.81
L 407.71 522.66
L 416.84 517.39
L 425.68 512.02
L 434.22 506.55
L 442.44 500.98
L 450.36 495.33
L 457.97 489.6
L 465.25 483.78
L 472.21 477.9
L 478.85 471.94
L 485.15 465.93
L 491.13 459.86
L 496.77 453.74
L 502.07 447.57
L 507.04 441.37
L 511.67 435.12
L 515.97 428.85
L 519.92 422.55
L 523.54 416.24
L 526.81 409.91
L 529.75 403.56
L 532.35 397.22
L 534.61 390.87
L 536.54 384.53
L 538.13 378.19
L 539.39 371.87
L 540.32 365.57
L 540.92 359.29
L 541.2 353.03
L 541.15 346.81
L 540.79 340.62
L 540.11 334.46
L 539.11 328.35
L 537.81 322.29
L 536.19 316.28
L 534.28 310.32
L 532.06 304.41
L 529.55 298.57
L 526.75 292.79
L 523.66 287.07
L 520.3 281.43
L 516.65 275.86
L 512.73 270.36
L 508.54 264.94
L 504.08 259.6
L 499.37 254.35
L 494.4 249.18
L 489.19 244.1
L 483.72 239.11
L 478.02 234.21
L 472.09 229.41
L 465.92 224.71
L 459.54 220.1
L 452.93 215.6
L 446.11 211.2
L 439.08 206.9
L 431.85 202.71
L 424.42 198.63
L 416.79 194.66
L 408.98 190.8
L 400.99 187.05
L 392.82 183.41
L 384.48 179.89
L 375.98 176.49
L 367.31 173.2
L 367.31 173.2
" clip-path="url(#p7f481affdd)" style="fill: none; stroke: #add8e6; stroke-opacity: 0.8; stroke-width: 1.5; stroke-linecap: round"/>
</g>
<g id="line2d_115">
<path d="M 129.57 348.45
L 127.09 350.24
L 124.32 351.93
L 121.28 353.49
L 117.98 354.93
L 114.46 356.23
L 110.74 357.38
L 106.85 358.37
L 102.82 359.19
L 98.68 359.83
L 94.47 360.29
L 90.21 360.57
L 85.95 360.67
L 81.71 360.57
L 77.53 360.29
L 73.44 359.83
L 69.47 359.19
L 65.66 358.37
L 62.03 357.38
L 58.62 356.23
L 55.44 354.93
L 52.52 353.49
L 49.89 351.93
L 47.57 350.24
L 45.94 348.82
L 44.53 347.34
L 43.33 345.8
L 42.37 344.22
L 41.63 342.61
L 41.12 340.97
L 40.85 339.31
L 40.82 337.64
L 41.02 335.96
L 41.46 334.29
L 42.13 332.63
L 43.02 330.99
L 44.14 329.39
L 45.48 327.81
L 47.02 326.28
L 49.23 324.45
L 51.75 322.7
L 54.54 321.06
L 57.58 319.54
L 60.86 318.15
L 64.36 316.9
L 68.03 315.8
L 71.86 314.85
L 75.81 314.07
L 80.69 313.35
L 85.65 312.88
L 90.65 312.66
L 95.63 312.71
L 100.55 313.01
L 105.34 313.56
L 109.2 314.21
L 112.92 315.03
L 116.46 316.01
L 119.8 317.14
L 122.91 318.42
L 125.77 319.84
L 128.36 321.38
L 130.65 323.04
L 132.64 324.81
L 133.99 326.28
L 135.13 327.81
L 136.05 329.39
L 136.74 330.99
L 137.2 332.63
L 137.43 334.29
L 137.42 335.96
L 137.18 337.64
L 136.71 339.31
L 136 340.97
L 135.06 342.61
L 133.89 344.22
L 132.51 345.8
L 130.91 347.34
L 129.57 348.45
L 129.57 348.45
" clip-path="url(#p7f481affdd)" style="fill: none; stroke-dasharray: 2.775,1.2; stroke-dashoffset: 0; stroke: #4040d0; stroke-opacity: 0.75; stroke-width: 0.75"/>
</g>
<g id="line2d_116">
<path d="M 170.44 360.67
L 167.57 362.86
L 164.47 364.99
L 161.16 367.04
L 157.64 369.01
L 153.92 370.9
L 148.67 373.26
L 143.12 375.45
L 137.29 377.45
L 131.21 379.24
L 124.91 380.83
L 118.42 382.2
L 111.78 383.34
L 105.02 384.24
L 98.17 384.91
L 91.28 385.34
L 84.38 385.52
L 77.49 385.46
L 70.67 385.16
L 63.95 384.61
L 57.35 383.82
L 50.91 382.79
L 44.68 381.54
L 38.67 380.06
L 32.93 378.37
L 27.47 376.47
L 22.33 374.38
L 18.7 372.69
L 15.27 370.9
L 12.05 369.01
L 9.05 367.04
L 6.28 364.99
L 3.75 362.86
L 1.45 360.67
L -0.59 358.41
L -1 357.91
M -1 322.98
L 0.73 320.87
L 2.89 318.55
L 5.28 316.29
L 7.9 314.08
L 10.72 311.94
L 13.76 309.88
L 16.99 307.88
L 21.59 305.35
L 26.51 302.98
L 31.71 300.77
L 37.18 298.73
L 42.89 296.88
L 48.8 295.22
L 54.9 293.76
L 61.16 292.51
L 67.54 291.46
L 74.02 290.63
L 80.57 290.02
L 87.15 289.63
L 93.74 289.47
L 100.31 289.52
L 106.83 289.8
L 113.27 290.3
L 119.59 291.02
L 125.78 291.96
L 131.8 293.11
L 137.62 294.47
L 143.22 296.03
L 148.56 297.79
L 153.64 299.73
L 158.42 301.85
L 162.87 304.15
L 165.99 305.97
L 168.9 307.88
L 171.6 309.88
L 174.09 311.94
L 176.35 314.08
L 178.38 316.29
L 180.17 318.55
L 181.72 320.87
L 183.02 323.23
L 184.07 325.64
L 184.86 328.08
L 185.39 330.55
L 185.66 333.04
L 185.66 335.54
L 185.4 338.06
L 184.87 340.57
L 184.09 343.08
L 183.03 345.58
L 181.72 348.06
L 180.15 350.51
L 178.32 352.93
L 176.24 355.31
L 173.92 357.64
L 171.35 359.92
L 170.44 360.67
L 170.44 360.67
" clip-path="url(#p7f481affdd)" style="fill: none; stroke-dasharray: 2.775,1.2; stroke-dashoffset: 0; stroke: #4040d0; stroke-opacity: 0.75; stroke-width: 0.75"/>
</g>
<g id="line2d_117">
<path d="M 211.8 373.03
L 207.53 376.36
L 202.91 379.59
L 197.96 382.72
L 192.69 385.72
L 187.11 388.59
L 181.25 391.32
L 175.11 393.9
L 168.71 396.33
L 162.07 398.6
L 155.22 400.69
L 148.16 402.6
L 140.93 404.33
L 133.54 405.87
L 126.01 407.22
L 118.37 408.36
L 110.64 409.31
L 102.84 410.04
L 95 410.57
L 87.13 410.89
L 79.28 411
L 71.45 410.89
L 63.67 410.57
L 55.97 410.04
L 48.37 409.31
L 40.88 408.36
L 33.55 407.22
L 26.38 405.87
L 19.39 404.33
L 12.62 402.6
L 6.07 400.69
L -0.23 398.6
L -1 398.32
M -1 285.35
L 3.72 283.42
L 9.81 281.15
L 16.11 279.02
L 22.58 277.06
L 29.22 275.26
L 36 273.62
L 42.92 272.15
L 49.95 270.85
L 57.08 269.73
L 64.28 268.79
L 71.54 268.02
L 78.85 267.44
L 86.18 267.04
L 93.51 266.83
L 100.83 266.8
L 108.12 266.95
L 115.37 267.29
L 122.54 267.81
L 129.64 268.51
L 136.63 269.4
L 143.5 270.46
L 150.24 271.7
L 156.82 273.11
L 163.23 274.69
L 169.46 276.44
L 175.48 278.35
L 181.28 280.42
L 186.86 282.65
L 192.18 285.02
L 197.24 287.53
L 202.02 290.19
L 206.52 292.97
L 210.71 295.88
L 214.58 298.91
L 218.13 302.05
L 221.35 305.28
L 224.21 308.62
L 225.93 310.89
L 227.48 313.2
L 228.87 315.54
L 230.09 317.91
L 231.15 320.31
L 232.03 322.73
L 232.75 325.17
L 233.29 327.64
L 233.66 330.12
L 233.86 332.62
L 233.88 335.12
L 233.72 337.64
L 233.38 340.16
L 232.87 342.68
L 232.19 345.19
L 231.32 347.71
L 230.28 350.21
L 229.06 352.71
L 227.67 355.19
L 226.1 357.65
L 224.36 360.1
L 222.45 362.51
L 219.27 366.09
L 215.72 369.6
L 211.8 373.03
L 211.8 373.03
" clip-path="url(#p7f481affdd)" style="fill: none; stroke-dasharray: 2.775,1.2; stroke-dashoffset: 0; stroke: #4040d0; stroke-opacity: 0.75; stroke-width: 0.75"/>
</g>
<g id="line2d_118">
<path d="M 253.65 385.53
L 249.94 388.55
L 246.02 391.51
L 241.89 394.4
L 237.56 397.24
L 233.03 400
L 228.3 402.69
L 223.39 405.31
L 218.3 407.84
L 213.04 410.29
L 207.6 412.65
L 199.15 416.02
L 190.36 419.17
L 181.26 422.1
L 171.87 424.79
L 162.22 427.23
L 152.34 429.42
L 142.26 431.34
L 132.01 433
L 121.62 434.38
L 111.13 435.48
L 100.56 436.29
L 89.96 436.82
L 79.35 437.06
L 68.77 437.01
L 58.25 436.68
L 47.82 436.05
L 37.52 435.14
L 27.37 433.95
L 17.42 432.47
L 7.69 430.73
L -1 428.89
M -1 258.68
L 7.06 256.44
L 15.98 254.22
L 25.07 252.23
L 34.31 250.46
L 43.68 248.92
L 53.16 247.61
L 62.72 246.54
L 72.34 245.7
L 82 245.1
L 91.67 244.74
L 101.33 244.62
L 110.96 244.74
L 120.54 245.1
L 130.04 245.7
L 139.44 246.54
L 148.71 247.61
L 157.84 248.92
L 166.8 250.46
L 175.58 252.23
L 184.14 254.22
L 192.47 256.44
L 200.55 258.87
L 208.35 261.51
L 215.86 264.36
L 223.06 267.4
L 229.92 270.64
L 236.44 274.07
L 240.58 276.45
L 244.54 278.91
L 248.34 281.44
L 251.95 284.04
L 255.38 286.72
L 258.63 289.46
L 261.68 292.26
L 264.53 295.13
L 267.18 298.05
L 269.62 301.02
L 271.86 304.05
L 273.88 307.13
L 275.69 310.25
L 277.27 313.41
L 278.64 316.61
L 279.78 319.84
L 280.69 323.1
L 281.38 326.39
L 281.83 329.7
L 282.05 333.03
L 282.04 336.38
L 281.79 339.74
L 281.3 343.1
L 280.58 346.47
L 279.62 349.83
L 278.42 353.19
L 276.99 356.54
L 275.32 359.87
L 273.42 363.19
L 271.28 366.48
L 268.91 369.75
L 266.31 372.99
L 263.48 376.19
L 260.42 379.35
L 257.15 382.46
L 253.65 385.53
L 253.65 385.53
" clip-path="url(#p7f481affdd)" style="fill: none; stroke-dasharray: 2.775,1.2; stroke-dashoffset: 0; stroke: #4040d0; stroke-opacity: 0.75; stroke-width: 0.75"/>
</g>
<g id="line2d_119">
<path d="M 296 398.19
L 291.41 402
L 286.55 405.75
L 281.42 409.42
L 276.03 413.02
L 270.39 416.52
L 264.49 419.94
L 258.36 423.26
L 251.99 426.48
L 245.4 429.6
L 238.59 432.61
L 231.57 435.5
L 224.35 438.27
L 216.94 440.92
L 209.35 443.44
L 201.58 445.83
L 193.66 448.08
L 185.58 450.2
L 177.37 452.17
L 169.03 454
L 160.57 455.68
L 152 457.2
L 143.35 458.58
L 134.61 459.79
L 125.81 460.85
L 116.95 461.75
L 108.05 462.49
L 99.12 463.06
L 90.17 463.48
L 81.22 463.72
L 72.28 463.81
L 63.36 463.72
L 54.47 463.48
L 45.63 463.06
L 36.85 462.49
L 28.15 461.75
L 19.53 460.85
L 11 459.79
L 2.59 458.58
L -1 458
M -1 234.6
L 9.85 232.25
L 21.3 230.09
L 32.91 228.2
L 44.64 226.6
L 56.47 225.28
L 68.36 224.26
L 80.3 223.53
L 92.26 223.09
L 104.21 222.94
L 116.11 223.09
L 127.95 223.53
L 139.7 224.26
L 151.33 225.28
L 162.81 226.6
L 174.11 228.2
L 185.21 230.09
L 196.09 232.25
L 206.72 234.69
L 217.06 237.41
L 223.79 239.37
L 230.38 241.44
L 236.81 243.63
L 243.09 245.93
L 249.21 248.35
L 255.15 250.87
L 260.91 253.5
L 266.49 256.23
L 271.88 259.07
L 277.07 262
L 282.05 265.03
L 286.82 268.16
L 291.37 271.37
L 295.7 274.67
L 299.8 278.06
L 303.66 281.53
L 307.28 285.07
L 310.65 288.69
L 313.77 292.37
L 316.64 296.13
L 319.24 299.94
L 321.58 303.82
L 323.65 307.74
L 325.44 311.72
L 326.96 315.75
L 328.19 319.81
L 329.14 323.91
L 329.8 328.04
L 330.17 332.2
L 330.25 336.38
L 330.04 340.58
L 329.53 344.79
L 328.72 349
L 327.62 353.22
L 326.22 357.43
L 324.52 361.64
L 322.52 365.83
L 320.23 370
L 317.64 374.15
L 314.75 378.26
L 311.58 382.34
L 308.11 386.38
L 304.36 390.37
L 300.32 394.31
L 296 398.19
L 296 398.19
" clip-path="url(#p7f481affdd)" style="fill: none; stroke-dasharray: 2.775,1.2; stroke-dashoffset: 0; stroke: #4040d0; stroke-opacity: 0.75; stroke-width: 0.75"/>
</g>
<g id="line2d_120">
<path d="M 338.86 411
L 333.41 415.63
L 327.62 420.19
L 321.51 424.66
L 315.08 429.03
L 308.33 433.3
L 301.27 437.47
L 293.92 441.52
L 286.28 445.45
L 278.35 449.26
L 270.16 452.94
L 261.71 456.47
L 253 459.87
L 244.06 463.11
L 234.89 466.2
L 225.51 469.13
L 215.93 471.89
L 206.15 474.48
L 196.21 476.9
L 186.1 479.15
L 175.85 481.21
L 165.46 483.08
L 154.96 484.77
L 144.36 486.27
L 133.67 487.57
L 122.92 488.67
L 112.11 489.58
L 101.26 490.29
L 90.39 490.79
L 79.51 491.1
L 68.64 491.2
L 57.81 491.1
L 47.01 490.79
L 36.27 490.29
L 25.61 489.58
L 15.04 488.67
L 4.58 487.57
L -1 486.89
M -1 211.88
L 4 210.94
L 13.14 209.35
L 22.36 207.91
L 31.63 206.62
L 40.97 205.47
L 50.34 204.48
L 59.75 203.64
L 69.19 202.95
L 78.65 202.42
L 88.11 202.03
L 97.57 201.8
L 107.02 201.73
L 116.45 201.8
L 125.85 202.03
L 135.21 202.42
L 144.52 202.95
L 153.78 203.64
L 162.97 204.48
L 172.08 205.47
L 181.11 206.62
L 190.04 207.91
L 198.88 209.35
L 207.6 210.94
L 216.2 212.67
L 224.67 214.55
L 233 216.58
L 241.18 218.74
L 249.21 221.05
L 257.08 223.49
L 264.77 226.07
L 272.27 228.79
L 279.59 231.63
L 286.71 234.61
L 293.62 237.72
L 300.32 240.94
L 306.79 244.3
L 313.03 247.77
L 319.04 251.35
L 324.79 255.05
L 330.29 258.86
L 335.53 262.77
L 340.5 266.79
L 345.2 270.9
L 349.61 275.11
L 353.73 279.41
L 357.55 283.8
L 361.07 288.26
L 364.29 292.81
L 367.19 297.43
L 369.77 302.11
L 372.02 306.86
L 373.95 311.67
L 375.54 316.53
L 376.79 321.43
L 377.7 326.38
L 378.26 331.37
L 378.47 336.38
L 378.33 341.42
L 377.84 346.48
L 376.99 351.55
L 375.78 356.62
L 374.21 361.7
L 372.28 366.77
L 369.99 371.82
L 367.34 376.86
L 364.33 381.87
L 360.97 386.84
L 357.25 391.78
L 353.17 396.67
L 348.75 401.51
L 343.98 406.29
L 338.86 411
L 338.86 411
" clip-path="url(#p7f481affdd)" style="fill: none; stroke-dasharray: 2.775,1.2; stroke-dashoffset: 0; stroke: #4040d0; stroke-opacity: 0.75; stroke-width: 0.75"/>
</g>
<g id="line2d_121">
<path d="M 382.24 423.96
L 375.95 429.43
L 369.26 434.82
L 362.18 440.11
L 354.71 445.28
L 346.87 450.35
L 338.66 455.29
L 330.09 460.09
L 321.17 464.76
L 311.91 469.28
L 302.33 473.65
L 292.43 477.86
L 282.23 481.89
L 271.74 485.76
L 260.98 489.43
L 249.95 492.92
L 238.69 496.22
L 227.19 499.32
L 215.48 502.2
L 203.57 504.88
L 191.49 507.34
L 179.24 509.58
L 166.86 511.6
L 154.35 513.39
L 141.73 514.94
L 129.03 516.26
L 116.26 517.35
L 103.45 518.2
L 90.61 518.8
L 77.76 519.16
L 64.92 519.29
L 52.12 519.16
L 39.36 518.8
L 26.68 518.2
L 14.09 517.35
L 1.61 516.26
L -1 516
M -1 190.08
L 6.69 188.84
L 17.37 187.27
L 28.12 185.88
L 38.93 184.66
L 49.78 183.62
L 60.66 182.74
L 71.57 182.05
L 82.48 181.52
L 93.41 181.17
L 104.32 181
L 115.22 181
L 126.08 181.17
L 136.91 181.52
L 147.69 182.05
L 158.41 182.74
L 169.06 183.62
L 179.63 184.66
L 190.12 185.88
L 200.5 187.27
L 210.77 188.84
L 220.92 190.57
L 230.95 192.47
L 240.83 194.53
L 250.56 196.77
L 260.13 199.16
L 269.53 201.72
L 278.75 204.44
L 287.78 207.32
L 296.62 210.36
L 305.24 213.55
L 313.64 216.89
L 321.82 220.38
L 329.75 224.02
L 337.44 227.8
L 344.88 231.72
L 352.04 235.78
L 358.93 239.97
L 365.54 244.29
L 371.85 248.74
L 377.87 253.31
L 383.57 258
L 388.95 262.81
L 394.01 267.72
L 398.73 272.74
L 403.11 277.86
L 407.14 283.08
L 410.81 288.39
L 414.12 293.78
L 417.05 299.26
L 419.61 304.81
L 421.79 310.42
L 423.57 316.1
L 424.97 321.84
L 425.96 327.62
L 426.55 333.45
L 426.73 339.32
L 426.49 345.21
L 425.85 351.13
L 424.78 357.06
L 423.3 363.01
L 421.39 368.95
L 419.06 374.88
L 416.3 380.81
L 413.13 386.71
L 409.52 392.57
L 405.5 398.41
L 401.06 404.19
L 396.2 409.92
L 390.92 415.59
L 385.24 421.19
L 382.24 423.96
L 382.24 423.96
" clip-path="url(#p7f481affdd)" style="fill: none; stroke-dasharray: 2.775,1.2; stroke-dashoffset: 0; stroke: #4040d0; stroke-opacity: 0.75; stroke-width: 0.75"/>
</g>
<g id="line2d_122">
<path d="M 426.15 437.08
L 419.04 443.42
L 411.46 449.65
L 403.43 455.78
L 394.95 461.79
L 386.02 467.66
L 376.66 473.4
L 366.88 478.99
L 356.69 484.42
L 346.09 489.68
L 335.11 494.76
L 323.76 499.67
L 312.05 504.37
L 300 508.88
L 287.62 513.17
L 274.93 517.25
L 261.95 521.09
L 248.7 524.71
L 235.2 528.09
L 221.46 531.22
L 207.5 534.1
L 193.36 536.72
L 179.04 539.08
L 164.58 541.18
L 149.99 543
L 135.3 544.55
L 120.53 545.82
L 105.7 546.81
L 90.83 547.52
L 75.96 547.95
L 61.1 548.09
L 46.28 547.95
L 31.52 547.52
L 16.85 546.81
L 2.28 545.82
L -1 545.55
M -1 168.99
L 7.95 167.71
L 20.12 166.15
L 32.35 164.79
L 44.62 163.62
L 56.93 162.64
L 69.26 161.86
L 81.61 161.27
L 93.96 160.88
L 106.3 160.68
L 118.62 160.68
L 130.91 160.88
L 143.15 161.27
L 155.35 161.86
L 167.47 162.64
L 179.52 163.62
L 191.49 164.79
L 203.35 166.15
L 215.11 167.71
L 226.74 169.46
L 238.24 171.4
L 249.6 173.53
L 260.81 175.84
L 271.85 178.35
L 282.72 181.04
L 293.4 183.91
L 303.88 186.96
L 314.15 190.19
L 324.21 193.6
L 334.03 197.18
L 343.61 200.94
L 352.94 204.86
L 362.01 208.95
L 370.8 213.21
L 379.31 217.63
L 387.52 222.2
L 395.43 226.92
L 403.02 231.8
L 410.29 236.82
L 417.23 241.99
L 423.81 247.29
L 430.04 252.72
L 435.91 258.28
L 441.4 263.97
L 446.51 269.77
L 451.23 275.69
L 455.54 281.72
L 459.45 287.84
L 462.93 294.06
L 466 300.37
L 468.62 306.77
L 470.81 313.24
L 471.74 316.5
L 472.55 319.78
L 473.25 323.07
L 473.84 326.38
L 474.31 329.7
L 474.67 333.03
L 474.9 336.38
L 475.03 339.74
L 475.03 343.1
L 474.92 346.48
L 474.69 349.86
L 474.34 353.25
L 473.87 356.65
L 473.28 360.05
L 472.56 363.46
L 471.73 366.87
L 470.78 370.27
L 469.7 373.68
L 468.51 377.09
L 467.19 380.5
L 465.75 383.91
L 464.19 387.31
L 462.5 390.71
L 460.7 394.1
L 456.72 400.85
L 452.25 407.57
L 447.29 414.24
L 441.85 420.86
L 435.93 427.4
L 429.53 433.88
L 426.15 437.08
L 426.15 437.08
" clip-path="url(#p7f481affdd)" style="fill: none; stroke-dasharray: 2.775,1.2; stroke-dashoffset: 0; stroke: #4040d0; stroke-opacity: 0.75; stroke-width: 0.75"/>
</g>
<g id="line2d_123">
<path d="M 470.59 450.36
L 462.69 457.58
L 454.25 464.69
L 445.28 471.68
L 435.8 478.54
L 425.8 485.25
L 415.3 491.81
L 404.31 498.21
L 392.84 504.43
L 380.91 510.46
L 368.53 516.29
L 355.72 521.91
L 342.49 527.31
L 328.85 532.48
L 314.84 537.42
L 300.46 542.1
L 285.75 546.53
L 270.71 550.69
L 255.38 554.58
L 239.77 558.19
L 223.91 561.51
L 207.82 564.53
L 191.53 567.25
L 175.07 569.67
L 158.46 571.77
L 141.73 573.56
L 124.9 575.02
L 108 576.17
L 91.07 576.99
L 74.12 577.48
L 57.19 577.64
L 40.3 577.48
L 23.48 576.99
L 6.76 576.17
L -1 575.67
M -1 148.51
L 12.28 146.83
L 25.9 145.32
L 39.57 144.03
L 53.28 142.96
L 67.01 142.09
L 80.76 141.45
L 94.5 141.02
L 108.24 140.8
L 121.95 140.8
L 135.63 141.02
L 149.27 141.45
L 162.84 142.09
L 176.34 142.96
L 189.77 144.03
L 203.09 145.32
L 216.31 146.83
L 229.42 148.54
L 242.39 150.47
L 255.22 152.61
L 267.9 154.96
L 280.41 157.51
L 292.74 160.28
L 304.89 163.24
L 316.83 166.41
L 328.56 169.79
L 340.06 173.36
L 351.32 177.13
L 362.34 181.09
L 373.09 185.25
L 383.57 189.59
L 393.76 194.12
L 403.66 198.84
L 413.25 203.73
L 422.51 208.81
L 431.45 214.05
L 440.04 219.47
L 448.27 225.05
L 456.14 230.79
L 463.63 236.69
L 470.72 242.74
L 477.42 248.94
L 483.7 255.27
L 489.57 261.75
L 495 268.36
L 499.98 275.09
L 504.51 281.93
L 506.61 285.4
L 508.58 288.9
L 510.44 292.42
L 512.18 295.96
L 513.8 299.53
L 515.29 303.13
L 516.67 306.74
L 517.92 310.38
L 519.04 314.04
L 520.04 317.72
L 520.91 321.42
L 521.66 325.13
L 522.28 328.87
L 522.76 332.62
L 523.12 336.38
L 523.35 340.16
L 523.44 343.95
L 523.4 347.75
L 523.23 351.56
L 522.92 355.38
L 522.48 359.21
L 521.91 363.05
L 521.2 366.89
L 520.35 370.74
L 519.36 374.59
L 518.24 378.44
L 516.98 382.3
L 515.58 386.15
L 514.04 390
L 512.37 393.85
L 510.55 397.7
L 508.6 401.54
L 506.51 405.37
L 504.28 409.2
L 501.91 413.01
L 499.4 416.82
L 496.75 420.61
L 493.96 424.39
L 491.04 428.16
L 487.97 431.91
L 484.77 435.64
L 481.43 439.35
L 477.95 443.04
L 474.34 446.71
L 470.59 450.36
L 470.59 450.36
" clip-path="url(#p7f481affdd)" style="fill: none; stroke-dasharray: 2.775,1.2; stroke-dashoffset: 0; stroke: #4040d0; stroke-opacity: 0.75; stroke-width: 0.75"/>
</g>
<g id="line2d_124">
<path d="M 515.59 463.81
L 511.33 467.88
L 506.91 471.93
L 502.35 475.95
L 497.63 479.94
L 492.77 483.89
L 487.75 487.82
L 482.59 491.7
L 477.28 495.55
L 471.82 499.36
L 466.22 503.13
L 460.47 506.86
L 454.59 510.54
L 448.56 514.18
L 436.1 521.31
L 423.09 528.24
L 409.56 534.95
L 395.52 541.44
L 380.99 547.69
L 365.99 553.69
L 350.54 559.43
L 334.66 564.89
L 318.37 570.07
L 301.7 574.95
L 284.68 579.53
L 267.32 583.8
L 249.65 587.74
L 231.71 591.35
L 213.52 594.62
L 195.11 597.55
L 176.51 600.12
L 157.75 602.34
L 138.86 604.19
L 119.88 605.68
L 100.84 606.8
L 81.77 607.55
L 62.69 607.92
L 43.65 607.92
L 24.68 607.55
L 5.8 606.8
L -1 606.43
M -1 128.57
L 12.08 127.04
L 27.1 125.52
L 42.16 124.23
L 57.25 123.18
L 72.36 122.36
L 87.48 121.77
L 102.59 121.42
L 117.68 121.3
L 132.74 121.42
L 147.76 121.77
L 162.72 122.36
L 177.62 123.18
L 192.43 124.23
L 207.15 125.52
L 221.76 127.04
L 236.25 128.79
L 250.6 130.78
L 264.82 132.99
L 278.87 135.44
L 292.76 138.11
L 306.46 141.01
L 319.97 144.13
L 333.27 147.48
L 346.34 151.05
L 359.18 154.84
L 371.78 158.85
L 384.11 163.07
L 396.17 167.51
L 407.94 172.16
L 419.42 177.01
L 430.58 182.07
L 441.42 187.33
L 451.91 192.79
L 462.06 198.45
L 471.84 204.29
L 481.24 210.33
L 490.26 216.54
L 498.87 222.94
L 507.06 229.51
L 514.82 236.24
L 522.15 243.14
L 529.02 250.2
L 532.28 253.79
L 535.42 257.41
L 538.45 261.07
L 541.35 264.77
L 544.13 268.5
L 546.79 272.26
L 549.32 276.06
L 551.72 279.89
L 554 283.75
L 556.14 287.65
L 558.16 291.57
L 560.04 295.52
L 561.8 299.5
L 563.41 303.5
L 564.89 307.53
L 566.23 311.59
L 567.44 315.67
L 568.5 319.77
L 569.42 323.89
L 570.21 328.04
L 570.84 332.2
L 571.34 336.38
L 571.69 340.58
L 571.89 344.79
L 571.95 349.02
L 571.85 353.26
L 571.61 357.52
L 571.22 361.78
L 570.68 366.06
L 569.99 370.34
L 569.14 374.63
L 568.14 378.92
L 566.99 383.22
L 565.69 387.52
L 564.23 391.83
L 562.62 396.13
L 560.85 400.44
L 558.92 404.74
L 556.84 409.03
L 554.61 413.32
L 552.21 417.6
L 549.66 421.88
L 546.96 426.14
L 544.1 430.4
L 541.08 434.63
L 537.9 438.86
L 534.57 443.07
L 531.08 447.26
L 527.44 451.43
L 523.64 455.58
L 519.69 459.7
L 515.59 463.81
L 515.59 463.81
" clip-path="url(#p7f481affdd)" style="fill: none; stroke-dasharray: 2.775,1.2; stroke-dashoffset: 0; stroke: #4040d0; stroke-opacity: 0.75; stroke-width: 0.75"/>
</g>
<g id="line2d_125">
<path d="M 89.17 336.38
L 515.59 463.81
" clip-path="url(#p7f481affdd)" style="fill: none; stroke-dasharray: 2.775,1.2; stroke-dashoffset: 0; stroke: #4040d0; stroke-opacity: 0.75; stroke-width: 0.75"/>
</g>
<g id="line2d_126">
<path d="M 89.17 336.38
L 326.57 567.52
" clip-path="url(#p7f481affdd)" style="fill: none; stroke-dasharray: 2.775,1.2; stroke-dashoffset: 0; stroke: #4040d0; stroke-opacity: 0.75; stroke-width: 0.75"/>
</g>
<g id="line2d_127">
<path d="M 89.17 336.38
L 53.16 607.97
" clip-path="url(#p7f481affdd)" style="fill: none; stroke-dasharray: 2.775,1.2; stroke-dashoffset: 0; stroke: #4040d0; stroke-opacity: 0.75; stroke-width: 0.75"/>
</g>
<g id="line2d_128">
<path d="M 89.17 336.38
L -1 406.16
" clip-path="url(#p7f481affdd)" style="fill: none; stroke-dasharray: 2.775,1.2; stroke-dashoffset: 0; stroke: #4040d0; stroke-opacity: 0.75; stroke-width: 0.75"/>
</g>
<g id="line2d_129">
<path d="M 89.17 336.38
L -1 361.35
" clip-path="url(#p7f481affdd)" style="fill: none; stroke-dasharray: 2.775,1.2; stroke-dashoffset: 0; stroke: #4040d0; stroke-opacity: 0.75; stroke-width: 0.75"/>
</g>
<g id="line2d_130">
<path d="M 89.17 336.38
L -1 336.38
" clip-path="url(#p7f481affdd)" style="fill: none; stroke-dasharray: 2.775,1.2; stroke-dashoffset: 0; stroke: #4040d0; stroke-opacity: 0.75; stroke-width: 0.75"/>
</g>
<g id="line2d_131">
<path d="M 89.17 336.38
L -1 309.43
" clip-path="url(#p7f481affdd)" style="fill: none; stroke-dasharray: 2.775,1.2; stroke-dashoffset: 0; stroke: #4040d0; stroke-opacity: 0.75; stroke-width: 0.75"/>
</g>
<g id="line2d_132">
<path d="M 89.17 336.38
L -1 248.59
" clip-path="url(#p7f481affdd)" style="fill: none; stroke-dasharray: 2.775,1.2; stroke-dashoffset: 0; stroke: #4040d0; stroke-opacity: 0.75; stroke-width: 0.75"/>
</g>
<g id="line2d_133">
<path d="M 89.17 336.38
L 117.68 121.3
" clip-path="url(#p7f481affdd)" style="fill: none; stroke-dasharray: 2.775,1.2; stroke-dashoffset: 0; stroke: #4040d0; stroke-opacity: 0.75; stroke-width: 0.75"/>
</g>
<g id="line2d_134">
<path d="M 89.17 336.38
L 333.27 147.48
" clip-path="url(#p7f481affdd)" style="fill: none; stroke-dasharray: 2.775,1.2; stroke-dashoffset: 0; stroke: #4040d0; stroke-opacity: 0.75; stroke-width: 0.75"/>
</g>
<g id="line2d_135">
<path d="M 89.17 336.38
L 498.87 222.94
" clip-path="url(#p7f481affdd)" style="fill: none; stroke-dasharray: 2.775,1.2; stroke-dashoffset: 0; stroke: #4040d0; stroke-opacity: 0.75; stroke-width: 0.75"/>
</g>
<g id="line2d_136">
<path d="M 89.17 336.38
L 571.34 336.38
" clip-path="url(#p7f481affdd)" style="fill: none; stroke-dasharray: 2.775,1.2; stroke-dashoffset: 0; stroke: #4040d0; stroke-opacity: 0.75; stroke-width: 0.75"/>
</g>
<g id="line2d_137">
<path d="M 468.29 237.31
L 466.45 348.2
" clip-path="url(#p7f481affdd)" style="fill: none; stroke-dasharray: 5.55,2.4; stroke-dashoffset: 0; stroke: #9400d3; stroke-width: 1.5"/>
</g>
<g id="line2d_138">
<defs>
<path id="mbc1098b90c" d="M -0 4.24
L 4.24 0
L 0 -4.24
L -4.24 -0
z
" style="stroke: #9400d3; stroke-linejoin: miter"/>
</defs>
<g clip-path="url(#p7f481affdd)">
<use href="#mbc1098b90c" x="466.45" y="348.2" style="fill: #9400d3; stroke: #9400d3; stroke-linejoin: miter"/>
</g>
</g>
<g id="line2d_139">
<defs>
<path id="mc7a7640c44" d="M -3.25 3.25
L 3.25 -3.25
M -3.25 -3.25
L 3.25 3.25
" style="stroke: #9400d3"/>
</defs>
<g clip-path="url(#p7f481affdd)">
<use href="#mc7a7640c44" x="468.29" y="237.31" style="fill: #9400d3; stroke: #9400d3"/>
</g>
</g>
<g id="Path3DCollection_3">
<defs>
<path id="mcb3bd708b5" d="M 0 2.5
C 0.66 2.5 1.3 2.24 1.77 1.77
C 2.24 1.3 2.5 0.66 2.5 0
C 2.5 -0.66 2.24 -1.3 1.77 -1.77
C 1.3 -2.24 0.66 -2.5 0 -2.5
C -0.66 -2.5 -1.3 -2.24 -1.77 -1.77
C -2.24 -1.3 -2.5 -0.66 -2.5 0
C -2.5 0.66 -2.24 1.3 -1.77 1.77
C -1.3 2.24 -0.66 2.5 0 2.5
z
" style="stroke: #000000; stroke-width: 0.5"/>
</defs>
<g clip-path="url(#p7f481affdd)">
<use href="#mcb3bd708b5" x="65.5" y="340.34" style="fill: #1f77b4; stroke: #000000; stroke-width: 0.5"/>
</g>
</g>
<g id="Path3DCollection_4">
<defs>
<path id="m3def15e976" d="M 0 2.5
C 0.66 2.5 1.3 2.24 1.77 1.77
C 2.24 1.3 2.5 0.66 2.5 0
C 2.5 -0.66 2.24 -1.3 1.77 -1.77
C 1.3 -2.24 0.66 -2.5 0 -2.5
C -0.66 -2.5 -1.3 -2.24 -1.77 -1.77
C -2.24 -1.3 -2.5 -0.66 -2.5 0
C -2.5 0.66 -2.24 1.3 -1.77 1.77
C -1.3 2.24 -0.66 2.5 0 2.5
z
" style="stroke: #000000; stroke-width: 0.5"/>
</defs>
<g clip-path="url(#p7f481affdd)">
<use href="#m3def15e976" x="74.7" y="352.61" style="fill: #c1440e; stroke: #000000; stroke-width: 0.5"/>
</g>
</g>
<g id="Path3DCollection_5">
<defs>
<path id="mda2690b8ea" d="M 0 2.5
C 0.66 2.5 1.3 2.24 1.77 1.77
C 2.24 1.3 2.5 0.66 2.5 0
C 2.5 -0.66 2.24 -1.3 1.77 -1.77
C 1.3 -2.24 0.66 -2.5 0 -2.5
C -0.66 -2.5 -1.3 -2.24 -1.77 -1.77
C -2.24 -1.3 -2.5 -0.66 -2.5 0
C -2.5 0.66 -2.24 1.3 -1.77 1.77
C -1.3 2.24 -0.66 2.5 0 2.5
z
" style="stroke: #000000; stroke-width: 0.5"/>
</defs>
<g clip-path="url(#p7f481affdd)">
<use href="#mda2690b8ea" x="19.42" y="390.52" style="fill: #a0522d; stroke: #000000; stroke-width: 0.5"/>
</g>
</g>
<g id="Path3DCollection_6">
<defs>
<path id="m8874363be5" d="M 0 2.5
C 0.66 2.5 1.3 2.24 1.77 1.77
C 2.24 1.3 2.5 0.66 2.5 0
C 2.5 -0.66 2.24 -1.3 1.77 -1.77
C 1.3 -2.24 0.66 -2.5 0 -2.5
C -0.66 -2.5 -1.3 -2.24 -1.77 -1.77
C -2.24 -1.3 -2.5 -0.66 -2.5 0
C -2.5 0.66 -2.24 1.3 -1.77 1.77
C -1.3 2.24 -0.66 2.5 0 2.5
z
" style="stroke: #000000; stroke-width: 0.5"/>
</defs>
<g clip-path="url(#p7f481affdd)"/>
</g>
<g id="Path3DCollection_7">
<defs>
<path id="m5ba54284c5" d="M 0 2.5
C 0.66 2.5 1.3 2.24 1.77 1.77
C 2.24 1.3 2.5 0.66 2.5 0
C 2.5 -0.66 2.24 -1.3 1.77 -1.77
C 1.3 -2.24 0.66 -2.5 0 -2.5
C -0.66 -2.5 -1.3 -2.24 -1.77 -1.77
C -2.24 -1.3 -2.5 -0.66 -2.5 0
C -2.5 0.66 -2.24 1.3 -1.77 1.77
C -1.3 2.24 -0.66 2.5 0 2.5
z
" style="stroke: #000000; stroke-width: 0.5"/>
</defs>
<g clip-path="url(#p7f481affdd)">
<use href="#m5ba54284c5" x="198.91" y="594.2" style="fill: #add8e6; stroke: #000000; stroke-width: 0.5"/>
</g>
</g>
<g id="text_27">
<text style="font-size: 9px; font-family: 'Liberation Sans', sans-serif; text-anchor: start" x="64.31" y="340.54" transform="rotate(-0 64.30921 340.54191)">Maa</text>
</g>
<g id="text_28">
<text style="font-size: 9px; font-family: 'Liberation Sans', sans-serif; text-anchor: start" x="73.97" y="353.43" transform="rotate(-0 73.96618 353.42527)">Mars</text>
</g>
<g id="text_29">
<text style="font-size: 9px; font-family: 'Liberation Sans', sans-serif; text-anchor: start" x="15.84" y="393.3" transform="rotate(-0 15.83908 393.29561)">Jupiter</text>
</g>
<g id="text_30">
<text style="font-size: 9px; font-family: 'Liberation Sans', sans-serif; text-anchor: start" x="-153.95" y="386.41" transform="rotate(-0 -153.95204 386.40866)">Saturnus</text>
</g>
<g id="text_31">
<text style="font-size: 9px; font-family: 'Liberation Sans', sans-serif; text-anchor: start" x="205.11" y="608.77" transform="rotate(-0 205.11303 608.76845)">Uranus</text>
</g>
<g id="legend_1">
<g id="Path3DCollection_8">
<g>
<use href="#mcb3bd708b5" x="40.6" y="558.61" style="fill: #1f77b4; stroke: #000000; stroke-width: 0.5"/>
</g>
</g>
<g id="text_32">
<text style="font-size: 10px; font-family: 'Liberation Sans', sans-serif; text-anchor: start; fill: #262626" x="58.6" y="561.23" transform="rotate(-0 58.6 561.23)">Maa</text>
</g>
<g id="Path3DCollection_9">
<g>
<use href="#m3def15e976" x="40.6" y="572.93" style="fill: #c1440e; stroke: #000000; stroke-width: 0.5"/>
</g>
</g>
<g id="text_33">
<text style="font-size: 10px; font-family: 'Liberation Sans', sans-serif; text-anchor: start; fill: #262626" x="58.6" y="575.55" transform="rotate(-0 58.6 575.55187)">Mars</text>
</g>
<g id="Path3DCollection_10">
<g>
<use href="#mda2690b8ea" x="40.6" y="587.25" style="fill: #a0522d; stroke: #000000; stroke-width: 0.5"/>
</g>
</g>
<g id="text_34">
<text style="font-size: 10px; font-family: 'Liberation Sans', sans-serif; text-anchor: start; fill: #262626" x="58.6" y="589.87" transform="rotate(-0 58.6 589.87375)">Jupiter</text>
</g>
<g id="Path3DCollection_11">
<g>
<use href="#m8874363be5" x="40.6" y="601.57" style="fill: #c2a57a; stroke: #000000; stroke-width: 0.5"/>
</g>
</g>
<g id="text_35">
<text style="font-size: 10px; font-family: 'Liberation Sans', sans-serif; text-anchor: start; fill: #262626" x="58.6" y="604.2" transform="rotate(-0 58.6 604.19562)">Saturnus</text>
</g>
<g id="Path3DCollection_12">
<g>
<use href="#m5ba54284c5" x="40.6" y="615.89" style="fill: #add8e6; stroke: #000000; stroke-width: 0.5"/>
</g>
</g>
<g id="text_36">
<text style="font-size: 10px; font-family: 'Liberation Sans', sans-serif; text-anchor: start; fill: #262626" x="58.6" y="618.52" transform="rotate(-0 58.6 618.5175)">Uranus</text>
</g>
<g id="line2d_140">
<g>
<use href="#m7e0662d85e" x="40.6" y="629.34" style="fill: #ffff00; stroke: #000000; stroke-width: 0.6"/>
</g>
</g>
<g id="text_37">
<text style="font-size: 10px; font-family: 'Liberation Sans', sans-serif; text-anchor: start; fill: #262626" x="58.6" y="632.84" transform="rotate(-0 58.6 632.83938)">Aurinko</text>
</g>
<g id="line2d_141">
<g>
<use href="#mbc1098b90c" x="40.6" y="643.66" style="fill: #9400d3; stroke: #9400d3; stroke-linejoin: miter"/>
</g>
</g>
<g id="text_38">
<text style="font-size: 10px; font-family: 'Liberation Sans', sans-serif; text-anchor: start; fill: #262626" x="58.6" y="647.16" transform="rotate(-0 58.6 647.16125)">Apheli</text>
</g>
<g id="line2d_142">
<path d="M 30.6 657.98
L 40.6 657.98
L 50.6 657.98
" style="fill: none; stroke: #008000; stroke-opacity: 0.85; stroke-width: 1.2; stroke-linecap: round"/>
</g>
<g id="text_39">
<text style="font-size: 10px; font-family: 'Liberation Sans', sans-serif; text-anchor: start; fill: #262626" x="58.6" y="661.48" transform="rotate(-0 58.6 661.48312)">Meteoroidin rata (ekliptikan yläpuolella)</text>
</g>
<g id="line2d_143">
<path d="M 30.6 672.3
L 40.6 672.3
L 50.6 672.3
" style="fill: none; stroke: #ff0000; stroke-opacity: 0.85; stroke-width: 1.2; stroke-linecap: round"/>
</g>
<g id="text_40">
<text style="font-size: 10px; font-family: 'Liberation Sans', sans-serif; text-anchor: start; fill: #262626" x="58.6" y="675.8" transform="rotate(-0 58.6 675.805)">Meteoroidin rata (ekliptikan alapuolella)</text>
</g>
</g>
</g>
<g id="text_41">
<text style="font-style: italic; font-size: 16px; font-family: 'Liberation Sans', sans-serif; text-anchor: middle; fill: #262626" x="354.24" y="68.83" transform="rotate(-0 354.24 68.832)">Meteoroidin heliosentrinen kiertorata</text>
</g>
</g>
<defs>
<clipPath id="p7f481affdd">
<rect x="21.6" y="21.6" width="665.28" height="665.28"/>
</clipPath>
</defs>
</svg>
</body></html>
